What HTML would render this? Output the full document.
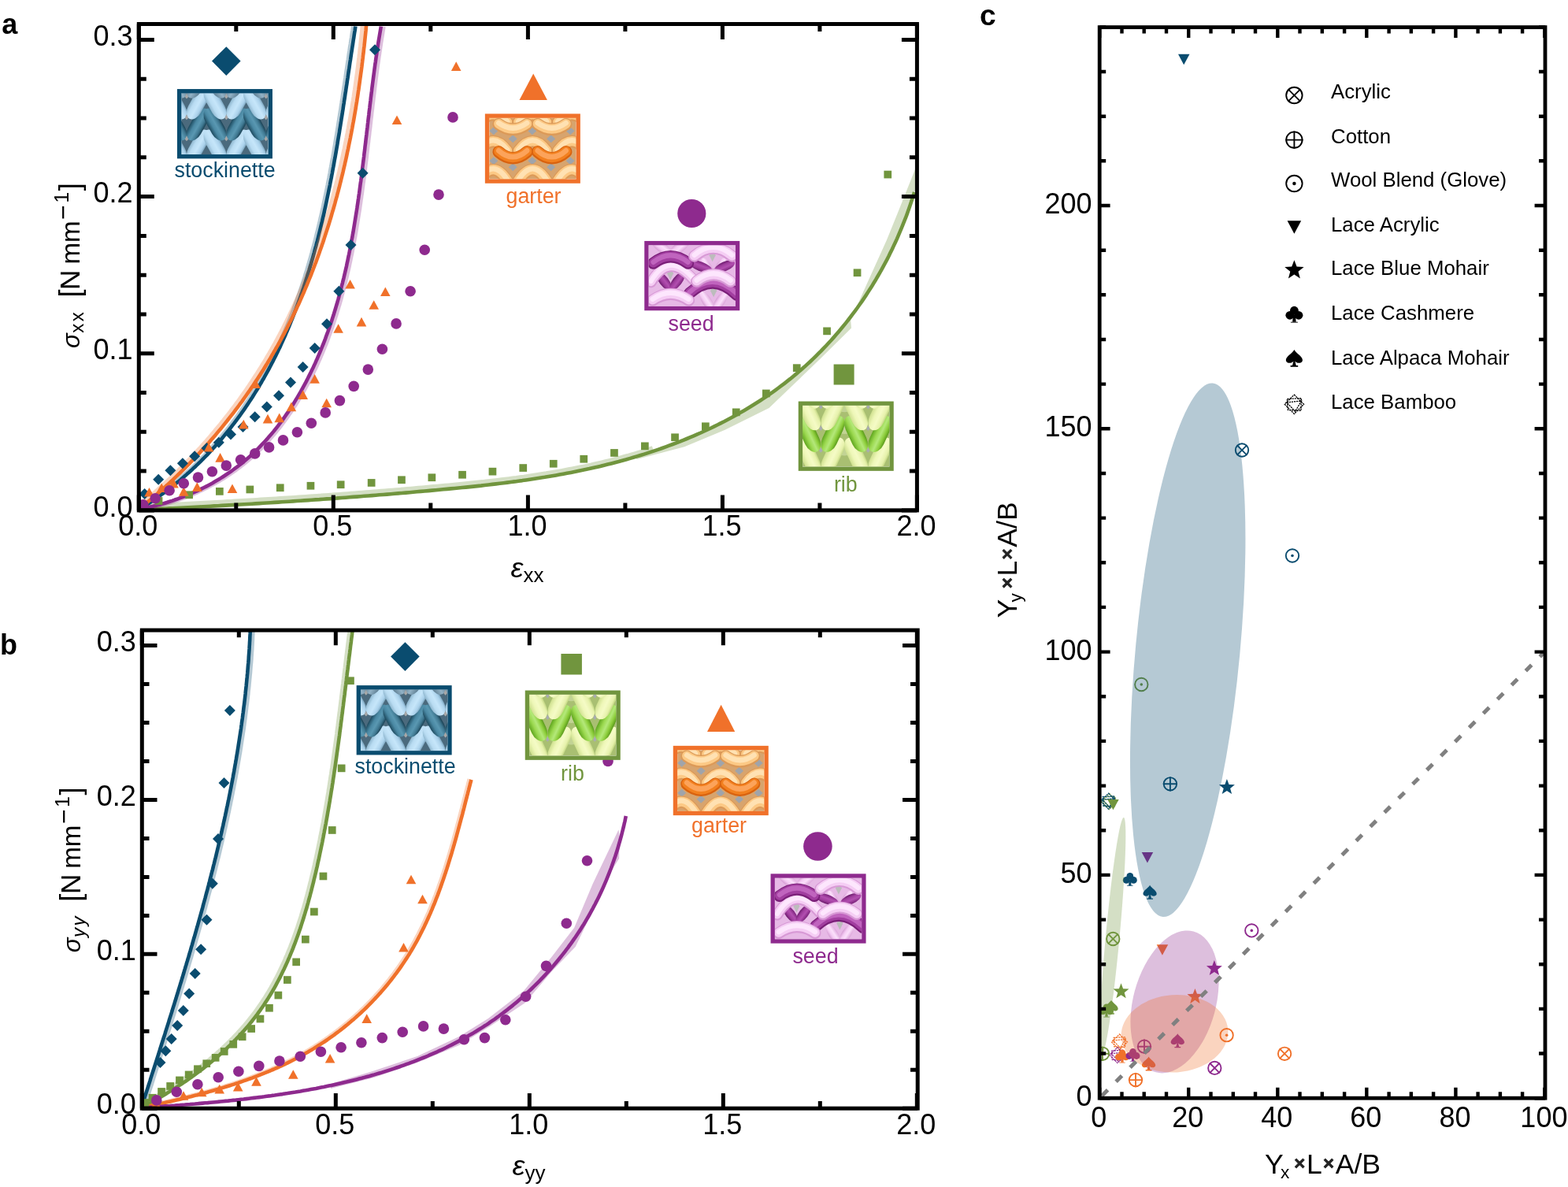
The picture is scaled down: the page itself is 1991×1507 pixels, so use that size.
<!DOCTYPE html><html><head><meta charset="utf-8"><style>html,body{margin:0;padding:0;background:#fff;overflow:hidden}svg{display:block}</style></head><body><svg width="1991" height="1507" viewBox="0 0 1991 1507" font-family="'Liberation Sans', sans-serif"><defs><linearGradient id="gLB" x1="0" y1="0" x2="1" y2="0"><stop offset="0" stop-color="#8fb7cf"/><stop offset="0.25" stop-color="#b9dcf2"/><stop offset="0.55" stop-color="#c6e6fa"/><stop offset="0.85" stop-color="#a9d0ea"/><stop offset="1" stop-color="#7ea7c0"/></linearGradient><linearGradient id="gMB" x1="0" y1="0" x2="1" y2="0"><stop offset="0" stop-color="#5d7d91"/><stop offset="0.5" stop-color="#92b2c6"/><stop offset="1" stop-color="#5d7d91"/></linearGradient><linearGradient id="gDB" x1="0" y1="0" x2="1" y2="0"><stop offset="0" stop-color="#1d4a5e"/><stop offset="0.3" stop-color="#4a88a3"/><stop offset="0.55" stop-color="#5a98b2"/><stop offset="0.8" stop-color="#3f7891"/><stop offset="1" stop-color="#1a4154"/></linearGradient><linearGradient id="gLO" x1="0" y1="0" x2="0" y2="1"><stop offset="0" stop-color="#e7a255"/><stop offset="0.4" stop-color="#fed9a2"/><stop offset="0.7" stop-color="#fcc985"/><stop offset="1" stop-color="#d98d40"/></linearGradient><linearGradient id="gDO" x1="0" y1="0" x2="0" y2="1"><stop offset="0" stop-color="#d4601a"/><stop offset="0.4" stop-color="#fa9a45"/><stop offset="0.7" stop-color="#f4832c"/><stop offset="1" stop-color="#c45514"/></linearGradient><linearGradient id="gLP" x1="0" y1="0" x2="0" y2="1"><stop offset="0" stop-color="#d9a0d6"/><stop offset="0.4" stop-color="#fbe0fb"/><stop offset="0.7" stop-color="#f5cdf4"/><stop offset="1" stop-color="#cf95cc"/></linearGradient><linearGradient id="gDP" x1="0" y1="0" x2="0" y2="1"><stop offset="0" stop-color="#6d1c6d"/><stop offset="0.4" stop-color="#b556b5"/><stop offset="0.7" stop-color="#a040a0"/><stop offset="1" stop-color="#5e165e"/></linearGradient><linearGradient id="gLPv" x1="0" y1="0" x2="1" y2="0"><stop offset="0" stop-color="#dca4da"/><stop offset="0.4" stop-color="#fbe0fb"/><stop offset="0.7" stop-color="#f5cdf4"/><stop offset="1" stop-color="#d59cd3"/></linearGradient><linearGradient id="gDPv" x1="0" y1="0" x2="1" y2="0"><stop offset="0" stop-color="#7a217a"/><stop offset="0.4" stop-color="#b24fb0"/><stop offset="0.7" stop-color="#a03e9e"/><stop offset="1" stop-color="#6b1a6b"/></linearGradient><linearGradient id="gLG" x1="0" y1="0" x2="1" y2="0"><stop offset="0" stop-color="#cfe08f"/><stop offset="0.3" stop-color="#eef7b8"/><stop offset="0.55" stop-color="#f5fbc6"/><stop offset="0.85" stop-color="#e6f1ab"/><stop offset="1" stop-color="#c2d683"/></linearGradient><linearGradient id="gBG" x1="0" y1="0" x2="1" y2="0"><stop offset="0" stop-color="#5fa51e"/><stop offset="0.3" stop-color="#9ad84e"/><stop offset="0.55" stop-color="#b4e87a"/><stop offset="0.8" stop-color="#8ccd3a"/><stop offset="1" stop-color="#5a9a1c"/></linearGradient><clipPath id="clipA"><rect x="176.3" y="30.5" width="988.1000000000001" height="617.4"/></clipPath><clipPath id="clipB"><rect x="180.3" y="800.1" width="984.9000000000001" height="607.1"/></clipPath><clipPath id="ic1"><rect x="230.2" y="118.3" width="110.4" height="77.7"/></clipPath><clipPath id="ic2"><rect x="621.2" y="149.7" width="110.4" height="77.7"/></clipPath><clipPath id="ic3"><rect x="823.6" y="311.3" width="110.4" height="77.7"/></clipPath><clipPath id="ic4"><rect x="1019.1" y="514.9" width="110.4" height="77.7"/></clipPath><clipPath id="ic5"><rect x="458.0" y="875.4" width="110.4" height="77.7"/></clipPath><clipPath id="ic6"><rect x="672.1" y="881.9" width="110.4" height="77.7"/></clipPath><clipPath id="ic7"><rect x="860.1" y="952.2" width="110.4" height="77.7"/></clipPath><clipPath id="ic8"><rect x="983.9" y="1114.6" width="110.4" height="77.7"/></clipPath><clipPath id="clipC"><rect x="1396.2" y="34.6" width="565.8" height="1359.6000000000001"/></clipPath></defs><rect width="1991" height="1507" fill="#fff"/><g clip-path="url(#clipA)">
<path d="M176.2,647.3 L181.0,647.1 L185.8,646.8 L190.6,646.6 L195.4,646.4 L200.2,646.1 L205.0,645.9 L209.8,645.7 L214.6,645.4 L219.4,645.2 L224.2,645.0 L229.0,644.7 L233.8,644.5 L238.6,644.2 L243.3,644.0 L248.1,643.7 L252.9,643.5 L257.7,643.2 L262.5,643.0 L267.2,642.7 L272.0,642.4 L276.8,642.2 L281.6,641.9 L286.4,641.6 L291.1,641.4 L295.9,641.1 L300.7,640.8 L305.5,640.5 L310.2,640.3 L315.0,640.0 L319.8,639.7 L324.5,639.4 L329.3,639.1 L334.1,638.8 L338.8,638.5 L343.6,638.2 L348.4,637.9 L353.2,637.6 L357.9,637.3 L362.7,637.0 L367.5,636.7 L372.2,636.4 L377.0,636.0 L381.7,635.7 L386.5,635.4 L391.3,635.1 L396.0,634.8 L400.8,634.4 L405.6,634.1 L410.3,633.7 L415.1,633.4 L419.9,633.1 L424.6,632.7 L429.4,632.4 L434.2,632.0 L438.9,631.7 L443.7,631.3 L448.5,630.9 L453.2,630.6 L458.0,630.2 L462.7,629.8 L467.5,629.5 L472.3,629.1 L477.0,628.7 L481.8,628.3 L486.6,628.0 L491.4,627.6 L496.1,627.2 L500.9,626.8 L505.7,626.4 L510.4,626.0 L515.2,625.6 L520.0,625.2 L524.7,624.8 L529.5,624.3 L534.3,623.9 L539.1,623.5 L543.8,623.1 L548.6,622.6 L553.4,622.2 L558.2,621.8 L563.0,621.3 L567.7,620.9 L572.5,620.4 L577.3,620.0 L582.1,619.5 L586.9,619.0 L591.6,618.6 L596.4,618.1 L601.2,617.6 L606.0,617.1 L610.8,616.6 L615.5,616.0 L620.3,615.5 L625.1,614.9 L629.8,614.4 L634.6,613.8 L639.4,613.2 L644.1,612.6 L648.9,612.0 L653.7,611.4 L658.4,610.7 L663.2,610.1 L667.9,609.4 L672.7,608.7 L677.5,608.0 L682.2,607.3 L686.9,606.5 L691.7,605.8 L696.4,605.0 L701.1,604.2 L705.9,603.4 L710.6,602.6 L715.3,601.7 L720.0,600.8 L724.8,599.9 L729.5,599.0 L734.2,598.0 L738.9,597.1 L743.6,596.1 L748.3,595.1 L752.9,594.0 L757.6,593.0 L762.3,591.9 L767.0,590.7 L771.6,589.6 L776.3,588.4 L780.9,587.2 L785.6,586.0 L790.2,584.7 L794.8,583.5 L799.5,582.1 L804.1,580.8 L808.7,579.4 L813.3,578.0 L817.9,576.6 L822.5,575.1 L827.0,573.6 L831.6,572.1 L836.1,570.6 L840.7,569.0 L845.2,567.4 L849.7,565.7 L854.2,564.0 L858.7,562.3 L863.2,560.6 L867.6,558.8 L872.1,557.0 L876.5,555.2 L880.9,553.3 L885.3,551.4 L889.7,549.5 L894.0,547.5 L898.4,545.5 L902.7,543.5 L907.0,541.4 L911.3,539.3 L915.5,537.1 L919.8,535.0 L924.0,532.8 L928.2,530.5 L932.4,528.2 L936.5,525.9 L940.7,523.6 L944.8,521.2 L948.9,518.8 L953.0,516.3 L957.0,513.8 L961.0,511.3 L965.0,508.7 L969.0,506.1 L972.9,503.5 L976.8,500.8 L980.7,498.1 L984.6,495.3 L988.4,492.5 L992.2,489.7 L996.0,486.8 L999.7,483.9 L1003.5,480.9 L1007.1,477.9 L1010.8,474.9 L1014.4,471.8 L1018.0,468.7 L1021.6,465.6 L1025.1,462.4 L1028.6,459.2 L1032.1,455.9 L1035.5,452.6 L1038.9,449.2 L1042.3,445.9 L1045.6,442.4 L1048.9,439.0 L1052.1,435.5 L1055.4,432.0 L1058.6,428.4 L1061.7,424.8 L1064.8,421.2 L1067.9,417.5 L1071.0,413.8 L1074.0,410.1 L1077.0,406.3 L1079.9,402.5 L1082.8,398.7 L1085.7,394.8 L1088.5,391.0 L1091.3,387.0 L1094.1,383.1 L1096.8,379.1 L1099.5,375.1 L1102.1,371.1 L1104.7,367.0 L1107.3,362.9 L1109.8,358.8 L1112.3,354.7 L1114.7,350.5 L1117.1,346.3 L1119.5,342.1 L1121.8,337.8 L1124.1,333.6 L1126.4,329.3 L1128.6,325.0 L1130.7,320.6 L1132.9,316.3 L1134.9,311.9 L1137.0,307.5 L1139.0,303.1 L1140.9,298.6 L1142.8,294.2 L1144.7,289.7 L1146.5,285.2 L1148.3,280.7 L1150.1,276.2 L1151.8,271.6 L1153.4,267.0 L1155.0,262.5 L1156.6,257.8 L1158.1,253.2 L1159.6,248.6 L1161.0,244.0" fill="none" stroke="#71953e" stroke-width="4.6" stroke-linejoin="round"/>
<path d="M178.2,643.3 L183.0,643.1 L187.8,642.8 L192.6,642.6 L197.4,642.4 L202.2,642.1 L207.0,641.9 L211.8,641.7 L216.6,641.4 L221.4,641.2 L226.2,641.0 L231.0,640.7 L235.8,640.5 L240.6,640.2 L245.3,640.0 L250.1,639.7 L254.9,639.5 L259.7,639.2 L264.5,639.0 L269.2,638.7 L274.0,638.4 L278.8,638.2 L283.6,637.9 L288.4,637.6 L293.1,637.4 L297.9,637.1 L302.7,636.8 L307.5,636.5 L312.2,636.3 L317.0,636.0 L321.8,635.7 L326.5,635.4 L331.3,635.1 L336.1,634.8 L340.8,634.5 L345.6,634.2 L350.4,633.9 L355.2,633.6 L359.9,633.3 L364.7,633.0 L369.5,632.7 L374.2,632.4 L379.0,632.0 L383.7,631.7 L388.5,631.4 L393.3,631.1 L398.0,630.8 L402.8,630.4 L407.6,630.1 L412.3,629.7 L417.1,629.4 L421.9,629.1 L426.6,628.7 L431.4,628.4 L436.2,628.0 L440.9,627.7 L445.7,627.3 L450.5,626.9 L455.2,626.6 L460.0,626.2 L464.7,625.8 L469.5,625.5 L474.3,625.1 L479.0,624.7 L483.8,624.3 L488.6,624.0 L493.4,623.6 L498.1,623.2 L502.9,622.8 L507.7,622.4 L512.4,622.0 L517.2,621.6 L522.0,621.2 L526.7,620.8 L531.5,620.3 L536.3,619.9 L541.1,619.5 L545.8,619.1 L550.6,618.6 L555.4,618.2 L560.2,617.8 L565.0,617.3 L569.7,616.9 L574.5,616.4 L579.3,616.0 L584.1,615.5 L588.9,615.0 L593.6,614.6 L598.4,614.1 L603.2,613.6 L608.0,613.1 L612.8,612.6 L617.5,612.0 L622.3,611.5 L627.1,610.9 L631.8,610.4 L636.6,609.8 L641.4,609.2 L646.1,608.6 L650.9,608.0 L655.7,607.4 L660.4,606.7 L665.2,606.1 L669.9,605.4 L674.7,604.7 L679.5,604.0 L684.2,603.3 L688.9,602.5 L693.7,601.8 L698.4,601.0 L703.1,600.2 L707.9,599.4 L712.6,598.6 L717.3,597.7 L722.0,596.8 L726.8,595.9 L731.5,595.0 L736.2,594.0 L740.9,593.1 L745.6,592.1 L750.3,591.1 L754.9,590.0 L759.6,589.0 L764.3,587.9 L769.0,586.7 L773.6,585.6 L778.3,584.4 L782.9,583.2 L787.6,582.0 L792.2,580.7 L796.8,579.5 L801.5,578.1 L806.1,576.8 L810.7,575.4 L815.3,574.0 L819.9,572.6 L824.5,571.1 L829.0,569.6" fill="none" stroke="#71953e" stroke-opacity="0.3" stroke-width="7" stroke-linejoin="round"/>
<polygon points="804.1,580.8 808.7,579.4 813.3,578.0 817.9,576.6 822.5,575.1 827.0,573.6 831.6,572.1 836.1,570.6 840.7,569.0 845.2,567.4 849.7,565.7 854.2,564.0 858.7,562.3 863.2,560.6 867.6,558.8 872.1,557.0 876.5,555.2 880.9,553.3 885.3,551.4 889.7,549.5 894.0,547.5 898.4,545.5 902.7,543.5 907.0,541.4 911.3,539.3 915.5,537.1 919.8,535.0 924.0,532.8 928.2,530.5 932.4,528.2 936.5,525.9 940.7,523.6 944.8,521.2 948.9,518.8 953.0,516.3 957.0,513.8 961.0,511.3 965.0,508.7 969.0,506.1 972.9,503.5 976.8,500.8 980.7,498.1 984.6,495.3 988.4,492.5 992.2,489.7 996.0,486.8 999.7,483.9 1003.5,480.9 1007.1,477.9 1010.8,474.9 1014.4,471.8 1018.0,468.7 1021.6,465.6 1025.1,462.4 1028.6,459.2 1032.1,455.9 1035.5,452.6 1038.9,449.2 1042.3,445.9 1045.6,442.4 1048.9,439.0 1052.1,435.5 1055.4,432.0 1058.6,428.4 1061.7,424.8 1064.8,421.2 1067.9,417.5 1071.0,413.8 1074.0,410.1 1077.0,406.3 1079.9,402.5 1081.0,416.5 1040.0,457.0 976.5,518.0 920.0,546.0 869.0,567.3 809.0,583.0" fill="#71953e" fill-opacity="0.3"/>
<polygon points="1079.9,402.5 1082.8,398.7 1085.7,394.8 1088.5,391.0 1091.3,387.0 1094.1,383.1 1096.8,379.1 1099.5,375.1 1102.1,371.1 1104.7,367.0 1107.3,362.9 1109.8,358.8 1112.3,354.7 1114.7,350.5 1117.1,346.3 1119.5,342.1 1121.8,337.8 1124.1,333.6 1126.4,329.3 1128.6,325.0 1130.7,320.6 1132.9,316.3 1134.9,311.9 1137.0,307.5 1139.0,303.1 1140.9,298.6 1142.8,294.2 1144.7,289.7 1146.5,285.2 1148.3,280.7 1150.1,276.2 1151.8,271.6 1153.4,267.0 1155.0,262.5 1156.6,257.8 1158.1,253.2 1159.6,248.6 1161.0,244.0 1166.0,236.0 1166.0,205.0 1161.6,216.0 1140.0,270.0 1125.8,305.0 1100.0,362.0 1083.0,400.0" fill="#71953e" fill-opacity="0.3"/>
<path d="M174.9,647.9 L177.5,646.3 L180.1,644.7 L182.7,643.1 L185.3,641.4 L187.9,639.8 L190.4,638.1 L193.0,636.4 L195.5,634.7 L198.0,633.0 L200.4,631.2 L202.9,629.5 L205.3,627.7 L207.8,626.0 L210.2,624.2 L212.6,622.4 L215.0,620.5 L217.3,618.7 L219.7,616.9 L222.0,615.0 L224.3,613.1 L226.6,611.3 L228.9,609.4 L231.1,607.4 L233.4,605.5 L235.6,603.6 L237.8,601.6 L240.0,599.7 L242.2,597.7 L244.4,595.7 L246.5,593.7 L248.7,591.7 L250.8,589.7 L252.9,587.6 L255.0,585.6 L257.0,583.5 L259.1,581.4 L261.1,579.4 L263.2,577.3 L265.2,575.2 L267.2,573.0 L269.2,570.9 L271.1,568.8 L273.1,566.6 L275.0,564.4 L276.9,562.3 L278.8,560.1 L280.7,557.9 L282.6,555.7 L284.5,553.4 L286.3,551.2 L288.1,549.0 L290.0,546.7 L291.8,544.5 L293.6,542.2 L295.3,539.9 L297.1,537.6 L298.8,535.3 L300.6,533.0 L302.3,530.7 L304.0,528.3 L305.7,526.0 L307.3,523.6 L309.0,521.3 L310.7,518.9 L312.3,516.5 L313.9,514.1 L315.5,511.7 L317.1,509.3 L318.7,506.9 L320.3,504.5 L321.8,502.0 L323.3,499.6 L324.9,497.1 L326.4,494.7 L327.9,492.2 L329.4,489.7 L330.8,487.2 L332.3,484.7 L333.7,482.2 L335.2,479.7 L336.6,477.2 L338.0,474.7 L339.4,472.2 L340.8,469.6 L342.1,467.1 L343.5,464.5 L344.8,461.9 L346.2,459.4 L347.5,456.8 L348.8,454.2 L350.1,451.6 L351.4,449.0 L352.7,446.4 L353.9,443.8 L355.2,441.2 L356.4,438.5 L357.6,435.9 L358.8,433.3 L360.0,430.6 L361.2,428.0 L362.4,425.3 L363.5,422.6 L364.7,420.0 L365.8,417.3 L367.0,414.6 L368.1,411.9 L369.2,409.2 L370.3,406.5 L371.4,403.8 L372.4,401.1 L373.5,398.4 L374.5,395.7 L375.6,393.0 L376.6,390.2 L377.6,387.5 L378.6,384.8 L379.6,382.0 L380.6,379.3 L381.6,376.5 L382.5,373.8 L383.5,371.0 L384.4,368.2 L385.4,365.5 L386.3,362.7 L387.2,359.9 L388.1,357.1 L389.0,354.3 L389.9,351.5 L390.7,348.7 L391.6,345.9 L392.5,343.1 L393.3,340.3 L394.1,337.5 L395.0,334.7 L395.8,331.9 L396.6,329.1 L397.4,326.3 L398.2,323.4 L399.0,320.6 L399.7,317.8 L400.5,314.9 L401.3,312.1 L402.0,309.2 L402.8,306.4 L403.5,303.6 L404.2,300.7 L404.9,297.8 L405.6,295.0 L406.3,292.1 L407.0,289.3 L407.7,286.4 L408.4,283.5 L409.1,280.7 L409.7,277.8 L410.4,274.9 L411.1,272.1 L411.7,269.2 L412.3,266.3 L413.0,263.4 L413.6,260.6 L414.2,257.7 L414.8,254.8 L415.4,251.9 L416.0,249.0 L416.6,246.1 L417.2,243.2 L417.8,240.3 L418.4,237.5 L419.0,234.6 L419.5,231.7 L420.1,228.8 L420.7,225.9 L421.2,223.0 L421.8,220.1 L422.3,217.2 L422.8,214.3 L423.4,211.4 L423.9,208.5 L424.4,205.6 L424.9,202.7 L425.5,199.8 L426.0,196.9 L426.5,194.0 L427.0,191.1 L427.5,188.2 L428.0,185.3 L428.5,182.4 L428.9,179.5 L429.4,176.6 L429.9,173.7 L430.4,170.8 L430.9,167.9 L431.3,165.0 L431.8,162.1 L432.3,159.2 L432.7,156.3 L433.2,153.4 L433.6,150.5 L434.1,147.6 L434.6,144.7 L435.0,141.8 L435.5,138.9 L435.9,136.0 L436.3,133.2 L436.8,130.3 L437.2,127.4 L437.7,124.5 L438.1,121.6 L438.5,118.7 L439.0,115.9 L439.4,113.0 L439.8,110.1 L440.3,107.2 L440.7,104.4 L441.1,101.5 L441.6,98.6 L442.0,95.8 L442.4,92.9 L442.8,90.1 L443.3,87.2 L443.7,84.4 L444.1,81.5 L444.5,78.7 L445.0,75.8 L445.4,73.0 L445.8,70.1 L446.2,67.3 L446.7,64.5 L447.1,61.6 L447.5,58.8 L448.0,56.0 L448.4,53.2 L448.8,50.3 L449.3,47.5 L449.7,44.7 L450.1,41.9 L450.6,39.1 L451.0,36.3 L451.4,33.5" fill="none" stroke="#0a4c6f" stroke-width="4.6" stroke-linejoin="round"/>
<path d="M171.4,647.9 L174.0,646.3 L176.6,644.7 L179.2,643.1 L181.8,641.4 L184.4,639.8 L186.9,638.1 L189.5,636.4 L192.0,634.7 L194.5,633.0 L196.9,631.2 L199.4,629.5 L201.8,627.7 L204.3,626.0 L206.7,624.2 L209.1,622.4 L211.5,620.5 L213.8,618.7 L216.2,616.9 L218.5,615.0 L220.8,613.1 L223.1,611.3 L225.4,609.4 L227.6,607.4 L229.9,605.5 L232.1,603.6 L234.3,601.6 L236.5,599.7 L238.7,597.7 L240.9,595.7 L243.0,593.7 L245.2,591.7 L247.3,589.7 L249.4,587.6 L251.5,585.6 L253.5,583.5 L255.6,581.4 L257.6,579.4 L259.7,577.3 L261.7,575.2 L263.7,573.0 L265.7,570.9 L267.6,568.8 L269.6,566.6 L271.5,564.4 L273.4,562.3 L275.3,560.1 L277.2,557.9 L279.1,555.7 L281.0,553.4 L282.8,551.2 L284.6,549.0 L286.5,546.7 L288.3,544.5 L290.1,542.2 L291.8,539.9 L293.6,537.6 L295.3,535.3 L297.1,533.0 L298.8,530.7 L300.5,528.3 L302.2,526.0 L303.8,523.6 L305.5,521.3 L307.2,518.9 L308.8,516.5 L310.4,514.1 L312.0,511.7 L313.6,509.3 L315.2,506.9 L316.8,504.5 L318.3,502.0 L319.8,499.6 L321.4,497.1 L322.9,494.7 L324.4,492.2 L325.9,489.7 L327.3,487.2 L328.8,484.7 L330.2,482.2 L331.7,479.7 L333.1,477.2 L334.5,474.7 L335.9,472.2 L337.3,469.6 L338.6,467.1 L340.0,464.5 L341.3,461.9 L342.7,459.4 L344.0,456.8 L345.3,454.2 L346.6,451.6 L347.9,449.0 L349.2,446.4 L350.4,443.8 L351.7,441.2 L352.9,438.5 L354.1,435.9 L355.3,433.3 L356.5,430.6 L357.7,428.0 L358.9,425.3 L360.0,422.6 L361.2,420.0 L362.3,417.3 L363.5,414.6 L364.6,411.9 L365.7,409.2 L366.8,406.5 L367.9,403.8 L368.9,401.1 L370.0,398.4 L371.0,395.7 L372.1,393.0 L373.1,390.2 L374.1,387.5 L375.1,384.8 L376.1,382.0 L377.1,379.3 L378.1,376.5 L379.0,373.8 L380.0,371.0 L380.9,368.2 L381.9,365.5 L382.8,362.7 L383.7,359.9 L384.6,357.1 L385.5,354.3 L386.4,351.5 L387.2,348.7 L388.1,345.9 L389.0,343.1 L389.8,340.3 L390.6,337.5 L391.5,334.7 L392.3,331.9 L393.1,329.1 L393.9,326.3 L394.7,323.4 L395.5,320.6 L396.2,317.8 L397.0,314.9 L397.8,312.1 L398.5,309.2 L399.3,306.4 L400.0,303.6 L400.7,300.7 L401.4,297.8 L402.1,295.0 L402.8,292.1 L403.5,289.3 L404.2,286.4 L404.9,283.5 L405.6,280.7 L406.2,277.8 L406.9,274.9 L407.6,272.1 L408.2,269.2 L408.8,266.3 L409.5,263.4 L410.1,260.6 L410.7,257.7 L411.3,254.8 L411.9,251.9 L412.5,249.0 L413.1,246.1 L413.7,243.2 L414.3,240.3 L414.9,237.5 L415.5,234.6 L416.0,231.7 L416.6,228.8 L417.2,225.9 L417.7,223.0 L418.3,220.1 L418.8,217.2 L419.3,214.3 L419.9,211.4 L420.4,208.5 L420.9,205.6 L421.4,202.7 L422.0,199.8 L422.5,196.9 L423.0,194.0 L423.5,191.1 L424.0,188.2 L424.5,185.3 L425.0,182.4 L425.4,179.5 L425.9,176.6 L426.4,173.7 L426.9,170.8 L427.4,167.9 L427.8,165.0 L428.3,162.1 L428.8,159.2 L429.2,156.3 L429.7,153.4 L430.1,150.5 L430.6,147.6 L431.1,144.7 L431.5,141.8 L432.0,138.9 L432.4,136.0 L432.8,133.2 L433.3,130.3 L433.7,127.4 L434.2,124.5 L434.6,121.6 L435.0,118.7 L435.5,115.9 L435.9,113.0 L436.3,110.1 L436.8,107.2 L437.2,104.4 L437.6,101.5 L438.1,98.6 L438.5,95.8 L438.9,92.9 L439.3,90.1 L439.8,87.2 L440.2,84.4 L440.6,81.5 L441.0,78.7 L441.5,75.8 L441.9,73.0 L442.3,70.1 L442.7,67.3 L443.2,64.5 L443.6,61.6 L444.0,58.8 L444.5,56.0 L444.9,53.2 L445.3,50.3 L445.8,47.5 L446.2,44.7 L446.6,41.9 L447.1,39.1 L447.5,36.3 L447.9,33.5" fill="none" stroke="#0a4c6f" stroke-opacity="0.3" stroke-width="4" stroke-linejoin="round"/>
<path d="M175.2,647.4 L177.5,645.5 L179.8,643.6 L182.1,641.8 L184.4,639.9 L186.7,638.0 L189.0,636.1 L191.3,634.2 L193.5,632.3 L195.8,630.4 L198.0,628.4 L200.3,626.5 L202.5,624.5 L204.7,622.6 L206.9,620.6 L209.1,618.6 L211.3,616.6 L213.5,614.7 L215.7,612.7 L217.8,610.6 L220.0,608.6 L222.1,606.6 L224.2,604.6 L226.4,602.5 L228.5,600.5 L230.6,598.4 L232.7,596.3 L234.8,594.3 L236.9,592.2 L238.9,590.1 L241.0,588.0 L243.0,585.9 L245.1,583.8 L247.1,581.7 L249.1,579.5 L251.1,577.4 L253.2,575.2 L255.1,573.1 L257.1,570.9 L259.1,568.8 L261.1,566.6 L263.0,564.4 L265.0,562.2 L266.9,560.0 L268.8,557.8 L270.8,555.6 L272.7,553.4 L274.6,551.1 L276.4,548.9 L278.3,546.6 L280.2,544.4 L282.1,542.1 L283.9,539.9 L285.7,537.6 L287.6,535.3 L289.4,533.0 L291.2,530.7 L293.0,528.4 L294.8,526.1 L296.6,523.8 L298.3,521.5 L300.1,519.2 L301.9,516.8 L303.6,514.5 L305.3,512.1 L307.1,509.8 L308.8,507.4 L310.5,505.0 L312.2,502.7 L313.8,500.3 L315.5,497.9 L317.2,495.5 L318.8,493.1 L320.5,490.7 L322.1,488.3 L323.7,485.8 L325.3,483.4 L326.9,481.0 L328.5,478.5 L330.1,476.1 L331.7,473.6 L333.2,471.2 L334.8,468.7 L336.3,466.2 L337.8,463.7 L339.4,461.3 L340.9,458.8 L342.4,456.3 L343.8,453.8 L345.3,451.2 L346.8,448.7 L348.2,446.2 L349.7,443.7 L351.1,441.1 L352.6,438.6 L354.0,436.1 L355.4,433.5 L356.8,431.0 L358.1,428.4 L359.5,425.8 L360.9,423.3 L362.2,420.7 L363.6,418.1 L364.9,415.5 L366.2,412.9 L367.5,410.3 L368.8,407.7 L370.1,405.1 L371.4,402.5 L372.7,399.8 L373.9,397.2 L375.2,394.6 L376.4,392.0 L377.6,389.3 L378.9,386.7 L380.1,384.0 L381.3,381.4 L382.4,378.7 L383.6,376.0 L384.8,373.4 L386.0,370.7 L387.1,368.0 L388.2,365.3 L389.4,362.6 L390.5,359.9 L391.6,357.2 L392.7,354.5 L393.8,351.8 L394.9,349.1 L395.9,346.4 L397.0,343.7 L398.0,341.0 L399.1,338.2 L400.1,335.5 L401.2,332.8 L402.2,330.0 L403.2,327.3 L404.2,324.5 L405.2,321.8 L406.1,319.0 L407.1,316.3 L408.1,313.5 L409.0,310.7 L410.0,308.0 L410.9,305.2 L411.8,302.4 L412.7,299.6 L413.6,296.8 L414.5,294.1 L415.4,291.3 L416.3,288.5 L417.2,285.7 L418.1,282.9 L418.9,280.1 L419.8,277.3 L420.6,274.5 L421.4,271.6 L422.2,268.8 L423.1,266.0 L423.9,263.2 L424.7,260.4 L425.5,257.5 L426.2,254.7 L427.0,251.9 L427.8,249.1 L428.5,246.2 L429.3,243.4 L430.0,240.5 L430.8,237.7 L431.5,234.8 L432.2,232.0 L432.9,229.1 L433.6,226.3 L434.3,223.4 L435.0,220.6 L435.7,217.7 L436.3,214.9 L437.0,212.0 L437.7,209.1 L438.3,206.3 L439.0,203.4 L439.6,200.5 L440.2,197.7 L440.8,194.8 L441.4,191.9 L442.1,189.0 L442.6,186.2 L443.2,183.3 L443.8,180.4 L444.4,177.5 L445.0,174.6 L445.5,171.7 L446.1,168.9 L446.6,166.0 L447.2,163.1 L447.7,160.2 L448.2,157.3 L448.8,154.4 L449.3,151.5 L449.8,148.6 L450.3,145.7 L450.8,142.8 L451.3,139.9 L451.8,137.0 L452.2,134.1 L452.7,131.2 L453.2,128.3 L453.6,125.4 L454.1,122.5 L454.5,119.6 L454.9,116.7 L455.4,113.8 L455.8,110.9 L456.2,108.0 L456.6,105.1 L457.0,102.2 L457.4,99.3 L457.8,96.4 L458.2,93.5 L458.6,90.6 L459.0,87.7 L459.4,84.8 L459.7,81.9 L460.1,79.0 L460.4,76.1 L460.8,73.2 L461.1,70.3 L461.5,67.4 L461.8,64.5 L462.1,61.6 L462.5,58.7 L462.8,55.8 L463.1,52.9 L463.4,50.0 L463.7,47.1 L464.0,44.2 L464.3,41.3 L464.6,38.4 L464.8,35.6 L465.1,32.7" fill="none" stroke="#f0712a" stroke-width="4.6" stroke-linejoin="round"/>
<path d="M171.2,647.4 L173.5,645.5 L175.8,643.6 L178.1,641.8 L180.4,639.9 L182.7,638.0 L185.0,636.1 L187.3,634.2 L189.5,632.3 L191.8,630.4 L194.0,628.4 L196.3,626.5 L198.5,624.5 L200.7,622.6 L202.9,620.6 L205.1,618.6 L207.3,616.6 L209.5,614.7 L211.7,612.7 L213.8,610.6 L216.0,608.6 L218.1,606.6 L220.2,604.6 L222.4,602.5 L224.5,600.5 L226.6,598.4 L228.7,596.3 L230.8,594.3 L232.9,592.2 L234.9,590.1 L237.0,588.0 L239.0,585.9 L241.1,583.8 L243.1,581.7 L245.1,579.5 L247.1,577.4 L249.2,575.2 L251.1,573.1 L253.1,570.9 L255.1,568.8 L257.1,566.6 L259.0,564.4 L261.0,562.2 L262.9,560.0 L264.8,557.8 L266.8,555.6 L268.7,553.4 L270.6,551.1 L272.4,548.9 L274.3,546.6 L276.2,544.4 L278.1,542.1 L279.9,539.9 L281.7,537.6 L283.6,535.3 L285.4,533.0 L287.2,530.7 L289.0,528.4 L290.8,526.1 L292.6,523.8 L294.3,521.5 L296.1,519.2 L297.9,516.8 L299.6,514.5 L301.3,512.1 L303.1,509.8 L304.8,507.4 L306.5,505.0 L308.2,502.7 L309.8,500.3 L311.5,497.9 L313.2,495.5 L314.8,493.1 L316.5,490.7 L318.1,488.3 L319.7,485.8 L321.3,483.4 L322.9,481.0 L324.5,478.5 L326.1,476.1 L327.7,473.6 L329.2,471.2 L330.8,468.7 L332.3,466.2 L333.8,463.7 L335.4,461.3 L336.9,458.8 L338.4,456.3 L339.8,453.8 L341.3,451.2 L342.8,448.7 L344.2,446.2 L345.7,443.7 L347.1,441.1 L348.6,438.6 L350.0,436.1 L351.4,433.5 L352.8,431.0 L354.1,428.4 L355.5,425.8 L356.9,423.3 L358.2,420.7 L359.6,418.1 L360.9,415.5 L362.2,412.9 L363.5,410.3 L364.8,407.7 L366.1,405.1 L367.4,402.5 L368.7,399.8 L369.9,397.2 L371.2,394.6 L372.4,392.0 L373.6,389.3 L374.9,386.7 L376.1,384.0 L377.3,381.4 L378.4,378.7 L379.6,376.0 L380.8,373.4 L382.0,370.7 L383.1,368.0 L384.2,365.3 L385.4,362.6 L386.5,359.9 L387.6,357.2 L388.7,354.5 L389.8,351.8 L390.9,349.1 L391.9,346.4 L393.0,343.7 L394.0,341.0 L395.1,338.2 L396.1,335.5 L397.2,332.8 L398.2,330.0 L399.2,327.3 L400.2,324.5 L401.2,321.8 L402.1,319.0 L403.1,316.3 L404.1,313.5 L405.0,310.7 L406.0,308.0 L406.9,305.2 L407.8,302.4 L408.7,299.6 L409.6,296.8 L410.5,294.1 L411.4,291.3 L412.3,288.5 L413.2,285.7 L414.1,282.9 L414.9,280.1 L415.8,277.3 L416.6,274.5 L417.4,271.6 L418.2,268.8 L419.1,266.0 L419.9,263.2 L420.7,260.4 L421.5,257.5 L422.2,254.7 L423.0,251.9 L423.8,249.1 L424.5,246.2 L425.3,243.4 L426.0,240.5 L426.8,237.7 L427.5,234.8 L428.2,232.0 L428.9,229.1 L429.6,226.3 L430.3,223.4 L431.0,220.6 L431.7,217.7 L432.3,214.9 L433.0,212.0 L433.7,209.1 L434.3,206.3 L435.0,203.4 L435.6,200.5 L436.2,197.7 L436.8,194.8 L437.4,191.9 L438.1,189.0 L438.6,186.2 L439.2,183.3 L439.8,180.4 L440.4,177.5 L441.0,174.6 L441.5,171.7 L442.1,168.9 L442.6,166.0 L443.2,163.1 L443.7,160.2 L444.2,157.3 L444.8,154.4 L445.3,151.5 L445.8,148.6 L446.3,145.7 L446.8,142.8 L447.3,139.9 L447.8,137.0 L448.2,134.1 L448.7,131.2 L449.2,128.3 L449.6,125.4 L450.1,122.5 L450.5,119.6 L450.9,116.7 L451.4,113.8 L451.8,110.9 L452.2,108.0 L452.6,105.1 L453.0,102.2 L453.4,99.3 L453.8,96.4 L454.2,93.5 L454.6,90.6 L455.0,87.7 L455.4,84.8 L455.7,81.9 L456.1,79.0 L456.4,76.1 L456.8,73.2 L457.1,70.3 L457.5,67.4 L457.8,64.5 L458.1,61.6 L458.5,58.7 L458.8,55.8 L459.1,52.9 L459.4,50.0 L459.7,47.1 L460.0,44.2 L460.3,41.3 L460.6,38.4 L460.8,35.6 L461.1,32.7" fill="none" stroke="#f0712a" stroke-opacity="0.3" stroke-width="7" stroke-linejoin="round"/>
<path d="M175.3,646.7 L178.5,646.1 L181.6,645.5 L184.7,644.9 L187.9,644.2 L191.0,643.5 L194.1,642.8 L197.2,642.0 L200.3,641.2 L203.4,640.4 L206.4,639.6 L209.5,638.7 L212.5,637.8 L215.5,636.8 L218.5,635.9 L221.5,634.8 L224.5,633.8 L227.5,632.7 L230.4,631.6 L233.4,630.5 L236.3,629.4 L239.2,628.2 L242.1,627.0 L244.9,625.7 L247.8,624.4 L250.6,623.1 L253.4,621.8 L256.2,620.4 L259.0,619.0 L261.8,617.6 L264.5,616.2 L267.3,614.7 L270.0,613.2 L272.7,611.6 L275.3,610.1 L278.0,608.5 L280.6,606.9 L283.2,605.2 L285.8,603.5 L288.4,601.8 L290.9,600.1 L293.5,598.3 L296.0,596.5 L298.4,594.7 L300.9,592.9 L303.3,591.0 L305.7,589.1 L308.1,587.2 L310.5,585.2 L312.8,583.2 L315.2,581.2 L317.5,579.2 L319.7,577.1 L322.0,575.0 L324.2,572.9 L326.4,570.8 L328.6,568.6 L330.7,566.4 L332.8,564.2 L335.0,562.0 L337.0,559.7 L339.1,557.4 L341.1,555.1 L343.1,552.8 L345.1,550.5 L347.1,548.1 L349.0,545.7 L351.0,543.3 L352.9,540.9 L354.7,538.4 L356.6,536.0 L358.4,533.5 L360.3,531.0 L362.0,528.5 L363.8,525.9 L365.6,523.4 L367.3,520.8 L369.0,518.2 L370.7,515.6 L372.4,513.0 L374.0,510.4 L375.6,507.7 L377.2,505.1 L378.8,502.4 L380.4,499.7 L381.9,497.1 L383.4,494.3 L384.9,491.6 L386.4,488.9 L387.9,486.2 L389.3,483.4 L390.7,480.7 L392.1,477.9 L393.5,475.1 L394.9,472.3 L396.2,469.5 L397.6,466.8 L398.9,463.9 L400.2,461.1 L401.4,458.3 L402.7,455.5 L403.9,452.6 L405.1,449.8 L406.3,447.0 L407.5,444.1 L408.7,441.2 L409.8,438.4 L411.0,435.5 L412.1,432.6 L413.2,429.7 L414.2,426.8 L415.3,423.9 L416.4,421.0 L417.4,418.1 L418.4,415.2 L419.4,412.3 L420.4,409.4 L421.4,406.4 L422.3,403.5 L423.3,400.6 L424.2,397.6 L425.1,394.6 L426.0,391.7 L426.9,388.7 L427.8,385.8 L428.6,382.8 L429.5,379.8 L430.3,376.8 L431.1,373.8 L431.9,370.8 L432.7,367.8 L433.5,364.8 L434.2,361.8 L435.0,358.8 L435.7,355.8 L436.5,352.8 L437.2,349.8 L437.9,346.7 L438.6,343.7 L439.3,340.7 L440.0,337.7 L440.6,334.6 L441.3,331.6 L441.9,328.5 L442.5,325.5 L443.2,322.4 L443.8,319.4 L444.4,316.3 L445.0,313.2 L445.6,310.2 L446.1,307.1 L446.7,304.0 L447.3,301.0 L447.8,297.9 L448.4,294.8 L448.9,291.7 L449.4,288.7 L449.9,285.6 L450.4,282.5 L450.9,279.4 L451.4,276.3 L451.9,273.2 L452.4,270.1 L452.9,267.0 L453.4,263.9 L453.8,260.8 L454.3,257.7 L454.7,254.6 L455.2,251.5 L455.6,248.4 L456.1,245.3 L456.5,242.2 L456.9,239.1 L457.3,236.0 L457.7,232.9 L458.2,229.8 L458.6,226.7 L459.0,223.6 L459.4,220.5 L459.8,217.4 L460.1,214.3 L460.5,211.2 L460.9,208.0 L461.3,204.9 L461.7,201.8 L462.1,198.7 L462.4,195.6 L462.8,192.5 L463.2,189.4 L463.5,186.3 L463.9,183.2 L464.3,180.1 L464.6,177.0 L465.0,173.9 L465.4,170.8 L465.7,167.7 L466.1,164.6 L466.5,161.5 L466.8,158.4 L467.2,155.3 L467.5,152.2 L467.9,149.1 L468.3,146.0 L468.6,142.9 L469.0,139.8 L469.4,136.8 L469.7,133.7 L470.1,130.6 L470.5,127.5 L470.8,124.4 L471.2,121.4 L471.6,118.3 L472.0,115.2 L472.3,112.2 L472.7,109.1 L473.1,106.0 L473.5,103.0 L473.9,99.9 L474.3,96.9 L474.7,93.8 L475.1,90.8 L475.5,87.7 L475.9,84.7 L476.3,81.7 L476.8,78.6 L477.2,75.6 L477.6,72.6 L478.1,69.6 L478.5,66.6 L479.0,63.5 L479.4,60.5 L479.9,57.5 L480.3,54.5 L480.8,51.5 L481.3,48.6 L481.8,45.6 L482.3,42.6 L482.8,39.6 L483.3,36.6 L483.8,33.7" fill="none" stroke="#8e2a8e" stroke-width="4.6" stroke-linejoin="round"/>
<path d="M178.3,646.7 L181.5,646.1 L184.6,645.5 L187.7,644.9 L190.9,644.2 L194.0,643.5 L197.1,642.8 L200.2,642.0 L203.3,641.2 L206.4,640.4 L209.4,639.6 L212.5,638.7 L215.5,637.8 L218.5,636.8 L221.5,635.9 L224.5,634.8 L227.5,633.8 L230.5,632.7 L233.4,631.6 L236.4,630.5 L239.3,629.4 L242.2,628.2 L245.1,627.0 L247.9,625.7 L250.8,624.4 L253.6,623.1 L256.4,621.8 L259.2,620.4 L262.0,619.0 L264.8,617.6 L267.5,616.2 L270.3,614.7 L273.0,613.2 L275.7,611.6 L278.3,610.1 L281.0,608.5 L283.6,606.9 L286.2,605.2 L288.8,603.5 L291.4,601.8 L293.9,600.1 L296.5,598.3 L299.0,596.5 L301.4,594.7 L303.9,592.9 L306.3,591.0 L308.7,589.1 L311.1,587.2 L313.5,585.2 L315.8,583.2 L318.2,581.2 L320.5,579.2 L322.7,577.1 L325.0,575.0 L327.2,572.9 L329.4,570.8 L331.6,568.6 L333.7,566.4 L335.8,564.2 L338.0,562.0 L340.0,559.7 L342.1,557.4 L344.1,555.1 L346.1,552.8 L348.1,550.5 L350.1,548.1 L352.0,545.7 L354.0,543.3 L355.9,540.9 L357.7,538.4 L359.6,536.0 L361.4,533.5 L363.3,531.0 L365.0,528.5 L366.8,525.9 L368.6,523.4 L370.3,520.8 L372.0,518.2 L373.7,515.6 L375.4,513.0 L377.0,510.4 L378.6,507.7 L380.2,505.1 L381.8,502.4 L383.4,499.7 L384.9,497.1 L386.4,494.3 L387.9,491.6 L389.4,488.9 L390.9,486.2 L392.3,483.4 L393.7,480.7 L395.1,477.9 L396.5,475.1 L397.9,472.3 L399.2,469.5 L400.6,466.8 L401.9,463.9 L403.2,461.1 L404.4,458.3 L405.7,455.5 L406.9,452.6 L408.1,449.8 L409.3,447.0 L410.5,444.1 L411.7,441.2 L412.8,438.4 L414.0,435.5 L415.1,432.6 L416.2,429.7 L417.2,426.8 L418.3,423.9 L419.4,421.0 L420.4,418.1 L421.4,415.2 L422.4,412.3 L423.4,409.4 L424.4,406.4 L425.3,403.5 L426.3,400.6 L427.2,397.6 L428.1,394.6 L429.0,391.7 L429.9,388.7 L430.8,385.8 L431.6,382.8 L432.5,379.8 L433.3,376.8 L434.1,373.8 L434.9,370.8 L435.7,367.8 L436.5,364.8 L437.2,361.8 L438.0,358.8 L438.7,355.8 L439.5,352.8 L440.2,349.8 L440.9,346.7 L441.6,343.7 L442.3,340.7 L443.0,337.7 L443.6,334.6 L444.3,331.6 L444.9,328.5 L445.5,325.5 L446.2,322.4 L446.8,319.4 L447.4,316.3 L448.0,313.2 L448.6,310.2 L449.1,307.1 L449.7,304.0 L450.3,301.0 L450.8,297.9 L451.4,294.8 L451.9,291.7 L452.4,288.7 L452.9,285.6 L453.4,282.5 L453.9,279.4 L454.4,276.3 L454.9,273.2 L455.4,270.1 L455.9,267.0 L456.4,263.9 L456.8,260.8 L457.3,257.7 L457.7,254.6 L458.2,251.5 L458.6,248.4 L459.1,245.3 L459.5,242.2 L459.9,239.1 L460.3,236.0 L460.7,232.9 L461.2,229.8 L461.6,226.7 L462.0,223.6 L462.4,220.5 L462.8,217.4 L463.1,214.3 L463.5,211.2 L463.9,208.0 L464.3,204.9 L464.7,201.8 L465.1,198.7 L465.4,195.6 L465.8,192.5 L466.2,189.4 L466.5,186.3 L466.9,183.2 L467.3,180.1 L467.6,177.0 L468.0,173.9 L468.4,170.8 L468.7,167.7 L469.1,164.6 L469.5,161.5 L469.8,158.4 L470.2,155.3 L470.5,152.2 L470.9,149.1 L471.3,146.0 L471.6,142.9 L472.0,139.8 L472.4,136.8 L472.7,133.7 L473.1,130.6 L473.5,127.5 L473.8,124.4 L474.2,121.4 L474.6,118.3 L475.0,115.2 L475.3,112.2 L475.7,109.1 L476.1,106.0 L476.5,103.0 L476.9,99.9 L477.3,96.9 L477.7,93.8 L478.1,90.8 L478.5,87.7 L478.9,84.7 L479.3,81.7 L479.8,78.6 L480.2,75.6 L480.6,72.6 L481.1,69.6 L481.5,66.6 L482.0,63.5 L482.4,60.5 L482.9,57.5 L483.3,54.5 L483.8,51.5 L484.3,48.6 L484.8,45.6 L485.3,42.6 L485.8,39.6 L486.3,36.6 L486.8,33.7" fill="none" stroke="#8e2a8e" stroke-opacity="0.3" stroke-width="6" stroke-linejoin="round"/>
<rect x="196.7" y="631.1" width="9.7" height="9.7" fill="#71953e"/>
<rect x="235.3" y="623.4" width="9.7" height="9.7" fill="#71953e"/>
<rect x="274.0" y="619.0" width="9.7" height="9.7" fill="#71953e"/>
<rect x="312.5" y="616.6" width="9.7" height="9.7" fill="#71953e"/>
<rect x="350.9" y="614.4" width="9.7" height="9.7" fill="#71953e"/>
<rect x="389.6" y="611.9" width="9.7" height="9.7" fill="#71953e"/>
<rect x="427.8" y="610.4" width="9.7" height="9.7" fill="#71953e"/>
<rect x="466.8" y="608.1" width="9.7" height="9.7" fill="#71953e"/>
<rect x="505.1" y="604.4" width="9.7" height="9.7" fill="#71953e"/>
<rect x="543.5" y="601.4" width="9.7" height="9.7" fill="#71953e"/>
<rect x="582.2" y="597.9" width="9.7" height="9.7" fill="#71953e"/>
<rect x="620.6" y="593.8" width="9.7" height="9.7" fill="#71953e"/>
<rect x="659.4" y="589.2" width="9.7" height="9.7" fill="#71953e"/>
<rect x="697.9" y="583.9" width="9.7" height="9.7" fill="#71953e"/>
<rect x="736.4" y="577.9" width="9.7" height="9.7" fill="#71953e"/>
<rect x="775.1" y="570.1" width="9.7" height="9.7" fill="#71953e"/>
<rect x="814.0" y="561.5" width="9.7" height="9.7" fill="#71953e"/>
<rect x="852.2" y="550.4" width="9.7" height="9.7" fill="#71953e"/>
<rect x="891.0" y="536.4" width="9.7" height="9.7" fill="#71953e"/>
<rect x="929.9" y="518.5" width="9.7" height="9.7" fill="#71953e"/>
<rect x="968.0" y="494.6" width="9.7" height="9.7" fill="#71953e"/>
<rect x="1006.9" y="462.3" width="9.7" height="9.7" fill="#71953e"/>
<rect x="1045.2" y="415.5" width="9.7" height="9.7" fill="#71953e"/>
<rect x="1083.7" y="341.4" width="9.7" height="9.7" fill="#71953e"/>
<rect x="1122.4" y="216.7" width="9.7" height="9.7" fill="#71953e"/>
<polygon points="183.6,620.0 190.6,627.0 183.6,634.0 176.6,627.0" fill="#0a4c6f" />
<polygon points="201.2,601.8 208.2,608.8 201.2,615.8 194.2,608.8" fill="#0a4c6f" />
<polygon points="216.4,590.3 223.4,597.3 216.4,604.3 209.4,597.3" fill="#0a4c6f" />
<polygon points="231.9,581.3 238.9,588.3 231.9,595.3 224.9,588.3" fill="#0a4c6f" />
<polygon points="247.1,572.2 254.1,579.2 247.1,586.2 240.1,579.2" fill="#0a4c6f" />
<polygon points="262.5,562.0 269.5,569.0 262.5,576.0 255.5,569.0" fill="#0a4c6f" />
<polygon points="277.8,554.7 284.8,561.7 277.8,568.7 270.8,561.7" fill="#0a4c6f" />
<polygon points="293.0,544.6 300.0,551.6 293.0,558.6 286.0,551.6" fill="#0a4c6f" />
<polygon points="308.5,535.0 315.5,542.0 308.5,549.0 301.5,542.0" fill="#0a4c6f" />
<polygon points="323.7,522.3 330.7,529.3 323.7,536.3 316.7,529.3" fill="#0a4c6f" />
<polygon points="338.8,509.5 345.8,516.5 338.8,523.5 331.8,516.5" fill="#0a4c6f" />
<polygon points="354.0,495.2 361.0,502.2 354.0,509.2 347.0,502.2" fill="#0a4c6f" />
<polygon points="369.0,478.5 376.0,485.5 369.0,492.5 362.0,485.5" fill="#0a4c6f" />
<polygon points="384.6,459.0 391.6,466.0 384.6,473.0 377.6,466.0" fill="#0a4c6f" />
<polygon points="399.7,435.1 406.7,442.1 399.7,449.1 392.7,442.1" fill="#0a4c6f" />
<polygon points="415.0,404.2 422.0,411.2 415.0,418.2 408.0,411.2" fill="#0a4c6f" />
<polygon points="430.3,362.7 437.3,369.7 430.3,376.7 423.3,369.7" fill="#0a4c6f" />
<polygon points="445.5,304.0 452.5,311.0 445.5,318.0 438.5,311.0" fill="#0a4c6f" />
<polygon points="460.6,212.7 467.6,219.7 460.6,226.7 453.6,219.7" fill="#0a4c6f" />
<polygon points="476.0,56.2 483.0,63.2 476.0,70.2 469.0,63.2" fill="#0a4c6f" />
<polygon points="189.5,618.9 195.8,630.5 183.2,630.5" fill="#f0712a" />
<polygon points="205.2,613.4 211.5,625.0 198.9,625.0" fill="#f0712a" />
<polygon points="220.5,607.9 226.8,619.5 214.2,619.5" fill="#f0712a" />
<polygon points="233.3,618.1 239.6,629.7 227.0,629.7" fill="#f0712a" />
<polygon points="250.3,612.3 256.6,623.9 244.0,623.9" fill="#f0712a" />
<polygon points="265.0,561.9 271.3,573.5 258.7,573.5" fill="#f0712a" />
<polygon points="279.6,575.1 285.9,586.7 273.3,586.7" fill="#f0712a" />
<polygon points="295.0,614.5 301.3,626.1 288.7,626.1" fill="#f0712a" />
<polygon points="309.3,532.8 315.6,544.4 303.0,544.4" fill="#f0712a" />
<polygon points="324.6,481.4 330.9,493.0 318.3,493.0" fill="#f0712a" />
<polygon points="340.0,525.8 346.3,537.4 333.7,537.4" fill="#f0712a" />
<polygon points="354.7,524.6 361.0,536.2 348.4,536.2" fill="#f0712a" />
<polygon points="369.9,510.6 376.2,522.2 363.6,522.2" fill="#f0712a" />
<polygon points="384.7,495.3 391.0,506.9 378.4,506.9" fill="#f0712a" />
<polygon points="399.6,475.1 405.9,486.7 393.3,486.7" fill="#f0712a" />
<polygon points="414.7,505.7 421.0,517.3 408.4,517.3" fill="#f0712a" />
<polygon points="429.6,411.2 435.9,422.8 423.3,422.8" fill="#f0712a" />
<polygon points="444.6,355.0 450.9,366.6 438.3,366.6" fill="#f0712a" />
<polygon points="459.0,402.8 465.3,414.4 452.7,414.4" fill="#f0712a" />
<polygon points="474.7,381.2 481.0,392.8 468.4,392.8" fill="#f0712a" />
<polygon points="489.3,364.5 495.6,376.1 483.0,376.1" fill="#f0712a" />
<polygon points="504.0,146.5 510.3,158.1 497.7,158.1" fill="#f0712a" />
<polygon points="579.2,78.3 585.5,89.9 572.9,89.9" fill="#f0712a" />
<circle cx="181.8" cy="640.7" r="6.8" fill="#8e2a8e"/>
<circle cx="197.2" cy="632.7" r="6.8" fill="#8e2a8e"/>
<circle cx="215.1" cy="622.8" r="6.8" fill="#8e2a8e"/>
<circle cx="233.3" cy="613.7" r="6.8" fill="#8e2a8e"/>
<circle cx="251.5" cy="606.1" r="6.8" fill="#8e2a8e"/>
<circle cx="269.4" cy="598.8" r="6.8" fill="#8e2a8e"/>
<circle cx="287.3" cy="591.1" r="6.8" fill="#8e2a8e"/>
<circle cx="305.6" cy="583.8" r="6.8" fill="#8e2a8e"/>
<circle cx="323.7" cy="575.9" r="6.8" fill="#8e2a8e"/>
<circle cx="341.6" cy="567.9" r="6.8" fill="#8e2a8e"/>
<circle cx="359.5" cy="558.9" r="6.8" fill="#8e2a8e"/>
<circle cx="377.4" cy="548.8" r="6.8" fill="#8e2a8e"/>
<circle cx="395.3" cy="537.3" r="6.8" fill="#8e2a8e"/>
<circle cx="413.2" cy="523.9" r="6.8" fill="#8e2a8e"/>
<circle cx="431.4" cy="508.6" r="6.8" fill="#8e2a8e"/>
<circle cx="449.2" cy="490.4" r="6.8" fill="#8e2a8e"/>
<circle cx="467.3" cy="469.1" r="6.8" fill="#8e2a8e"/>
<circle cx="485.4" cy="443.2" r="6.8" fill="#8e2a8e"/>
<circle cx="503.1" cy="410.9" r="6.8" fill="#8e2a8e"/>
<circle cx="521.1" cy="369.8" r="6.8" fill="#8e2a8e"/>
<circle cx="539.2" cy="317.2" r="6.8" fill="#8e2a8e"/>
<circle cx="557.0" cy="247.1" r="6.8" fill="#8e2a8e"/>
<circle cx="575.0" cy="148.9" r="6.8" fill="#8e2a8e"/>
</g>
<g clip-path="url(#clipB)">
<path d="M179.8,1406.4 L182.3,1405.1 L184.9,1403.7 L187.5,1402.2 L190.0,1400.8 L192.6,1399.4 L195.2,1397.9 L197.7,1396.5 L200.3,1395.0 L202.8,1393.5 L205.3,1392.0 L207.9,1390.5 L210.4,1389.0 L212.9,1387.4 L215.4,1385.9 L217.9,1384.3 L220.4,1382.7 L222.9,1381.2 L225.4,1379.5 L227.9,1377.9 L230.4,1376.3 L232.8,1374.6 L235.3,1373.0 L237.7,1371.3 L240.1,1369.6 L242.6,1367.9 L245.0,1366.2 L247.4,1364.4 L249.7,1362.7 L252.1,1360.9 L254.5,1359.2 L256.8,1357.4 L259.2,1355.6 L261.5,1353.7 L263.8,1351.9 L266.1,1350.0 L268.3,1348.2 L270.6,1346.3 L272.9,1344.4 L275.1,1342.5 L277.3,1340.6 L279.5,1338.6 L281.7,1336.7 L283.9,1334.7 L286.0,1332.7 L288.2,1330.7 L290.3,1328.7 L292.4,1326.7 L294.5,1324.6 L296.5,1322.6 L298.6,1320.5 L300.6,1318.4 L302.6,1316.3 L304.6,1314.2 L306.5,1312.0 L308.5,1309.9 L310.4,1307.7 L312.3,1305.6 L314.2,1303.4 L316.1,1301.1 L317.9,1298.9 L319.7,1296.7 L321.5,1294.4 L323.3,1292.1 L325.0,1289.9 L326.8,1287.6 L328.5,1285.2 L330.2,1282.9 L331.8,1280.5 L333.4,1278.2 L335.1,1275.8 L336.6,1273.4 L338.2,1271.0 L339.8,1268.6 L341.3,1266.1 L342.8,1263.7 L344.3,1261.2 L345.7,1258.8 L347.2,1256.3 L348.6,1253.8 L350.0,1251.3 L351.4,1248.7 L352.7,1246.2 L354.1,1243.6 L355.4,1241.1 L356.7,1238.5 L358.0,1235.9 L359.2,1233.3 L360.5,1230.7 L361.7,1228.1 L362.9,1225.5 L364.1,1222.9 L365.3,1220.2 L366.4,1217.5 L367.6,1214.9 L368.7,1212.2 L369.8,1209.5 L370.9,1206.8 L372.0,1204.1 L373.0,1201.4 L374.1,1198.7 L375.1,1196.0 L376.1,1193.3 L377.1,1190.5 L378.1,1187.8 L379.1,1185.0 L380.0,1182.3 L381.0,1179.5 L381.9,1176.7 L382.8,1173.9 L383.7,1171.1 L384.6,1168.3 L385.5,1165.6 L386.3,1162.7 L387.2,1159.9 L388.0,1157.1 L388.9,1154.3 L389.7,1151.5 L390.5,1148.7 L391.3,1145.8 L392.0,1143.0 L392.8,1140.2 L393.6,1137.3 L394.3,1134.5 L395.1,1131.6 L395.8,1128.8 L396.5,1125.9 L397.2,1123.1 L398.0,1120.2 L398.6,1117.3 L399.3,1114.5 L400.0,1111.6 L400.7,1108.8 L401.4,1105.9 L402.0,1103.0 L402.7,1100.2 L403.3,1097.3 L403.9,1094.4 L404.6,1091.6 L405.2,1088.7 L405.8,1085.8 L406.4,1082.9 L407.0,1080.1 L407.6,1077.2 L408.2,1074.3 L408.8,1071.5 L409.4,1068.6 L409.9,1065.7 L410.5,1062.9 L411.0,1060.0 L411.6,1057.1 L412.1,1054.2 L412.7,1051.4 L413.2,1048.5 L413.8,1045.6 L414.3,1042.7 L414.8,1039.9 L415.3,1037.0 L415.8,1034.1 L416.3,1031.2 L416.8,1028.4 L417.3,1025.5 L417.8,1022.6 L418.3,1019.7 L418.8,1016.9 L419.2,1014.0 L419.7,1011.1 L420.2,1008.2 L420.6,1005.3 L421.1,1002.5 L421.6,999.6 L422.0,996.7 L422.5,993.8 L422.9,990.9 L423.3,988.1 L423.8,985.2 L424.2,982.3 L424.6,979.4 L425.1,976.5 L425.5,973.7 L425.9,970.8 L426.3,967.9 L426.7,965.0 L427.1,962.1 L427.5,959.2 L427.9,956.3 L428.3,953.5 L428.7,950.6 L429.1,947.7 L429.5,944.8 L429.9,941.9 L430.3,939.0 L430.7,936.1 L431.1,933.3 L431.4,930.4 L431.8,927.5 L432.2,924.6 L432.6,921.7 L432.9,918.8 L433.3,915.9 L433.7,913.0 L434.0,910.1 L434.4,907.2 L434.8,904.4 L435.1,901.5 L435.5,898.6 L435.9,895.7 L436.2,892.8 L436.6,889.9 L436.9,887.0 L437.3,884.1 L437.7,881.2 L438.0,878.3 L438.4,875.4 L438.7,872.5 L439.1,869.6 L439.4,866.7 L439.8,863.8 L440.1,860.9 L440.5,858.0 L440.8,855.1 L441.2,852.2 L441.6,849.3 L441.9,846.4 L442.3,843.5 L442.6,840.6 L443.0,837.7 L443.3,834.8 L443.7,831.9 L444.1,829.0 L444.4,826.1 L444.8,823.2 L445.1,820.3 L445.5,817.4 L445.9,814.5 L446.2,811.6 L446.6,808.7 L447.0,805.8 L447.3,802.9 L447.7,800.0" fill="none" stroke="#71953e" stroke-width="4.6" stroke-linejoin="round"/>
<path d="M176.8,1404.4 L179.3,1403.1 L181.9,1401.7 L184.5,1400.2 L187.0,1398.8 L189.6,1397.4 L192.2,1395.9 L194.7,1394.5 L197.3,1393.0 L199.8,1391.5 L202.3,1390.0 L204.9,1388.5 L207.4,1387.0 L209.9,1385.4 L212.4,1383.9 L214.9,1382.3 L217.4,1380.7 L219.9,1379.2 L222.4,1377.5 L224.9,1375.9 L227.4,1374.3 L229.8,1372.6 L232.3,1371.0 L234.7,1369.3 L237.1,1367.6 L239.6,1365.9 L242.0,1364.2 L244.4,1362.4 L246.7,1360.7 L249.1,1358.9 L251.5,1357.2 L253.8,1355.4 L256.2,1353.6 L258.5,1351.7 L260.8,1349.9 L263.1,1348.0 L265.3,1346.2 L267.6,1344.3 L269.9,1342.4 L272.1,1340.5 L274.3,1338.6 L276.5,1336.6 L278.7,1334.7 L280.9,1332.7 L283.0,1330.7 L285.2,1328.7 L287.3,1326.7 L289.4,1324.7 L291.5,1322.6 L293.5,1320.6 L295.6,1318.5 L297.6,1316.4 L299.6,1314.3 L301.6,1312.2 L303.5,1310.0 L305.5,1307.9 L307.4,1305.7 L309.3,1303.6 L311.2,1301.4 L313.1,1299.1 L314.9,1296.9 L316.7,1294.7 L318.5,1292.4 L320.3,1290.1 L322.0,1287.9 L323.8,1285.6 L325.5,1283.2 L327.2,1280.9 L328.8,1278.5 L330.4,1276.2 L332.1,1273.8 L333.6,1271.4 L335.2,1269.0 L336.8,1266.6 L338.3,1264.1 L339.8,1261.7 L341.3,1259.2 L342.7,1256.8 L344.2,1254.3 L345.6,1251.8 L347.0,1249.3 L348.4,1246.7 L349.7,1244.2 L351.1,1241.6 L352.4,1239.1 L353.7,1236.5 L355.0,1233.9 L356.2,1231.3 L357.5,1228.7 L358.7,1226.1 L359.9,1223.5 L361.1,1220.9 L362.3,1218.2 L363.4,1215.5 L364.6,1212.9 L365.7,1210.2 L366.8,1207.5 L367.9,1204.8 L369.0,1202.1 L370.0,1199.4 L371.1,1196.7 L372.1,1194.0 L373.1,1191.3 L374.1,1188.5 L375.1,1185.8 L376.1,1183.0 L377.0,1180.3 L378.0,1177.5 L378.9,1174.7 L379.8,1171.9 L380.7,1169.1 L381.6,1166.3 L382.5,1163.6 L383.3,1160.7 L384.2,1157.9 L385.0,1155.1 L385.9,1152.3 L386.7,1149.5 L387.5,1146.7 L388.3,1143.8 L389.0,1141.0 L389.8,1138.2 L390.6,1135.3 L391.3,1132.5 L392.1,1129.6 L392.8,1126.8 L393.5,1123.9 L394.2,1121.1 L395.0,1118.2 L395.6,1115.3 L396.3,1112.5 L397.0,1109.6 L397.7,1106.8 L398.4,1103.9 L399.0,1101.0 L399.7,1098.2 L400.3,1095.3 L400.9,1092.4 L401.6,1089.6 L402.2,1086.7 L402.8,1083.8 L403.4,1080.9 L404.0,1078.1 L404.6,1075.2 L405.2,1072.3 L405.8,1069.5 L406.4,1066.6 L406.9,1063.7 L407.5,1060.9 L408.0,1058.0 L408.6,1055.1 L409.1,1052.2 L409.7,1049.4 L410.2,1046.5 L410.8,1043.6 L411.3,1040.7 L411.8,1037.9 L412.3,1035.0 L412.8,1032.1 L413.3,1029.2 L413.8,1026.4 L414.3,1023.5 L414.8,1020.6 L415.3,1017.7 L415.8,1014.9 L416.2,1012.0 L416.7,1009.1 L417.2,1006.2 L417.6,1003.3 L418.1,1000.5 L418.6,997.6 L419.0,994.7 L419.5,991.8 L419.9,988.9 L420.3,986.1 L420.8,983.2 L421.2,980.3 L421.6,977.4 L422.1,974.5 L422.5,971.7 L422.9,968.8 L423.3,965.9 L423.7,963.0 L424.1,960.1 L424.5,957.2 L424.9,954.3 L425.3,951.5 L425.7,948.6 L426.1,945.7 L426.5,942.8 L426.9,939.9 L427.3,937.0 L427.7,934.1 L428.1,931.3 L428.4,928.4 L428.8,925.5 L429.2,922.6 L429.6,919.7 L429.9,916.8 L430.3,913.9 L430.7,911.0 L431.0,908.1 L431.4,905.2 L431.8,902.4 L432.1,899.5 L432.5,896.6 L432.9,893.7 L433.2,890.8 L433.6,887.9 L433.9,885.0 L434.3,882.1 L434.7,879.2 L435.0,876.3 L435.4,873.4 L435.7,870.5 L436.1,867.6 L436.4,864.7 L436.8,861.8 L437.1,858.9 L437.5,856.0 L437.8,853.1 L438.2,850.2 L438.6,847.3 L438.9,844.4 L439.3,841.5 L439.6,838.6 L440.0,835.7 L440.3,832.8 L440.7,829.9 L441.1,827.0 L441.4,824.1 L441.8,821.2 L442.1,818.3 L442.5,815.4 L442.9,812.5 L443.2,809.6 L443.6,806.7 L444.0,803.8 L444.3,800.9 L444.7,798.0" fill="none" stroke="#71953e" stroke-opacity="0.3" stroke-width="6" stroke-linejoin="round"/>
<path d="M179.3,1406.9 L180.1,1404.4 L180.9,1401.9 L181.7,1399.4 L182.5,1396.9 L183.3,1394.5 L184.1,1392.0 L184.9,1389.5 L185.7,1387.0 L186.5,1384.5 L187.3,1382.0 L188.1,1379.5 L188.9,1377.1 L189.7,1374.6 L190.5,1372.1 L191.2,1369.6 L192.0,1367.1 L192.8,1364.6 L193.6,1362.1 L194.4,1359.7 L195.2,1357.2 L196.0,1354.7 L196.8,1352.2 L197.6,1349.7 L198.4,1347.2 L199.2,1344.7 L200.0,1342.2 L200.8,1339.8 L201.6,1337.3 L202.4,1334.8 L203.1,1332.3 L203.9,1329.8 L204.7,1327.3 L205.5,1324.8 L206.3,1322.3 L207.1,1319.8 L207.9,1317.3 L208.7,1314.9 L209.5,1312.4 L210.2,1309.9 L211.0,1307.4 L211.8,1304.9 L212.6,1302.4 L213.4,1299.9 L214.2,1297.4 L214.9,1294.9 L215.7,1292.4 L216.5,1289.9 L217.3,1287.4 L218.1,1284.9 L218.8,1282.4 L219.6,1279.9 L220.4,1277.4 L221.2,1275.0 L221.9,1272.5 L222.7,1270.0 L223.5,1267.5 L224.2,1265.0 L225.0,1262.5 L225.8,1260.0 L226.5,1257.5 L227.3,1255.0 L228.1,1252.5 L228.8,1250.0 L229.6,1247.5 L230.4,1245.0 L231.1,1242.5 L231.9,1240.0 L232.6,1237.5 L233.4,1235.0 L234.1,1232.4 L234.9,1229.9 L235.6,1227.4 L236.4,1224.9 L237.1,1222.4 L237.9,1219.9 L238.6,1217.4 L239.4,1214.9 L240.1,1212.4 L240.8,1209.9 L241.6,1207.4 L242.3,1204.9 L243.0,1202.4 L243.8,1199.9 L244.5,1197.4 L245.2,1194.8 L245.9,1192.3 L246.7,1189.8 L247.4,1187.3 L248.1,1184.8 L248.8,1182.3 L249.5,1179.8 L250.2,1177.3 L251.0,1174.7 L251.7,1172.2 L252.4,1169.7 L253.1,1167.2 L253.8,1164.7 L254.5,1162.2 L255.2,1159.6 L255.9,1157.1 L256.6,1154.6 L257.3,1152.1 L257.9,1149.6 L258.6,1147.0 L259.3,1144.5 L260.0,1142.0 L260.7,1139.5 L261.3,1137.0 L262.0,1134.4 L262.7,1131.9 L263.4,1129.4 L264.0,1126.9 L264.7,1124.3 L265.3,1121.8 L266.0,1119.3 L266.6,1116.7 L267.3,1114.2 L267.9,1111.7 L268.6,1109.2 L269.2,1106.6 L269.9,1104.1 L270.5,1101.6 L271.1,1099.0 L271.8,1096.5 L272.4,1094.0 L273.0,1091.4 L273.7,1088.9 L274.3,1086.4 L274.9,1083.8 L275.5,1081.3 L276.1,1078.7 L276.7,1076.2 L277.3,1073.7 L277.9,1071.1 L278.5,1068.6 L279.1,1066.0 L279.7,1063.5 L280.3,1061.0 L280.9,1058.4 L281.5,1055.9 L282.0,1053.3 L282.6,1050.8 L283.2,1048.2 L283.7,1045.7 L284.3,1043.1 L284.9,1040.6 L285.4,1038.0 L286.0,1035.5 L286.5,1032.9 L287.1,1030.4 L287.6,1027.8 L288.1,1025.3 L288.7,1022.7 L289.2,1020.2 L289.7,1017.6 L290.3,1015.0 L290.8,1012.5 L291.3,1009.9 L291.8,1007.4 L292.3,1004.8 L292.8,1002.3 L293.3,999.7 L293.8,997.1 L294.3,994.6 L294.8,992.0 L295.3,989.4 L295.8,986.9 L296.2,984.3 L296.7,981.7 L297.2,979.2 L297.6,976.6 L298.1,974.0 L298.5,971.5 L299.0,968.9 L299.4,966.3 L299.9,963.7 L300.3,961.2 L300.7,958.6 L301.2,956.0 L301.6,953.4 L302.0,950.9 L302.4,948.3 L302.8,945.7 L303.2,943.1 L303.6,940.5 L304.0,938.0 L304.4,935.4 L304.8,932.8 L305.2,930.2 L305.6,927.6 L306.0,925.0 L306.3,922.4 L306.7,919.8 L307.0,917.3 L307.4,914.7 L307.8,912.1 L308.1,909.5 L308.4,906.9 L308.8,904.3 L309.1,901.7 L309.4,899.1 L309.7,896.5 L310.1,893.9 L310.4,891.3 L310.7,888.7 L311.0,886.1 L311.3,883.5 L311.6,880.9 L311.8,878.3 L312.1,875.7 L312.4,873.1 L312.7,870.5 L312.9,867.9 L313.2,865.3 L313.4,862.6 L313.7,860.0 L313.9,857.4 L314.2,854.8 L314.4,852.2 L314.6,849.6 L314.8,847.0 L315.0,844.3 L315.3,841.7 L315.5,839.1 L315.7,836.5 L315.8,833.9 L316.0,831.2 L316.2,828.6 L316.4,826.0 L316.6,823.4 L316.7,820.7 L316.9,818.1 L317.0,815.5 L317.2,812.8 L317.3,810.2 L317.4,807.6 L317.6,804.9 L317.7,802.3 L317.8,799.7" fill="none" stroke="#0a4c6f" stroke-width="4.6" stroke-linejoin="round"/>
<path d="M182.8,1406.9 L183.6,1404.4 L184.4,1401.9 L185.2,1399.4 L186.0,1396.9 L186.8,1394.5 L187.6,1392.0 L188.4,1389.5 L189.2,1387.0 L190.0,1384.5 L190.8,1382.0 L191.6,1379.5 L192.4,1377.1 L193.2,1374.6 L194.0,1372.1 L194.7,1369.6 L195.5,1367.1 L196.3,1364.6 L197.1,1362.1 L197.9,1359.7 L198.7,1357.2 L199.5,1354.7 L200.3,1352.2 L201.1,1349.7 L201.9,1347.2 L202.7,1344.7 L203.5,1342.2 L204.3,1339.8 L205.1,1337.3 L205.9,1334.8 L206.6,1332.3 L207.4,1329.8 L208.2,1327.3 L209.0,1324.8 L209.8,1322.3 L210.6,1319.8 L211.4,1317.3 L212.2,1314.9 L213.0,1312.4 L213.7,1309.9 L214.5,1307.4 L215.3,1304.9 L216.1,1302.4 L216.9,1299.9 L217.7,1297.4 L218.4,1294.9 L219.2,1292.4 L220.0,1289.9 L220.8,1287.4 L221.6,1284.9 L222.3,1282.4 L223.1,1279.9 L223.9,1277.4 L224.7,1275.0 L225.4,1272.5 L226.2,1270.0 L227.0,1267.5 L227.7,1265.0 L228.5,1262.5 L229.3,1260.0 L230.0,1257.5 L230.8,1255.0 L231.6,1252.5 L232.3,1250.0 L233.1,1247.5 L233.9,1245.0 L234.6,1242.5 L235.4,1240.0 L236.1,1237.5 L236.9,1235.0 L237.6,1232.4 L238.4,1229.9 L239.1,1227.4 L239.9,1224.9 L240.6,1222.4 L241.4,1219.9 L242.1,1217.4 L242.9,1214.9 L243.6,1212.4 L244.3,1209.9 L245.1,1207.4 L245.8,1204.9 L246.5,1202.4 L247.3,1199.9 L248.0,1197.4 L248.7,1194.8 L249.4,1192.3 L250.2,1189.8 L250.9,1187.3 L251.6,1184.8 L252.3,1182.3 L253.0,1179.8 L253.7,1177.3 L254.5,1174.7 L255.2,1172.2 L255.9,1169.7 L256.6,1167.2 L257.3,1164.7 L258.0,1162.2 L258.7,1159.6 L259.4,1157.1 L260.1,1154.6 L260.8,1152.1 L261.4,1149.6 L262.1,1147.0 L262.8,1144.5 L263.5,1142.0 L264.2,1139.5 L264.8,1137.0 L265.5,1134.4 L266.2,1131.9 L266.9,1129.4 L267.5,1126.9 L268.2,1124.3 L268.8,1121.8 L269.5,1119.3 L270.1,1116.7 L270.8,1114.2 L271.4,1111.7 L272.1,1109.2 L272.7,1106.6 L273.4,1104.1 L274.0,1101.6 L274.6,1099.0 L275.3,1096.5 L275.9,1094.0 L276.5,1091.4 L277.2,1088.9 L277.8,1086.4 L278.4,1083.8 L279.0,1081.3 L279.6,1078.7 L280.2,1076.2 L280.8,1073.7 L281.4,1071.1 L282.0,1068.6 L282.6,1066.0 L283.2,1063.5 L283.8,1061.0 L284.4,1058.4 L285.0,1055.9 L285.5,1053.3 L286.1,1050.8 L286.7,1048.2 L287.2,1045.7 L287.8,1043.1 L288.4,1040.6 L288.9,1038.0 L289.5,1035.5 L290.0,1032.9 L290.6,1030.4 L291.1,1027.8 L291.6,1025.3 L292.2,1022.7 L292.7,1020.2 L293.2,1017.6 L293.8,1015.0 L294.3,1012.5 L294.8,1009.9 L295.3,1007.4 L295.8,1004.8 L296.3,1002.3 L296.8,999.7 L297.3,997.1 L297.8,994.6 L298.3,992.0 L298.8,989.4 L299.3,986.9 L299.7,984.3 L300.2,981.7 L300.7,979.2 L301.1,976.6 L301.6,974.0 L302.0,971.5 L302.5,968.9 L302.9,966.3 L303.4,963.7 L303.8,961.2 L304.2,958.6 L304.7,956.0 L305.1,953.4 L305.5,950.9 L305.9,948.3 L306.3,945.7 L306.7,943.1 L307.1,940.5 L307.5,938.0 L307.9,935.4 L308.3,932.8 L308.7,930.2 L309.1,927.6 L309.5,925.0 L309.8,922.4 L310.2,919.8 L310.5,917.3 L310.9,914.7 L311.3,912.1 L311.6,909.5 L311.9,906.9 L312.3,904.3 L312.6,901.7 L312.9,899.1 L313.2,896.5 L313.6,893.9 L313.9,891.3 L314.2,888.7 L314.5,886.1 L314.8,883.5 L315.1,880.9 L315.3,878.3 L315.6,875.7 L315.9,873.1 L316.2,870.5 L316.4,867.9 L316.7,865.3 L316.9,862.6 L317.2,860.0 L317.4,857.4 L317.7,854.8 L317.9,852.2 L318.1,849.6 L318.3,847.0 L318.5,844.3 L318.8,841.7 L319.0,839.1 L319.2,836.5 L319.3,833.9 L319.5,831.2 L319.7,828.6 L319.9,826.0 L320.1,823.4 L320.2,820.7 L320.4,818.1 L320.5,815.5 L320.7,812.8 L320.8,810.2 L320.9,807.6 L321.1,804.9 L321.2,802.3 L321.3,799.7" fill="none" stroke="#0a4c6f" stroke-opacity="0.3" stroke-width="5" stroke-linejoin="round"/>
<path d="M180.5,1406.4 L183.0,1405.8 L185.6,1405.3 L188.1,1404.7 L190.7,1404.2 L193.2,1403.6 L195.8,1403.1 L198.3,1402.5 L200.9,1401.9 L203.5,1401.4 L206.1,1400.8 L208.6,1400.2 L211.2,1399.6 L213.8,1399.0 L216.4,1398.4 L219.0,1397.8 L221.6,1397.2 L224.2,1396.6 L226.8,1396.0 L229.4,1395.4 L232.0,1394.8 L234.6,1394.1 L237.2,1393.5 L239.8,1392.8 L242.4,1392.2 L245.0,1391.5 L247.6,1390.8 L250.2,1390.2 L252.8,1389.5 L255.4,1388.8 L258.0,1388.1 L260.7,1387.4 L263.3,1386.7 L265.9,1385.9 L268.5,1385.2 L271.1,1384.5 L273.7,1383.7 L276.3,1383.0 L278.9,1382.2 L281.5,1381.4 L284.1,1380.6 L286.7,1379.8 L289.3,1379.0 L291.8,1378.2 L294.4,1377.4 L297.0,1376.6 L299.6,1375.7 L302.2,1374.9 L304.7,1374.0 L307.3,1373.1 L309.9,1372.2 L312.4,1371.3 L315.0,1370.4 L317.5,1369.5 L320.1,1368.6 L322.6,1367.6 L325.1,1366.7 L327.7,1365.7 L330.2,1364.7 L332.7,1363.7 L335.2,1362.7 L337.7,1361.7 L340.2,1360.7 L342.7,1359.6 L345.2,1358.5 L347.7,1357.5 L350.1,1356.4 L352.6,1355.3 L355.1,1354.2 L357.5,1353.1 L360.0,1351.9 L362.4,1350.8 L364.8,1349.6 L367.2,1348.4 L369.6,1347.2 L372.0,1346.0 L374.4,1344.8 L376.8,1343.5 L379.2,1342.2 L381.5,1341.0 L383.9,1339.7 L386.2,1338.4 L388.5,1337.0 L390.9,1335.7 L393.2,1334.3 L395.5,1333.0 L397.8,1331.6 L400.0,1330.2 L402.3,1328.8 L404.6,1327.3 L406.8,1325.9 L409.0,1324.4 L411.3,1323.0 L413.5,1321.5 L415.7,1320.0 L417.9,1318.4 L420.0,1316.9 L422.2,1315.3 L424.4,1313.8 L426.5,1312.2 L428.6,1310.6 L430.8,1309.0 L432.9,1307.4 L435.0,1305.7 L437.0,1304.1 L439.1,1302.4 L441.2,1300.7 L443.2,1299.0 L445.3,1297.3 L447.3,1295.6 L449.3,1293.9 L451.3,1292.1 L453.3,1290.3 L455.2,1288.6 L457.2,1286.8 L459.1,1285.0 L461.1,1283.1 L463.0,1281.3 L464.9,1279.5 L466.8,1277.6 L468.7,1275.7 L470.5,1273.8 L472.4,1271.9 L474.2,1270.0 L476.0,1268.1 L477.8,1266.2 L479.6,1264.2 L481.4,1262.2 L483.2,1260.3 L484.9,1258.3 L486.7,1256.3 L488.4,1254.3 L490.1,1252.2 L491.8,1250.2 L493.5,1248.1 L495.1,1246.1 L496.8,1244.0 L498.4,1241.9 L500.0,1239.8 L501.6,1237.7 L503.2,1235.6 L504.8,1233.4 L506.3,1231.3 L507.9,1229.1 L509.4,1226.9 L510.9,1224.7 L512.4,1222.5 L513.9,1220.3 L515.3,1218.1 L516.8,1215.9 L518.2,1213.6 L519.6,1211.4 L521.0,1209.1 L522.4,1206.8 L523.7,1204.5 L525.1,1202.2 L526.4,1199.9 L527.7,1197.6 L529.0,1195.3 L530.3,1192.9 L531.5,1190.6 L532.8,1188.2 L534.0,1185.8 L535.2,1183.4 L536.4,1181.0 L537.6,1178.6 L538.8,1176.2 L539.9,1173.8 L541.1,1171.4 L542.2,1168.9 L543.3,1166.5 L544.4,1164.0 L545.5,1161.6 L546.6,1159.1 L547.6,1156.6 L548.7,1154.2 L549.7,1151.7 L550.7,1149.2 L551.8,1146.7 L552.8,1144.2 L553.7,1141.6 L554.7,1139.1 L555.7,1136.6 L556.6,1134.1 L557.6,1131.5 L558.5,1129.0 L559.4,1126.4 L560.3,1123.9 L561.2,1121.3 L562.1,1118.8 L563.0,1116.2 L563.9,1113.6 L564.7,1111.1 L565.6,1108.5 L566.4,1105.9 L567.3,1103.3 L568.1,1100.8 L568.9,1098.2 L569.7,1095.6 L570.5,1093.0 L571.3,1090.4 L572.1,1087.8 L572.9,1085.2 L573.7,1082.6 L574.4,1080.0 L575.2,1077.4 L575.9,1074.8 L576.7,1072.2 L577.4,1069.6 L578.2,1067.0 L578.9,1064.4 L579.6,1061.8 L580.3,1059.2 L581.0,1056.6 L581.7,1054.0 L582.4,1051.4 L583.1,1048.8 L583.8,1046.2 L584.5,1043.6 L585.2,1041.0 L585.9,1038.4 L586.6,1035.8 L587.3,1033.3 L587.9,1030.7 L588.6,1028.1 L589.3,1025.5 L589.9,1022.9 L590.6,1020.4 L591.2,1017.8 L591.9,1015.2 L592.6,1012.7 L593.2,1010.1 L593.9,1007.6 L594.5,1005.0 L595.2,1002.5 L595.8,1000.0 L596.5,997.4 L597.1,994.9 L597.8,992.4 L598.4,989.9" fill="none" stroke="#f0712a" stroke-width="4.6" stroke-linejoin="round"/>
<path d="M177.3,1405.4 L179.8,1404.8 L182.4,1404.3 L184.9,1403.7 L187.5,1403.2 L190.0,1402.6 L192.6,1402.1 L195.1,1401.5 L197.7,1400.9 L200.3,1400.4 L202.9,1399.8 L205.4,1399.2 L208.0,1398.6 L210.6,1398.0 L213.2,1397.4 L215.8,1396.8 L218.4,1396.2 L221.0,1395.6 L223.6,1395.0 L226.2,1394.4 L228.8,1393.8 L231.4,1393.1 L234.0,1392.5 L236.6,1391.8 L239.2,1391.2 L241.8,1390.5 L244.4,1389.8 L247.0,1389.2 L249.6,1388.5 L252.2,1387.8 L254.8,1387.1 L257.5,1386.4 L260.1,1385.7 L262.7,1384.9 L265.3,1384.2 L267.9,1383.5 L270.5,1382.7 L273.1,1382.0 L275.7,1381.2 L278.3,1380.4 L280.9,1379.6 L283.5,1378.8 L286.1,1378.0 L288.6,1377.2 L291.2,1376.4 L293.8,1375.6 L296.4,1374.7 L299.0,1373.9 L301.5,1373.0 L304.1,1372.1 L306.7,1371.2 L309.2,1370.3 L311.8,1369.4 L314.3,1368.5 L316.9,1367.6 L319.4,1366.6 L321.9,1365.7 L324.5,1364.7 L327.0,1363.7 L329.5,1362.7 L332.0,1361.7 L334.5,1360.7 L337.0,1359.7 L339.5,1358.6 L342.0,1357.5 L344.5,1356.5 L346.9,1355.4 L349.4,1354.3 L351.9,1353.2 L354.3,1352.1 L356.8,1350.9 L359.2,1349.8 L361.6,1348.6 L364.0,1347.4 L366.4,1346.2 L368.8,1345.0 L371.2,1343.8 L373.6,1342.5 L376.0,1341.2 L378.3,1340.0 L380.7,1338.7 L383.0,1337.4 L385.3,1336.0 L387.7,1334.7 L390.0,1333.3 L392.3,1332.0 L394.6,1330.6 L396.8,1329.2 L399.1,1327.8 L401.4,1326.3 L403.6,1324.9 L405.8,1323.4 L408.1,1322.0 L410.3,1320.5 L412.5,1319.0 L414.7,1317.4 L416.8,1315.9 L419.0,1314.3 L421.2,1312.8 L423.3,1311.2 L425.4,1309.6 L427.6,1308.0 L429.7,1306.4 L431.8,1304.7 L433.8,1303.1 L435.9,1301.4 L438.0,1299.7 L440.0,1298.0 L442.1,1296.3 L444.1,1294.6 L446.1,1292.9 L448.1,1291.1 L450.1,1289.3 L452.0,1287.6 L454.0,1285.8 L455.9,1284.0 L457.9,1282.1 L459.8,1280.3 L461.7,1278.5 L463.6,1276.6 L465.5,1274.7 L467.3,1272.8 L469.2,1270.9 L471.0,1269.0 L472.8,1267.1 L474.6,1265.2 L476.4,1263.2 L478.2,1261.2 L480.0,1259.3 L481.7,1257.3 L483.5,1255.3 L485.2,1253.3 L486.9,1251.2 L488.6,1249.2 L490.3,1247.1 L491.9,1245.1 L493.6,1243.0 L495.2,1240.9 L496.8,1238.8 L498.4,1236.7 L500.0,1234.6 L501.6,1232.4 L503.1,1230.3 L504.7,1228.1 L506.2,1225.9 L507.7,1223.7 L509.2,1221.5 L510.7,1219.3 L512.1,1217.1 L513.6,1214.9 L515.0,1212.6 L516.4,1210.4 L517.8,1208.1 L519.2,1205.8 L520.5,1203.5 L521.9,1201.2 L523.2,1198.9 L524.5,1196.6 L525.8,1194.3 L527.1,1191.9 L528.3,1189.6 L529.6,1187.2 L530.8,1184.8 L532.0,1182.4 L533.2,1180.0 L534.4,1177.6 L535.6,1175.2 L536.7,1172.8 L537.9,1170.4 L539.0,1167.9 L540.1,1165.5 L541.2,1163.0 L542.3,1160.6 L543.4,1158.1 L544.4,1155.6 L545.5,1153.2 L546.5,1150.7 L547.5,1148.2 L548.6,1145.7 L549.6,1143.2 L550.5,1140.6 L551.5,1138.1 L552.5,1135.6 L553.4,1133.1 L554.4,1130.5 L555.3,1128.0 L556.2,1125.4 L557.1,1122.9 L558.0,1120.3 L558.9,1117.8 L559.8,1115.2 L560.7,1112.6 L561.5,1110.1 L562.4,1107.5 L563.2,1104.9 L564.1,1102.3 L564.9,1099.8 L565.7,1097.2 L566.5,1094.6 L567.3,1092.0 L568.1,1089.4 L568.9,1086.8 L569.7,1084.2 L570.5,1081.6 L571.2,1079.0 L572.0,1076.4 L572.7,1073.8 L573.5,1071.2 L574.2,1068.6 L575.0,1066.0 L575.7,1063.4 L576.4,1060.8 L577.1,1058.2 L577.8,1055.6 L578.5,1053.0 L579.2,1050.4 L579.9,1047.8 L580.6,1045.2 L581.3,1042.6 L582.0,1040.0 L582.7,1037.4 L583.4,1034.8 L584.1,1032.3 L584.7,1029.7 L585.4,1027.1 L586.1,1024.5 L586.7,1021.9 L587.4,1019.4 L588.0,1016.8 L588.7,1014.2 L589.4,1011.7 L590.0,1009.1 L590.7,1006.6 L591.3,1004.0 L592.0,1001.5 L592.6,999.0 L593.3,996.4 L593.9,993.9 L594.6,991.4 L595.2,988.9" fill="none" stroke="#f0712a" stroke-opacity="0.3" stroke-width="3.5" stroke-linejoin="round"/>
<path d="M181.1,1406.4 L184.2,1406.2 L187.3,1406.0 L190.4,1405.8 L193.5,1405.6 L196.7,1405.3 L199.8,1405.1 L202.9,1404.9 L206.1,1404.7 L209.2,1404.4 L212.4,1404.2 L215.5,1404.0 L218.7,1403.7 L221.9,1403.5 L225.1,1403.2 L228.2,1403.0 L231.4,1402.7 L234.6,1402.5 L237.8,1402.2 L241.0,1402.0 L244.3,1401.7 L247.5,1401.5 L250.7,1401.2 L253.9,1400.9 L257.2,1400.6 L260.4,1400.3 L263.6,1400.1 L266.9,1399.8 L270.1,1399.5 L273.4,1399.2 L276.6,1398.9 L279.9,1398.5 L283.1,1398.2 L286.4,1397.9 L289.7,1397.6 L292.9,1397.2 L296.2,1396.9 L299.5,1396.6 L302.7,1396.2 L306.0,1395.8 L309.3,1395.5 L312.6,1395.1 L315.8,1394.7 L319.1,1394.3 L322.4,1393.9 L325.7,1393.5 L329.0,1393.1 L332.3,1392.7 L335.6,1392.3 L338.8,1391.8 L342.1,1391.4 L345.4,1390.9 L348.7,1390.5 L352.0,1390.0 L355.3,1389.5 L358.6,1389.1 L361.9,1388.6 L365.1,1388.1 L368.4,1387.5 L371.7,1387.0 L375.0,1386.5 L378.3,1385.9 L381.5,1385.4 L384.8,1384.8 L388.1,1384.3 L391.4,1383.7 L394.6,1383.1 L397.9,1382.5 L401.2,1381.9 L404.5,1381.2 L407.7,1380.6 L411.0,1380.0 L414.2,1379.3 L417.5,1378.6 L420.7,1377.9 L424.0,1377.2 L427.2,1376.5 L430.5,1375.8 L433.7,1375.1 L436.9,1374.3 L440.1,1373.6 L443.4,1372.8 L446.6,1372.0 L449.8,1371.2 L453.0,1370.4 L456.2,1369.6 L459.4,1368.8 L462.6,1367.9 L465.8,1367.0 L469.0,1366.2 L472.1,1365.3 L475.3,1364.4 L478.5,1363.4 L481.6,1362.5 L484.8,1361.6 L487.9,1360.6 L491.1,1359.6 L494.2,1358.6 L497.3,1357.6 L500.4,1356.6 L503.6,1355.5 L506.7,1354.5 L509.7,1353.4 L512.8,1352.3 L515.9,1351.2 L519.0,1350.1 L522.1,1348.9 L525.1,1347.8 L528.2,1346.6 L531.2,1345.4 L534.2,1344.2 L537.2,1343.0 L540.2,1341.8 L543.3,1340.5 L546.2,1339.2 L549.2,1337.9 L552.2,1336.6 L555.2,1335.3 L558.1,1333.9 L561.1,1332.6 L564.0,1331.2 L566.9,1329.8 L569.8,1328.3 L572.7,1326.9 L575.6,1325.4 L578.5,1323.9 L581.4,1322.4 L584.2,1320.9 L587.1,1319.4 L589.9,1317.8 L592.7,1316.2 L595.5,1314.6 L598.3,1313.0 L601.1,1311.4 L603.9,1309.7 L606.6,1308.0 L609.4,1306.3 L612.1,1304.6 L614.8,1302.8 L617.6,1301.1 L620.3,1299.3 L622.9,1297.4 L625.6,1295.6 L628.3,1293.8 L630.9,1291.9 L633.5,1290.0 L636.1,1288.0 L638.7,1286.1 L641.3,1284.1 L643.9,1282.2 L646.4,1280.1 L649.0,1278.1 L651.5,1276.1 L654.0,1274.0 L656.5,1271.9 L659.0,1269.8 L661.4,1267.7 L663.9,1265.5 L666.3,1263.3 L668.7,1261.2 L671.1,1258.9 L673.5,1256.7 L675.8,1254.5 L678.2,1252.2 L680.5,1249.9 L682.8,1247.6 L685.1,1245.3 L687.4,1242.9 L689.6,1240.6 L691.9,1238.2 L694.1,1235.8 L696.3,1233.4 L698.5,1231.0 L700.6,1228.5 L702.8,1226.0 L704.9,1223.6 L707.0,1221.1 L709.1,1218.5 L711.1,1216.0 L713.2,1213.4 L715.2,1210.9 L717.2,1208.3 L719.2,1205.7 L721.2,1203.1 L723.1,1200.4 L725.0,1197.8 L726.9,1195.1 L728.8,1192.4 L730.7,1189.7 L732.5,1187.0 L734.3,1184.3 L736.1,1181.6 L737.9,1178.8 L739.6,1176.0 L741.4,1173.2 L743.1,1170.4 L744.7,1167.6 L746.4,1164.8 L748.0,1162.0 L749.6,1159.1 L751.2,1156.2 L752.8,1153.3 L754.3,1150.4 L755.9,1147.5 L757.3,1144.6 L758.8,1141.7 L760.3,1138.7 L761.7,1135.8 L763.1,1132.8 L764.5,1129.8 L765.8,1126.8 L767.1,1123.8 L768.4,1120.8 L769.7,1117.8 L771.0,1114.7 L772.2,1111.7 L773.4,1108.6 L774.6,1105.5 L775.8,1102.5 L776.9,1099.4 L778.0,1096.3 L779.1,1093.2 L780.2,1090.1 L781.3,1086.9 L782.3,1083.8 L783.3,1080.7 L784.3,1077.5 L785.2,1074.4 L786.1,1071.2 L787.0,1068.1 L787.9,1064.9 L788.8,1061.7 L789.6,1058.5 L790.4,1055.3 L791.2,1052.1 L792.0,1048.9 L792.7,1045.7 L793.5,1042.5 L794.1,1039.3 L794.8,1036.1" fill="none" stroke="#8e2a8e" stroke-width="4.6" stroke-linejoin="round"/>
<polygon points="785.4,1053.6 752.6,1122.2 729.2,1177.7 700.0,1215.6 665.0,1258.0 620.0,1293.0 583.0,1316.0 530.0,1341.0 470.0,1361.0 420.0,1376.0 420.0,1382.0 475.0,1368.0 530.0,1349.0 583.0,1327.0 622.0,1303.0 667.0,1273.0 700.0,1234.0 730.7,1202.0 778.8,1101.8 786.1,1090.0 786.5,1060.0" fill="#8e2a8e" fill-opacity="0.3"/>
<rect x="179.6" y="1395.2" width="9.7" height="9.7" fill="#71953e"/>
<rect x="188.7" y="1388.9" width="9.7" height="9.7" fill="#71953e"/>
<rect x="200.2" y="1381.1" width="9.7" height="9.7" fill="#71953e"/>
<rect x="211.3" y="1374.1" width="9.7" height="9.7" fill="#71953e"/>
<rect x="223.1" y="1366.6" width="9.7" height="9.7" fill="#71953e"/>
<rect x="234.8" y="1359.6" width="9.7" height="9.7" fill="#71953e"/>
<rect x="246.1" y="1352.4" width="9.7" height="9.7" fill="#71953e"/>
<rect x="257.4" y="1345.4" width="9.7" height="9.7" fill="#71953e"/>
<rect x="268.8" y="1338.0" width="9.7" height="9.7" fill="#71953e"/>
<rect x="279.9" y="1330.1" width="9.7" height="9.7" fill="#71953e"/>
<rect x="291.4" y="1321.0" width="9.7" height="9.7" fill="#71953e"/>
<rect x="302.8" y="1311.4" width="9.7" height="9.7" fill="#71953e"/>
<rect x="314.3" y="1301.2" width="9.7" height="9.7" fill="#71953e"/>
<rect x="325.6" y="1288.7" width="9.7" height="9.7" fill="#71953e"/>
<rect x="337.1" y="1274.9" width="9.7" height="9.7" fill="#71953e"/>
<rect x="348.5" y="1258.7" width="9.7" height="9.7" fill="#71953e"/>
<rect x="360.0" y="1239.2" width="9.7" height="9.7" fill="#71953e"/>
<rect x="371.3" y="1216.5" width="9.7" height="9.7" fill="#71953e"/>
<rect x="383.0" y="1187.8" width="9.7" height="9.7" fill="#71953e"/>
<rect x="394.0" y="1152.7" width="9.7" height="9.7" fill="#71953e"/>
<rect x="405.6" y="1107.6" width="9.7" height="9.7" fill="#71953e"/>
<rect x="416.9" y="1049.1" width="9.7" height="9.7" fill="#71953e"/>
<rect x="428.8" y="970.5" width="9.7" height="9.7" fill="#71953e"/>
<rect x="440.1" y="859.4" width="9.7" height="9.7" fill="#71953e"/>
<polygon points="203.5,1342.1 210.5,1349.1 203.5,1356.1 196.5,1349.1" fill="#0a4c6f" />
<polygon points="210.3,1327.3 217.3,1334.3 210.3,1341.3 203.3,1334.3" fill="#0a4c6f" />
<polygon points="217.7,1312.0 224.7,1319.0 217.7,1326.0 210.7,1319.0" fill="#0a4c6f" />
<polygon points="225.2,1295.0 232.2,1302.0 225.2,1309.0 218.2,1302.0" fill="#0a4c6f" />
<polygon points="232.8,1275.9 239.8,1282.9 232.8,1289.9 225.8,1282.9" fill="#0a4c6f" />
<polygon points="240.2,1254.4 247.2,1261.4 240.2,1268.4 233.2,1261.4" fill="#0a4c6f" />
<polygon points="247.7,1229.1 254.7,1236.1 247.7,1243.1 240.7,1236.1" fill="#0a4c6f" />
<polygon points="255.1,1198.3 262.1,1205.3 255.1,1212.3 248.1,1205.3" fill="#0a4c6f" />
<polygon points="262.5,1160.8 269.5,1167.8 262.5,1174.8 255.5,1167.8" fill="#0a4c6f" />
<polygon points="269.8,1114.8 276.8,1121.8 269.8,1128.8 262.8,1121.8" fill="#0a4c6f" />
<polygon points="277.0,1058.0 284.0,1065.0 277.0,1072.0 270.0,1065.0" fill="#0a4c6f" />
<polygon points="284.5,987.1 291.5,994.1 284.5,1001.1 277.5,994.1" fill="#0a4c6f" />
<polygon points="291.9,894.9 298.9,901.9 291.9,908.9 284.9,901.9" fill="#0a4c6f" />
<polygon points="198.0,1395.2 204.3,1406.8 191.7,1406.8" fill="#f0712a" />
<polygon points="233.0,1385.2 239.3,1396.8 226.7,1396.8" fill="#f0712a" />
<polygon points="256.2,1380.7 262.5,1392.3 249.9,1392.3" fill="#f0712a" />
<polygon points="278.7,1376.8 285.0,1388.4 272.4,1388.4" fill="#f0712a" />
<polygon points="302.2,1373.8 308.5,1385.4 295.9,1385.4" fill="#f0712a" />
<polygon points="325.5,1367.1 331.8,1378.7 319.2,1378.7" fill="#f0712a" />
<polygon points="372.3,1358.2 378.6,1369.8 366.0,1369.8" fill="#f0712a" />
<polygon points="419.1,1338.0 425.4,1349.6 412.8,1349.6" fill="#f0712a" />
<polygon points="465.7,1287.3 472.0,1298.9 459.4,1298.9" fill="#f0712a" />
<polygon points="512.5,1196.9 518.8,1208.5 506.2,1208.5" fill="#f0712a" />
<polygon points="522.0,1110.7 528.3,1122.3 515.7,1122.3" fill="#f0712a" />
<polygon points="536.5,1135.7 542.8,1147.3 530.2,1147.3" fill="#f0712a" />
<circle cx="198.8" cy="1396.9" r="6.8" fill="#8e2a8e"/>
<circle cx="224.3" cy="1386.3" r="6.8" fill="#8e2a8e"/>
<circle cx="250.9" cy="1376.7" r="6.8" fill="#8e2a8e"/>
<circle cx="277.2" cy="1367.8" r="6.8" fill="#8e2a8e"/>
<circle cx="302.9" cy="1360.2" r="6.8" fill="#8e2a8e"/>
<circle cx="328.8" cy="1353.4" r="6.8" fill="#8e2a8e"/>
<circle cx="354.9" cy="1347.0" r="6.8" fill="#8e2a8e"/>
<circle cx="381.3" cy="1341.3" r="6.8" fill="#8e2a8e"/>
<circle cx="407.4" cy="1335.3" r="6.8" fill="#8e2a8e"/>
<circle cx="433.1" cy="1329.8" r="6.8" fill="#8e2a8e"/>
<circle cx="458.9" cy="1323.8" r="6.8" fill="#8e2a8e"/>
<circle cx="485.3" cy="1317.6" r="6.8" fill="#8e2a8e"/>
<circle cx="511.2" cy="1310.2" r="6.8" fill="#8e2a8e"/>
<circle cx="537.6" cy="1302.9" r="6.8" fill="#8e2a8e"/>
<circle cx="563.4" cy="1306.1" r="6.8" fill="#8e2a8e"/>
<circle cx="589.3" cy="1319.7" r="6.8" fill="#8e2a8e"/>
<circle cx="615.4" cy="1317.6" r="6.8" fill="#8e2a8e"/>
<circle cx="641.8" cy="1294.7" r="6.8" fill="#8e2a8e"/>
<circle cx="667.6" cy="1265.3" r="6.8" fill="#8e2a8e"/>
<circle cx="693.5" cy="1226.4" r="6.8" fill="#8e2a8e"/>
<circle cx="719.3" cy="1172.2" r="6.8" fill="#8e2a8e"/>
<circle cx="745.5" cy="1092.7" r="6.8" fill="#8e2a8e"/>
<circle cx="772.0" cy="966.4" r="6.8" fill="#8e2a8e"/>
</g>
<polygon points="287.3,59.3 305.6,77.6 287.3,95.9 269.0,77.6" fill="#0a4c6f" />
<g clip-path="url(#ic1)">
<rect x="230.2" y="118.3" width="110.4" height="77.7" fill="#4b6a7d"/>
<ellipse cx="211.8" cy="98.4" rx="10.1" ry="5.9" fill="#6a8190"/>
<ellipse cx="262.2" cy="98.4" rx="10.1" ry="5.9" fill="#6a8190"/>
<ellipse cx="312.6" cy="98.4" rx="10.1" ry="5.9" fill="#6a8190"/>
<ellipse cx="363.0" cy="98.4" rx="10.1" ry="5.9" fill="#6a8190"/>
<ellipse cx="413.4" cy="98.4" rx="10.1" ry="5.9" fill="#6a8190"/>
<ellipse cx="211.8" cy="125.1" rx="10.1" ry="5.9" fill="#6a8190"/>
<ellipse cx="262.2" cy="125.1" rx="10.1" ry="5.9" fill="#6a8190"/>
<ellipse cx="312.6" cy="125.1" rx="10.1" ry="5.9" fill="#6a8190"/>
<ellipse cx="363.0" cy="125.1" rx="10.1" ry="5.9" fill="#6a8190"/>
<ellipse cx="413.4" cy="125.1" rx="10.1" ry="5.9" fill="#6a8190"/>
<ellipse cx="211.8" cy="152.1" rx="10.1" ry="5.9" fill="#6a8190"/>
<ellipse cx="262.2" cy="152.1" rx="10.1" ry="5.9" fill="#6a8190"/>
<ellipse cx="312.6" cy="152.1" rx="10.1" ry="5.9" fill="#6a8190"/>
<ellipse cx="363.0" cy="152.1" rx="10.1" ry="5.9" fill="#6a8190"/>
<ellipse cx="413.4" cy="152.1" rx="10.1" ry="5.9" fill="#6a8190"/>
<ellipse cx="211.8" cy="179.1" rx="10.1" ry="5.9" fill="#6a8190"/>
<ellipse cx="262.2" cy="179.1" rx="10.1" ry="5.9" fill="#6a8190"/>
<ellipse cx="312.6" cy="179.1" rx="10.1" ry="5.9" fill="#6a8190"/>
<ellipse cx="363.0" cy="179.1" rx="10.1" ry="5.9" fill="#6a8190"/>
<ellipse cx="413.4" cy="179.1" rx="10.1" ry="5.9" fill="#6a8190"/>
<rect x="-9.0" y="-22.5" width="18.0" height="45.0" rx="9.0" ry="13.5" fill="url(#gLB)" transform="translate(172.2,185.0) rotate(-29.0)"/>
<rect x="-9.0" y="-22.5" width="18.0" height="45.0" rx="9.0" ry="13.5" fill="url(#gLB)" transform="translate(201.0,185.0) rotate(29.0)"/>
<rect x="-9.0" y="-22.5" width="18.0" height="45.0" rx="9.0" ry="13.5" fill="url(#gLB)" transform="translate(222.6,185.0) rotate(-29.0)"/>
<rect x="-9.0" y="-22.5" width="18.0" height="45.0" rx="9.0" ry="13.5" fill="url(#gLB)" transform="translate(251.4,185.0) rotate(29.0)"/>
<rect x="-9.0" y="-22.5" width="18.0" height="45.0" rx="9.0" ry="13.5" fill="url(#gLB)" transform="translate(273.0,185.0) rotate(-29.0)"/>
<rect x="-9.0" y="-22.5" width="18.0" height="45.0" rx="9.0" ry="13.5" fill="url(#gLB)" transform="translate(301.8,185.0) rotate(29.0)"/>
<rect x="-9.0" y="-22.5" width="18.0" height="45.0" rx="9.0" ry="13.5" fill="url(#gLB)" transform="translate(323.4,185.0) rotate(-29.0)"/>
<rect x="-9.0" y="-22.5" width="18.0" height="45.0" rx="9.0" ry="13.5" fill="url(#gLB)" transform="translate(352.2,185.0) rotate(29.0)"/>
<rect x="-9.0" y="-22.5" width="18.0" height="45.0" rx="9.0" ry="13.5" fill="url(#gLB)" transform="translate(373.8,185.0) rotate(-29.0)"/>
<rect x="-9.0" y="-22.5" width="18.0" height="45.0" rx="9.0" ry="13.5" fill="url(#gLB)" transform="translate(402.6,185.0) rotate(29.0)"/>
<rect x="-9.0" y="-22.5" width="18.0" height="45.0" rx="9.0" ry="13.5" fill="url(#gDB)" transform="translate(172.2,158.0) rotate(-29.0)"/>
<rect x="-9.0" y="-22.5" width="18.0" height="45.0" rx="9.0" ry="13.5" fill="url(#gDB)" transform="translate(201.0,158.0) rotate(29.0)"/>
<rect x="-9.0" y="-22.5" width="18.0" height="45.0" rx="9.0" ry="13.5" fill="url(#gDB)" transform="translate(222.6,158.0) rotate(-29.0)"/>
<rect x="-9.0" y="-22.5" width="18.0" height="45.0" rx="9.0" ry="13.5" fill="url(#gDB)" transform="translate(251.4,158.0) rotate(29.0)"/>
<rect x="-9.0" y="-22.5" width="18.0" height="45.0" rx="9.0" ry="13.5" fill="url(#gDB)" transform="translate(273.0,158.0) rotate(-29.0)"/>
<rect x="-9.0" y="-22.5" width="18.0" height="45.0" rx="9.0" ry="13.5" fill="url(#gDB)" transform="translate(301.8,158.0) rotate(29.0)"/>
<rect x="-9.0" y="-22.5" width="18.0" height="45.0" rx="9.0" ry="13.5" fill="url(#gDB)" transform="translate(323.4,158.0) rotate(-29.0)"/>
<rect x="-9.0" y="-22.5" width="18.0" height="45.0" rx="9.0" ry="13.5" fill="url(#gDB)" transform="translate(352.2,158.0) rotate(29.0)"/>
<rect x="-9.0" y="-22.5" width="18.0" height="45.0" rx="9.0" ry="13.5" fill="url(#gDB)" transform="translate(373.8,158.0) rotate(-29.0)"/>
<rect x="-9.0" y="-22.5" width="18.0" height="45.0" rx="9.0" ry="13.5" fill="url(#gDB)" transform="translate(402.6,158.0) rotate(29.0)"/>
<rect x="-9.0" y="-22.5" width="18.0" height="45.0" rx="9.0" ry="13.5" fill="url(#gLB)" transform="translate(172.2,131.0) rotate(-29.0)"/>
<rect x="-9.0" y="-22.5" width="18.0" height="45.0" rx="9.0" ry="13.5" fill="url(#gLB)" transform="translate(201.0,131.0) rotate(29.0)"/>
<rect x="-9.0" y="-22.5" width="18.0" height="45.0" rx="9.0" ry="13.5" fill="url(#gLB)" transform="translate(222.6,131.0) rotate(-29.0)"/>
<rect x="-9.0" y="-22.5" width="18.0" height="45.0" rx="9.0" ry="13.5" fill="url(#gLB)" transform="translate(251.4,131.0) rotate(29.0)"/>
<rect x="-9.0" y="-22.5" width="18.0" height="45.0" rx="9.0" ry="13.5" fill="url(#gLB)" transform="translate(273.0,131.0) rotate(-29.0)"/>
<rect x="-9.0" y="-22.5" width="18.0" height="45.0" rx="9.0" ry="13.5" fill="url(#gLB)" transform="translate(301.8,131.0) rotate(29.0)"/>
<rect x="-9.0" y="-22.5" width="18.0" height="45.0" rx="9.0" ry="13.5" fill="url(#gLB)" transform="translate(323.4,131.0) rotate(-29.0)"/>
<rect x="-9.0" y="-22.5" width="18.0" height="45.0" rx="9.0" ry="13.5" fill="url(#gLB)" transform="translate(352.2,131.0) rotate(29.0)"/>
<rect x="-9.0" y="-22.5" width="18.0" height="45.0" rx="9.0" ry="13.5" fill="url(#gLB)" transform="translate(373.8,131.0) rotate(-29.0)"/>
<rect x="-9.0" y="-22.5" width="18.0" height="45.0" rx="9.0" ry="13.5" fill="url(#gLB)" transform="translate(402.6,131.0) rotate(29.0)"/>
<rect x="-9.0" y="-22.5" width="18.0" height="45.0" rx="9.0" ry="13.5" fill="url(#gMB)" transform="translate(172.2,104.3) rotate(-29.0)"/>
<rect x="-9.0" y="-22.5" width="18.0" height="45.0" rx="9.0" ry="13.5" fill="url(#gMB)" transform="translate(201.0,104.3) rotate(29.0)"/>
<rect x="-9.0" y="-22.5" width="18.0" height="45.0" rx="9.0" ry="13.5" fill="url(#gMB)" transform="translate(222.6,104.3) rotate(-29.0)"/>
<rect x="-9.0" y="-22.5" width="18.0" height="45.0" rx="9.0" ry="13.5" fill="url(#gMB)" transform="translate(251.4,104.3) rotate(29.0)"/>
<rect x="-9.0" y="-22.5" width="18.0" height="45.0" rx="9.0" ry="13.5" fill="url(#gMB)" transform="translate(273.0,104.3) rotate(-29.0)"/>
<rect x="-9.0" y="-22.5" width="18.0" height="45.0" rx="9.0" ry="13.5" fill="url(#gMB)" transform="translate(301.8,104.3) rotate(29.0)"/>
<rect x="-9.0" y="-22.5" width="18.0" height="45.0" rx="9.0" ry="13.5" fill="url(#gMB)" transform="translate(323.4,104.3) rotate(-29.0)"/>
<rect x="-9.0" y="-22.5" width="18.0" height="45.0" rx="9.0" ry="13.5" fill="url(#gMB)" transform="translate(352.2,104.3) rotate(29.0)"/>
<rect x="-9.0" y="-22.5" width="18.0" height="45.0" rx="9.0" ry="13.5" fill="url(#gMB)" transform="translate(373.8,104.3) rotate(-29.0)"/>
<rect x="-9.0" y="-22.5" width="18.0" height="45.0" rx="9.0" ry="13.5" fill="url(#gMB)" transform="translate(402.6,104.3) rotate(29.0)"/>
<path d="M186.6,118.6 L188.8,123.1 L186.6,125.6 L184.4,123.1 Z" fill="#a8a8a8"/>
<path d="M237.0,118.6 L239.2,123.1 L237.0,125.6 L234.8,123.1 Z" fill="#a8a8a8"/>
<path d="M287.4,118.6 L289.6,123.1 L287.4,125.6 L285.2,123.1 Z" fill="#a8a8a8"/>
<path d="M337.8,118.6 L340.0,123.1 L337.8,125.6 L335.6,123.1 Z" fill="#a8a8a8"/>
<path d="M388.2,118.6 L390.4,123.1 L388.2,125.6 L386.0,123.1 Z" fill="#a8a8a8"/>
<path d="M186.6,145.3 L188.8,149.8 L186.6,152.3 L184.4,149.8 Z" fill="#a8a8a8"/>
<path d="M237.0,145.3 L239.2,149.8 L237.0,152.3 L234.8,149.8 Z" fill="#a8a8a8"/>
<path d="M287.4,145.3 L289.6,149.8 L287.4,152.3 L285.2,149.8 Z" fill="#a8a8a8"/>
<path d="M337.8,145.3 L340.0,149.8 L337.8,152.3 L335.6,149.8 Z" fill="#a8a8a8"/>
<path d="M388.2,145.3 L390.4,149.8 L388.2,152.3 L386.0,149.8 Z" fill="#a8a8a8"/>
<path d="M186.6,172.3 L188.8,176.8 L186.6,179.3 L184.4,176.8 Z" fill="#a8a8a8"/>
<path d="M237.0,172.3 L239.2,176.8 L237.0,179.3 L234.8,176.8 Z" fill="#a8a8a8"/>
<path d="M287.4,172.3 L289.6,176.8 L287.4,179.3 L285.2,176.8 Z" fill="#a8a8a8"/>
<path d="M337.8,172.3 L340.0,176.8 L337.8,179.3 L335.6,176.8 Z" fill="#a8a8a8"/>
<path d="M388.2,172.3 L390.4,176.8 L388.2,179.3 L386.0,176.8 Z" fill="#a8a8a8"/>
<path d="M186.6,199.3 L188.8,203.8 L186.6,206.3 L184.4,203.8 Z" fill="#a8a8a8"/>
<path d="M237.0,199.3 L239.2,203.8 L237.0,206.3 L234.8,203.8 Z" fill="#a8a8a8"/>
<path d="M287.4,199.3 L289.6,203.8 L287.4,206.3 L285.2,203.8 Z" fill="#a8a8a8"/>
<path d="M337.8,199.3 L340.0,203.8 L337.8,206.3 L335.6,203.8 Z" fill="#a8a8a8"/>
<path d="M388.2,199.3 L390.4,203.8 L388.2,206.3 L386.0,203.8 Z" fill="#a8a8a8"/>
</g>
<rect x="227.6" y="115.7" width="115.7" height="83.0" fill="none" stroke="#0a4c6f" stroke-width="5.3"/>
<text x="285.6" y="224.6" font-size="26.8" fill="#0a4c6f" text-anchor="middle" >stockinette</text>
<polygon points="677.2,93.4 694.9,127.0 659.5,127.0" fill="#f0712a" />
<g clip-path="url(#ic2)">
<rect x="621.2" y="149.7" width="110.4" height="77.7" fill="#d7a46e"/>
<path d="M626.8,161.2 l5.5,5 l-5.5,5 l-5.5,-5 z" fill="#a0a4aa"/>
<path d="M675.8,161.2 l5.5,5 l-5.5,5 l-5.5,-5 z" fill="#a0a4aa"/>
<path d="M724.2,161.2 l5.5,5 l-5.5,5 l-5.5,-5 z" fill="#a0a4aa"/>
<path d="M651.2,171.2 l5.5,5 l-5.5,5 l-5.5,-5 z" fill="#a0a4aa"/>
<path d="M699.7,171.2 l5.5,5 l-5.5,5 l-5.5,-5 z" fill="#a0a4aa"/>
<path d="M626.8,199.2 l5.5,5 l-5.5,5 l-5.5,-5 z" fill="#a0a4aa"/>
<path d="M675.8,199.2 l5.5,5 l-5.5,5 l-5.5,-5 z" fill="#a0a4aa"/>
<path d="M724.2,199.2 l5.5,5 l-5.5,5 l-5.5,-5 z" fill="#a0a4aa"/>
<path d="M651.2,207.2 l5.5,5 l-5.5,5 l-5.5,-5 z" fill="#a0a4aa"/>
<path d="M699.7,207.2 l5.5,5 l-5.5,5 l-5.5,-5 z" fill="#a0a4aa"/>
<path d="M608.2,155.7 Q626.2,135.7 644.2,155.7" fill="none" stroke="#dc9a58" stroke-width="15.5" stroke-linecap="round"/><path d="M608.2,155.1 Q626.2,135.1 644.2,155.1" fill="none" stroke="#fcc985" stroke-width="12.09" stroke-linecap="round"/><path d="M608.2,154.2 Q626.2,134.2 644.2,154.2" fill="none" stroke="#ffe1b2" stroke-width="6.51" stroke-linecap="round"/>
<path d="M658.2,155.7 Q676.2,135.7 694.2,155.7" fill="none" stroke="#dc9a58" stroke-width="15.5" stroke-linecap="round"/><path d="M658.2,155.1 Q676.2,135.1 694.2,155.1" fill="none" stroke="#fcc985" stroke-width="12.09" stroke-linecap="round"/><path d="M658.2,154.2 Q676.2,134.2 694.2,154.2" fill="none" stroke="#ffe1b2" stroke-width="6.51" stroke-linecap="round"/>
<path d="M708.2,155.7 Q726.2,135.7 744.2,155.7" fill="none" stroke="#dc9a58" stroke-width="15.5" stroke-linecap="round"/><path d="M708.2,155.1 Q726.2,135.1 744.2,155.1" fill="none" stroke="#fcc985" stroke-width="12.09" stroke-linecap="round"/><path d="M708.2,154.2 Q726.2,134.2 744.2,154.2" fill="none" stroke="#ffe1b2" stroke-width="6.51" stroke-linecap="round"/>
<path d="M633.2,157.7 Q651.2,170.7 669.2,157.7" fill="none" stroke="#dc9a58" stroke-width="15.5" stroke-linecap="round"/><path d="M633.2,157.1 Q651.2,170.1 669.2,157.1" fill="none" stroke="#fcc985" stroke-width="12.09" stroke-linecap="round"/><path d="M633.2,156.2 Q651.2,169.2 669.2,156.2" fill="none" stroke="#ffe1b2" stroke-width="6.51" stroke-linecap="round"/>
<path d="M682.7,157.7 Q700.7,170.7 718.7,157.7" fill="none" stroke="#dc9a58" stroke-width="15.5" stroke-linecap="round"/><path d="M682.7,157.1 Q700.7,170.1 718.7,157.1" fill="none" stroke="#fcc985" stroke-width="12.09" stroke-linecap="round"/><path d="M682.7,156.2 Q700.7,169.2 718.7,156.2" fill="none" stroke="#ffe1b2" stroke-width="6.51" stroke-linecap="round"/>
<path d="M608.2,191.7 Q626.2,167.7 644.2,191.7" fill="none" stroke="#dc9a58" stroke-width="15.5" stroke-linecap="round"/><path d="M608.2,191.1 Q626.2,167.1 644.2,191.1" fill="none" stroke="#fcc985" stroke-width="12.09" stroke-linecap="round"/><path d="M608.2,190.2 Q626.2,166.2 644.2,190.2" fill="none" stroke="#ffe1b2" stroke-width="6.51" stroke-linecap="round"/>
<path d="M658.2,191.7 Q676.2,167.7 694.2,191.7" fill="none" stroke="#dc9a58" stroke-width="15.5" stroke-linecap="round"/><path d="M658.2,191.1 Q676.2,167.1 694.2,191.1" fill="none" stroke="#fcc985" stroke-width="12.09" stroke-linecap="round"/><path d="M658.2,190.2 Q676.2,166.2 694.2,190.2" fill="none" stroke="#ffe1b2" stroke-width="6.51" stroke-linecap="round"/>
<path d="M708.2,191.7 Q726.2,167.7 744.2,191.7" fill="none" stroke="#dc9a58" stroke-width="15.5" stroke-linecap="round"/><path d="M708.2,191.1 Q726.2,167.1 744.2,191.1" fill="none" stroke="#fcc985" stroke-width="12.09" stroke-linecap="round"/><path d="M708.2,190.2 Q726.2,166.2 744.2,190.2" fill="none" stroke="#ffe1b2" stroke-width="6.51" stroke-linecap="round"/>
<path d="M608.2,229.7 Q626.2,201.7 644.2,229.7" fill="none" stroke="#dc9a58" stroke-width="15.5" stroke-linecap="round"/><path d="M608.2,229.1 Q626.2,201.1 644.2,229.1" fill="none" stroke="#fcc985" stroke-width="12.09" stroke-linecap="round"/><path d="M608.2,228.2 Q626.2,200.2 644.2,228.2" fill="none" stroke="#ffe1b2" stroke-width="6.51" stroke-linecap="round"/>
<path d="M658.2,229.7 Q676.2,201.7 694.2,229.7" fill="none" stroke="#dc9a58" stroke-width="15.5" stroke-linecap="round"/><path d="M658.2,229.1 Q676.2,201.1 694.2,229.1" fill="none" stroke="#fcc985" stroke-width="12.09" stroke-linecap="round"/><path d="M658.2,228.2 Q676.2,200.2 694.2,228.2" fill="none" stroke="#ffe1b2" stroke-width="6.51" stroke-linecap="round"/>
<path d="M708.2,229.7 Q726.2,201.7 744.2,229.7" fill="none" stroke="#dc9a58" stroke-width="15.5" stroke-linecap="round"/><path d="M708.2,229.1 Q726.2,201.1 744.2,229.1" fill="none" stroke="#fcc985" stroke-width="12.09" stroke-linecap="round"/><path d="M708.2,228.2 Q726.2,200.2 744.2,228.2" fill="none" stroke="#ffe1b2" stroke-width="6.51" stroke-linecap="round"/>
<path d="M633.2,192.7 Q651.2,208.7 669.2,192.7" fill="none" stroke="#d9620f" stroke-width="15.5" stroke-linecap="round"/><path d="M633.2,192.1 Q651.2,208.1 669.2,192.1" fill="none" stroke="#f2801f" stroke-width="12.09" stroke-linecap="round"/><path d="M633.2,191.2 Q651.2,207.2 669.2,191.2" fill="none" stroke="#fca35a" stroke-width="6.51" stroke-linecap="round"/>
<path d="M682.7,192.7 Q700.7,208.7 718.7,192.7" fill="none" stroke="#d9620f" stroke-width="15.5" stroke-linecap="round"/><path d="M682.7,192.1 Q700.7,208.1 718.7,192.1" fill="none" stroke="#f2801f" stroke-width="12.09" stroke-linecap="round"/><path d="M682.7,191.2 Q700.7,207.2 718.7,191.2" fill="none" stroke="#fca35a" stroke-width="6.51" stroke-linecap="round"/>
</g>
<rect x="618.5" y="147.1" width="115.7" height="83.0" fill="none" stroke="#f0712a" stroke-width="5.3"/>
<text x="677.5" y="257.7" font-size="26.8" fill="#f0712a" text-anchor="middle" >garter</text>
<circle cx="878.3" cy="271.0" r="18.1" fill="#8e2a8e"/>
<g clip-path="url(#ic3)">
<rect x="823.6" y="311.3" width="110.4" height="77.7" fill="#e7b9e6"/>
<path d="M851.1,339.3 l4,8 l-4,8 l-4,-8 z" fill="#bcbcbc"/>
<path d="M904.6,316.3 l4,8 l-4,8 l-4,-8 z" fill="#bcbcbc"/>
<path d="M906.1,361.3 l4,8 l-4,8 l-4,-8 z" fill="#bcbcbc"/>
<ellipse cx="0" cy="0" rx="6.5" ry="16.7" fill="url(#gLPv)" transform="translate(839.6,313.3) rotate(128.7)"/>
<ellipse cx="0" cy="0" rx="6.5" ry="16.7" fill="url(#gLPv)" transform="translate(863.6,313.3) rotate(-128.7)"/>
<ellipse cx="0" cy="0" rx="6.0" ry="14.8" fill="url(#gLPv)" transform="translate(898.6,341.3) rotate(153.4)"/>
<ellipse cx="0" cy="0" rx="6.0" ry="14.8" fill="url(#gLPv)" transform="translate(913.6,341.3) rotate(-153.4)"/>
<ellipse cx="0" cy="0" rx="6.0" ry="14.4" fill="url(#gLPv)" transform="translate(897.6,382.3) rotate(146.3)"/>
<ellipse cx="0" cy="0" rx="6.0" ry="14.4" fill="url(#gLPv)" transform="translate(914.6,382.3) rotate(-146.3)"/>
<ellipse cx="0" cy="0" rx="6.0" ry="14.3" fill="url(#gDPv)" transform="translate(843.1,356.8) rotate(142.6)"/>
<ellipse cx="0" cy="0" rx="6.0" ry="14.3" fill="url(#gDPv)" transform="translate(860.1,356.8) rotate(-142.6)"/>
<ellipse cx="0" cy="0" rx="6.0" ry="15.3" fill="url(#gDPv)" transform="translate(889.6,338.3) rotate(110.0)"/>
<ellipse cx="0" cy="0" rx="6.0" ry="13.9" fill="url(#gDPv)" transform="translate(920.1,338.3) rotate(-112.8)"/>
<path d="M826.6,358.3 Q849.6,319.8 880.6,355.3" fill="none" stroke="#d89ad6" stroke-width="14" stroke-linecap="round"/><path d="M826.6,357.7 Q849.6,319.2 880.6,354.7" fill="none" stroke="#f5cdf4" stroke-width="10.92" stroke-linecap="round"/><path d="M826.6,356.9 Q849.6,318.4 880.6,353.9" fill="none" stroke="#fde6fd" stroke-width="5.88" stroke-linecap="round"/>
<path d="M829.6,334.3 Q851.6,317.3 873.6,334.3" fill="none" stroke="#7a1f78" stroke-width="15" stroke-linecap="round"/><path d="M829.6,333.7 Q851.6,316.7 873.6,333.7" fill="none" stroke="#a23ea0" stroke-width="11.700000000000001" stroke-linecap="round"/><path d="M829.6,332.8 Q851.6,315.8 873.6,332.8" fill="none" stroke="#c064be" stroke-width="6.3" stroke-linecap="round"/>
<path d="M881.6,325.3 Q905.6,305.3 929.6,325.3" fill="none" stroke="#d89ad6" stroke-width="15" stroke-linecap="round"/><path d="M881.6,324.7 Q905.6,304.7 929.6,324.7" fill="none" stroke="#f5cdf4" stroke-width="11.700000000000001" stroke-linecap="round"/><path d="M881.6,323.8 Q905.6,303.8 929.6,323.8" fill="none" stroke="#fde6fd" stroke-width="6.3" stroke-linecap="round"/>
<path d="M875.6,372.3 Q905.6,345.3 935.6,374.3" fill="none" stroke="#7a1f78" stroke-width="15" stroke-linecap="round"/><path d="M875.6,371.7 Q905.6,344.7 935.6,373.7" fill="none" stroke="#a23ea0" stroke-width="11.700000000000001" stroke-linecap="round"/><path d="M875.6,370.8 Q905.6,343.8 935.6,372.8" fill="none" stroke="#c064be" stroke-width="6.3" stroke-linecap="round"/>
<path d="M884.6,357.3 Q906.1,340.3 927.6,357.3" fill="none" stroke="#d89ad6" stroke-width="15" stroke-linecap="round"/><path d="M884.6,356.7 Q906.1,339.7 927.6,356.7" fill="none" stroke="#f5cdf4" stroke-width="11.700000000000001" stroke-linecap="round"/><path d="M884.6,355.8 Q906.1,338.8 927.6,355.8" fill="none" stroke="#fde6fd" stroke-width="6.3" stroke-linecap="round"/>
<path d="M828.6,381.3 Q851.6,365.3 874.6,381.3" fill="none" stroke="#d89ad6" stroke-width="15" stroke-linecap="round"/><path d="M828.6,380.7 Q851.6,364.7 874.6,380.7" fill="none" stroke="#f5cdf4" stroke-width="11.700000000000001" stroke-linecap="round"/><path d="M828.6,379.8 Q851.6,363.8 874.6,379.8" fill="none" stroke="#fde6fd" stroke-width="6.3" stroke-linecap="round"/>
</g>
<rect x="820.9" y="308.6" width="115.7" height="83.0" fill="none" stroke="#8e2a8e" stroke-width="5.3"/>
<text x="877.6" y="419.5" font-size="26.8" fill="#8e2a8e" text-anchor="middle" >seed</text>
<rect x="1058.6" y="462.5" width="26" height="26" fill="#71953e"/>
<g clip-path="url(#ic4)">
<rect x="1019.1" y="514.9" width="110.4" height="77.7" fill="#a9bf72"/>
<ellipse cx="1012.3" cy="488.8" rx="12.0" ry="6.8" fill="#c2d394"/>
<ellipse cx="1072.3" cy="488.8" rx="12.0" ry="6.8" fill="#c2d394"/>
<ellipse cx="1132.3" cy="488.8" rx="12.0" ry="6.8" fill="#c2d394"/>
<ellipse cx="1192.3" cy="488.8" rx="12.0" ry="6.8" fill="#c2d394"/>
<ellipse cx="1012.3" cy="516.5" rx="12.0" ry="6.8" fill="#c2d394"/>
<ellipse cx="1072.3" cy="516.5" rx="12.0" ry="6.8" fill="#c2d394"/>
<ellipse cx="1132.3" cy="516.5" rx="12.0" ry="6.8" fill="#c2d394"/>
<ellipse cx="1192.3" cy="516.5" rx="12.0" ry="6.8" fill="#c2d394"/>
<ellipse cx="1012.3" cy="544.1" rx="12.0" ry="6.8" fill="#c2d394"/>
<ellipse cx="1072.3" cy="544.1" rx="12.0" ry="6.8" fill="#c2d394"/>
<ellipse cx="1132.3" cy="544.1" rx="12.0" ry="6.8" fill="#c2d394"/>
<ellipse cx="1192.3" cy="544.1" rx="12.0" ry="6.8" fill="#c2d394"/>
<ellipse cx="1012.3" cy="571.8" rx="12.0" ry="6.8" fill="#c2d394"/>
<ellipse cx="1072.3" cy="571.8" rx="12.0" ry="6.8" fill="#c2d394"/>
<ellipse cx="1132.3" cy="571.8" rx="12.0" ry="6.8" fill="#c2d394"/>
<ellipse cx="1192.3" cy="571.8" rx="12.0" ry="6.8" fill="#c2d394"/>
<rect x="-9.8" y="-24.8" width="19.5" height="49.5" rx="9.8" ry="14.6" fill="url(#gLG)" transform="translate(967.1,578.6) rotate(-25.0)"/>
<rect x="-9.8" y="-24.8" width="19.5" height="49.5" rx="9.8" ry="14.6" fill="url(#gLG)" transform="translate(997.5,578.6) rotate(25.0)"/>
<rect x="-9.8" y="-24.8" width="19.5" height="49.5" rx="9.8" ry="14.6" fill="url(#gLG)" transform="translate(1027.1,578.6) rotate(-25.0)"/>
<rect x="-9.8" y="-24.8" width="19.5" height="49.5" rx="9.8" ry="14.6" fill="url(#gLG)" transform="translate(1057.5,578.6) rotate(25.0)"/>
<rect x="-9.8" y="-24.8" width="19.5" height="49.5" rx="9.8" ry="14.6" fill="url(#gLG)" transform="translate(1087.1,578.6) rotate(-25.0)"/>
<rect x="-9.8" y="-24.8" width="19.5" height="49.5" rx="9.8" ry="14.6" fill="url(#gLG)" transform="translate(1117.5,578.6) rotate(25.0)"/>
<rect x="-9.8" y="-24.8" width="19.5" height="49.5" rx="9.8" ry="14.6" fill="url(#gLG)" transform="translate(1147.1,578.6) rotate(-25.0)"/>
<rect x="-9.8" y="-24.8" width="19.5" height="49.5" rx="9.8" ry="14.6" fill="url(#gLG)" transform="translate(1177.5,578.6) rotate(25.0)"/>
<rect x="-9.8" y="-24.8" width="19.5" height="49.5" rx="9.8" ry="14.6" fill="url(#gBG)" transform="translate(967.1,550.9) rotate(-25.0)"/>
<rect x="-9.8" y="-24.8" width="19.5" height="49.5" rx="9.8" ry="14.6" fill="url(#gBG)" transform="translate(997.5,550.9) rotate(25.0)"/>
<rect x="-9.8" y="-24.8" width="19.5" height="49.5" rx="9.8" ry="14.6" fill="url(#gBG)" transform="translate(1027.1,550.9) rotate(-25.0)"/>
<rect x="-9.8" y="-24.8" width="19.5" height="49.5" rx="9.8" ry="14.6" fill="url(#gBG)" transform="translate(1057.5,550.9) rotate(25.0)"/>
<rect x="-9.8" y="-24.8" width="19.5" height="49.5" rx="9.8" ry="14.6" fill="url(#gBG)" transform="translate(1087.1,550.9) rotate(-25.0)"/>
<rect x="-9.8" y="-24.8" width="19.5" height="49.5" rx="9.8" ry="14.6" fill="url(#gBG)" transform="translate(1117.5,550.9) rotate(25.0)"/>
<rect x="-9.8" y="-24.8" width="19.5" height="49.5" rx="9.8" ry="14.6" fill="url(#gBG)" transform="translate(1147.1,550.9) rotate(-25.0)"/>
<rect x="-9.8" y="-24.8" width="19.5" height="49.5" rx="9.8" ry="14.6" fill="url(#gBG)" transform="translate(1177.5,550.9) rotate(25.0)"/>
<rect x="-9.8" y="-24.8" width="19.5" height="49.5" rx="9.8" ry="14.6" fill="url(#gLG)" transform="translate(967.1,523.3) rotate(-25.0)"/>
<rect x="-9.8" y="-24.8" width="19.5" height="49.5" rx="9.8" ry="14.6" fill="url(#gLG)" transform="translate(997.5,523.3) rotate(25.0)"/>
<rect x="-9.8" y="-24.8" width="19.5" height="49.5" rx="9.8" ry="14.6" fill="url(#gLG)" transform="translate(1027.1,523.3) rotate(-25.0)"/>
<rect x="-9.8" y="-24.8" width="19.5" height="49.5" rx="9.8" ry="14.6" fill="url(#gLG)" transform="translate(1057.5,523.3) rotate(25.0)"/>
<rect x="-9.8" y="-24.8" width="19.5" height="49.5" rx="9.8" ry="14.6" fill="url(#gLG)" transform="translate(1087.1,523.3) rotate(-25.0)"/>
<rect x="-9.8" y="-24.8" width="19.5" height="49.5" rx="9.8" ry="14.6" fill="url(#gLG)" transform="translate(1117.5,523.3) rotate(25.0)"/>
<rect x="-9.8" y="-24.8" width="19.5" height="49.5" rx="9.8" ry="14.6" fill="url(#gLG)" transform="translate(1147.1,523.3) rotate(-25.0)"/>
<rect x="-9.8" y="-24.8" width="19.5" height="49.5" rx="9.8" ry="14.6" fill="url(#gLG)" transform="translate(1177.5,523.3) rotate(25.0)"/>
<rect x="-9.8" y="-24.8" width="19.5" height="49.5" rx="9.8" ry="14.6" fill="url(#gLG)" transform="translate(967.1,495.6) rotate(-25.0)"/>
<rect x="-9.8" y="-24.8" width="19.5" height="49.5" rx="9.8" ry="14.6" fill="url(#gLG)" transform="translate(997.5,495.6) rotate(25.0)"/>
<rect x="-9.8" y="-24.8" width="19.5" height="49.5" rx="9.8" ry="14.6" fill="url(#gLG)" transform="translate(1027.1,495.6) rotate(-25.0)"/>
<rect x="-9.8" y="-24.8" width="19.5" height="49.5" rx="9.8" ry="14.6" fill="url(#gLG)" transform="translate(1057.5,495.6) rotate(25.0)"/>
<rect x="-9.8" y="-24.8" width="19.5" height="49.5" rx="9.8" ry="14.6" fill="url(#gLG)" transform="translate(1087.1,495.6) rotate(-25.0)"/>
<rect x="-9.8" y="-24.8" width="19.5" height="49.5" rx="9.8" ry="14.6" fill="url(#gLG)" transform="translate(1117.5,495.6) rotate(25.0)"/>
<rect x="-9.8" y="-24.8" width="19.5" height="49.5" rx="9.8" ry="14.6" fill="url(#gLG)" transform="translate(1147.1,495.6) rotate(-25.0)"/>
<rect x="-9.8" y="-24.8" width="19.5" height="49.5" rx="9.8" ry="14.6" fill="url(#gLG)" transform="translate(1177.5,495.6) rotate(25.0)"/>
<path d="M982.3,512.4 L984.5,516.9 L982.3,519.4 L980.1,516.9 Z" fill="#a9acb0"/>
<path d="M1042.3,512.4 L1044.5,516.9 L1042.3,519.4 L1040.1,516.9 Z" fill="#a9acb0"/>
<path d="M1102.3,512.4 L1104.5,516.9 L1102.3,519.4 L1100.1,516.9 Z" fill="#a9acb0"/>
<path d="M1162.3,512.4 L1164.5,516.9 L1162.3,519.4 L1160.1,516.9 Z" fill="#a9acb0"/>
<path d="M982.3,540.1 L984.5,544.6 L982.3,547.1 L980.1,544.6 Z" fill="#a9acb0"/>
<path d="M1042.3,540.1 L1044.5,544.6 L1042.3,547.1 L1040.1,544.6 Z" fill="#a9acb0"/>
<path d="M1102.3,540.1 L1104.5,544.6 L1102.3,547.1 L1100.1,544.6 Z" fill="#a9acb0"/>
<path d="M1162.3,540.1 L1164.5,544.6 L1162.3,547.1 L1160.1,544.6 Z" fill="#a9acb0"/>
<path d="M982.3,567.7 L984.5,572.2 L982.3,574.7 L980.1,572.2 Z" fill="#a9acb0"/>
<path d="M1042.3,567.7 L1044.5,572.2 L1042.3,574.7 L1040.1,572.2 Z" fill="#a9acb0"/>
<path d="M1102.3,567.7 L1104.5,572.2 L1102.3,574.7 L1100.1,572.2 Z" fill="#a9acb0"/>
<path d="M1162.3,567.7 L1164.5,572.2 L1162.3,574.7 L1160.1,572.2 Z" fill="#a9acb0"/>
<path d="M982.3,595.4 L984.5,599.9 L982.3,602.4 L980.1,599.9 Z" fill="#a9acb0"/>
<path d="M1042.3,595.4 L1044.5,599.9 L1042.3,602.4 L1040.1,599.9 Z" fill="#a9acb0"/>
<path d="M1102.3,595.4 L1104.5,599.9 L1102.3,602.4 L1100.1,599.9 Z" fill="#a9acb0"/>
<path d="M1162.3,595.4 L1164.5,599.9 L1162.3,602.4 L1160.1,599.9 Z" fill="#a9acb0"/>
</g>
<rect x="1016.4" y="512.2" width="115.7" height="83.0" fill="none" stroke="#71953e" stroke-width="5.3"/>
<text x="1073.8" y="624.0" font-size="26.8" fill="#71953e" text-anchor="middle" >rib</text>
<polygon points="514.4,815.3 532.7,833.6 514.4,851.9 496.1,833.6" fill="#0a4c6f" />
<g clip-path="url(#ic5)">
<rect x="458.0" y="875.4" width="110.4" height="77.7" fill="#4b6a7d"/>
<ellipse cx="439.6" cy="855.5" rx="10.1" ry="5.9" fill="#6a8190"/>
<ellipse cx="490.0" cy="855.5" rx="10.1" ry="5.9" fill="#6a8190"/>
<ellipse cx="540.4" cy="855.5" rx="10.1" ry="5.9" fill="#6a8190"/>
<ellipse cx="590.8" cy="855.5" rx="10.1" ry="5.9" fill="#6a8190"/>
<ellipse cx="641.2" cy="855.5" rx="10.1" ry="5.9" fill="#6a8190"/>
<ellipse cx="439.6" cy="882.2" rx="10.1" ry="5.9" fill="#6a8190"/>
<ellipse cx="490.0" cy="882.2" rx="10.1" ry="5.9" fill="#6a8190"/>
<ellipse cx="540.4" cy="882.2" rx="10.1" ry="5.9" fill="#6a8190"/>
<ellipse cx="590.8" cy="882.2" rx="10.1" ry="5.9" fill="#6a8190"/>
<ellipse cx="641.2" cy="882.2" rx="10.1" ry="5.9" fill="#6a8190"/>
<ellipse cx="439.6" cy="909.2" rx="10.1" ry="5.9" fill="#6a8190"/>
<ellipse cx="490.0" cy="909.2" rx="10.1" ry="5.9" fill="#6a8190"/>
<ellipse cx="540.4" cy="909.2" rx="10.1" ry="5.9" fill="#6a8190"/>
<ellipse cx="590.8" cy="909.2" rx="10.1" ry="5.9" fill="#6a8190"/>
<ellipse cx="641.2" cy="909.2" rx="10.1" ry="5.9" fill="#6a8190"/>
<ellipse cx="439.6" cy="936.2" rx="10.1" ry="5.9" fill="#6a8190"/>
<ellipse cx="490.0" cy="936.2" rx="10.1" ry="5.9" fill="#6a8190"/>
<ellipse cx="540.4" cy="936.2" rx="10.1" ry="5.9" fill="#6a8190"/>
<ellipse cx="590.8" cy="936.2" rx="10.1" ry="5.9" fill="#6a8190"/>
<ellipse cx="641.2" cy="936.2" rx="10.1" ry="5.9" fill="#6a8190"/>
<rect x="-9.0" y="-22.5" width="18.0" height="45.0" rx="9.0" ry="13.5" fill="url(#gLB)" transform="translate(400.0,942.1) rotate(-29.0)"/>
<rect x="-9.0" y="-22.5" width="18.0" height="45.0" rx="9.0" ry="13.5" fill="url(#gLB)" transform="translate(428.8,942.1) rotate(29.0)"/>
<rect x="-9.0" y="-22.5" width="18.0" height="45.0" rx="9.0" ry="13.5" fill="url(#gLB)" transform="translate(450.4,942.1) rotate(-29.0)"/>
<rect x="-9.0" y="-22.5" width="18.0" height="45.0" rx="9.0" ry="13.5" fill="url(#gLB)" transform="translate(479.2,942.1) rotate(29.0)"/>
<rect x="-9.0" y="-22.5" width="18.0" height="45.0" rx="9.0" ry="13.5" fill="url(#gLB)" transform="translate(500.8,942.1) rotate(-29.0)"/>
<rect x="-9.0" y="-22.5" width="18.0" height="45.0" rx="9.0" ry="13.5" fill="url(#gLB)" transform="translate(529.6,942.1) rotate(29.0)"/>
<rect x="-9.0" y="-22.5" width="18.0" height="45.0" rx="9.0" ry="13.5" fill="url(#gLB)" transform="translate(551.2,942.1) rotate(-29.0)"/>
<rect x="-9.0" y="-22.5" width="18.0" height="45.0" rx="9.0" ry="13.5" fill="url(#gLB)" transform="translate(580.0,942.1) rotate(29.0)"/>
<rect x="-9.0" y="-22.5" width="18.0" height="45.0" rx="9.0" ry="13.5" fill="url(#gLB)" transform="translate(601.6,942.1) rotate(-29.0)"/>
<rect x="-9.0" y="-22.5" width="18.0" height="45.0" rx="9.0" ry="13.5" fill="url(#gLB)" transform="translate(630.4,942.1) rotate(29.0)"/>
<rect x="-9.0" y="-22.5" width="18.0" height="45.0" rx="9.0" ry="13.5" fill="url(#gDB)" transform="translate(400.0,915.1) rotate(-29.0)"/>
<rect x="-9.0" y="-22.5" width="18.0" height="45.0" rx="9.0" ry="13.5" fill="url(#gDB)" transform="translate(428.8,915.1) rotate(29.0)"/>
<rect x="-9.0" y="-22.5" width="18.0" height="45.0" rx="9.0" ry="13.5" fill="url(#gDB)" transform="translate(450.4,915.1) rotate(-29.0)"/>
<rect x="-9.0" y="-22.5" width="18.0" height="45.0" rx="9.0" ry="13.5" fill="url(#gDB)" transform="translate(479.2,915.1) rotate(29.0)"/>
<rect x="-9.0" y="-22.5" width="18.0" height="45.0" rx="9.0" ry="13.5" fill="url(#gDB)" transform="translate(500.8,915.1) rotate(-29.0)"/>
<rect x="-9.0" y="-22.5" width="18.0" height="45.0" rx="9.0" ry="13.5" fill="url(#gDB)" transform="translate(529.6,915.1) rotate(29.0)"/>
<rect x="-9.0" y="-22.5" width="18.0" height="45.0" rx="9.0" ry="13.5" fill="url(#gDB)" transform="translate(551.2,915.1) rotate(-29.0)"/>
<rect x="-9.0" y="-22.5" width="18.0" height="45.0" rx="9.0" ry="13.5" fill="url(#gDB)" transform="translate(580.0,915.1) rotate(29.0)"/>
<rect x="-9.0" y="-22.5" width="18.0" height="45.0" rx="9.0" ry="13.5" fill="url(#gDB)" transform="translate(601.6,915.1) rotate(-29.0)"/>
<rect x="-9.0" y="-22.5" width="18.0" height="45.0" rx="9.0" ry="13.5" fill="url(#gDB)" transform="translate(630.4,915.1) rotate(29.0)"/>
<rect x="-9.0" y="-22.5" width="18.0" height="45.0" rx="9.0" ry="13.5" fill="url(#gLB)" transform="translate(400.0,888.1) rotate(-29.0)"/>
<rect x="-9.0" y="-22.5" width="18.0" height="45.0" rx="9.0" ry="13.5" fill="url(#gLB)" transform="translate(428.8,888.1) rotate(29.0)"/>
<rect x="-9.0" y="-22.5" width="18.0" height="45.0" rx="9.0" ry="13.5" fill="url(#gLB)" transform="translate(450.4,888.1) rotate(-29.0)"/>
<rect x="-9.0" y="-22.5" width="18.0" height="45.0" rx="9.0" ry="13.5" fill="url(#gLB)" transform="translate(479.2,888.1) rotate(29.0)"/>
<rect x="-9.0" y="-22.5" width="18.0" height="45.0" rx="9.0" ry="13.5" fill="url(#gLB)" transform="translate(500.8,888.1) rotate(-29.0)"/>
<rect x="-9.0" y="-22.5" width="18.0" height="45.0" rx="9.0" ry="13.5" fill="url(#gLB)" transform="translate(529.6,888.1) rotate(29.0)"/>
<rect x="-9.0" y="-22.5" width="18.0" height="45.0" rx="9.0" ry="13.5" fill="url(#gLB)" transform="translate(551.2,888.1) rotate(-29.0)"/>
<rect x="-9.0" y="-22.5" width="18.0" height="45.0" rx="9.0" ry="13.5" fill="url(#gLB)" transform="translate(580.0,888.1) rotate(29.0)"/>
<rect x="-9.0" y="-22.5" width="18.0" height="45.0" rx="9.0" ry="13.5" fill="url(#gLB)" transform="translate(601.6,888.1) rotate(-29.0)"/>
<rect x="-9.0" y="-22.5" width="18.0" height="45.0" rx="9.0" ry="13.5" fill="url(#gLB)" transform="translate(630.4,888.1) rotate(29.0)"/>
<rect x="-9.0" y="-22.5" width="18.0" height="45.0" rx="9.0" ry="13.5" fill="url(#gMB)" transform="translate(400.0,861.4) rotate(-29.0)"/>
<rect x="-9.0" y="-22.5" width="18.0" height="45.0" rx="9.0" ry="13.5" fill="url(#gMB)" transform="translate(428.8,861.4) rotate(29.0)"/>
<rect x="-9.0" y="-22.5" width="18.0" height="45.0" rx="9.0" ry="13.5" fill="url(#gMB)" transform="translate(450.4,861.4) rotate(-29.0)"/>
<rect x="-9.0" y="-22.5" width="18.0" height="45.0" rx="9.0" ry="13.5" fill="url(#gMB)" transform="translate(479.2,861.4) rotate(29.0)"/>
<rect x="-9.0" y="-22.5" width="18.0" height="45.0" rx="9.0" ry="13.5" fill="url(#gMB)" transform="translate(500.8,861.4) rotate(-29.0)"/>
<rect x="-9.0" y="-22.5" width="18.0" height="45.0" rx="9.0" ry="13.5" fill="url(#gMB)" transform="translate(529.6,861.4) rotate(29.0)"/>
<rect x="-9.0" y="-22.5" width="18.0" height="45.0" rx="9.0" ry="13.5" fill="url(#gMB)" transform="translate(551.2,861.4) rotate(-29.0)"/>
<rect x="-9.0" y="-22.5" width="18.0" height="45.0" rx="9.0" ry="13.5" fill="url(#gMB)" transform="translate(580.0,861.4) rotate(29.0)"/>
<rect x="-9.0" y="-22.5" width="18.0" height="45.0" rx="9.0" ry="13.5" fill="url(#gMB)" transform="translate(601.6,861.4) rotate(-29.0)"/>
<rect x="-9.0" y="-22.5" width="18.0" height="45.0" rx="9.0" ry="13.5" fill="url(#gMB)" transform="translate(630.4,861.4) rotate(29.0)"/>
<path d="M414.4,875.7 L416.6,880.2 L414.4,882.7 L412.2,880.2 Z" fill="#a8a8a8"/>
<path d="M464.8,875.7 L467.0,880.2 L464.8,882.7 L462.6,880.2 Z" fill="#a8a8a8"/>
<path d="M515.2,875.7 L517.4,880.2 L515.2,882.7 L513.0,880.2 Z" fill="#a8a8a8"/>
<path d="M565.6,875.7 L567.8,880.2 L565.6,882.7 L563.4,880.2 Z" fill="#a8a8a8"/>
<path d="M616.0,875.7 L618.2,880.2 L616.0,882.7 L613.8,880.2 Z" fill="#a8a8a8"/>
<path d="M414.4,902.4 L416.6,906.9 L414.4,909.4 L412.2,906.9 Z" fill="#a8a8a8"/>
<path d="M464.8,902.4 L467.0,906.9 L464.8,909.4 L462.6,906.9 Z" fill="#a8a8a8"/>
<path d="M515.2,902.4 L517.4,906.9 L515.2,909.4 L513.0,906.9 Z" fill="#a8a8a8"/>
<path d="M565.6,902.4 L567.8,906.9 L565.6,909.4 L563.4,906.9 Z" fill="#a8a8a8"/>
<path d="M616.0,902.4 L618.2,906.9 L616.0,909.4 L613.8,906.9 Z" fill="#a8a8a8"/>
<path d="M414.4,929.4 L416.6,933.9 L414.4,936.4 L412.2,933.9 Z" fill="#a8a8a8"/>
<path d="M464.8,929.4 L467.0,933.9 L464.8,936.4 L462.6,933.9 Z" fill="#a8a8a8"/>
<path d="M515.2,929.4 L517.4,933.9 L515.2,936.4 L513.0,933.9 Z" fill="#a8a8a8"/>
<path d="M565.6,929.4 L567.8,933.9 L565.6,936.4 L563.4,933.9 Z" fill="#a8a8a8"/>
<path d="M616.0,929.4 L618.2,933.9 L616.0,936.4 L613.8,933.9 Z" fill="#a8a8a8"/>
<path d="M414.4,956.4 L416.6,960.9 L414.4,963.4 L412.2,960.9 Z" fill="#a8a8a8"/>
<path d="M464.8,956.4 L467.0,960.9 L464.8,963.4 L462.6,960.9 Z" fill="#a8a8a8"/>
<path d="M515.2,956.4 L517.4,960.9 L515.2,963.4 L513.0,960.9 Z" fill="#a8a8a8"/>
<path d="M565.6,956.4 L567.8,960.9 L565.6,963.4 L563.4,960.9 Z" fill="#a8a8a8"/>
<path d="M616.0,956.4 L618.2,960.9 L616.0,963.4 L613.8,960.9 Z" fill="#a8a8a8"/>
</g>
<rect x="455.3" y="872.8" width="115.7" height="83.0" fill="none" stroke="#0a4c6f" stroke-width="5.3"/>
<text x="514.6" y="981.7" font-size="26.8" fill="#0a4c6f" text-anchor="middle" >stockinette</text>
<rect x="712.4" y="830.0" width="26.5" height="26.5" fill="#71953e"/>
<g clip-path="url(#ic6)">
<rect x="672.1" y="881.9" width="110.4" height="77.7" fill="#a9bf72"/>
<ellipse cx="665.3" cy="855.8" rx="12.0" ry="6.8" fill="#c2d394"/>
<ellipse cx="725.3" cy="855.8" rx="12.0" ry="6.8" fill="#c2d394"/>
<ellipse cx="785.3" cy="855.8" rx="12.0" ry="6.8" fill="#c2d394"/>
<ellipse cx="845.3" cy="855.8" rx="12.0" ry="6.8" fill="#c2d394"/>
<ellipse cx="665.3" cy="883.5" rx="12.0" ry="6.8" fill="#c2d394"/>
<ellipse cx="725.3" cy="883.5" rx="12.0" ry="6.8" fill="#c2d394"/>
<ellipse cx="785.3" cy="883.5" rx="12.0" ry="6.8" fill="#c2d394"/>
<ellipse cx="845.3" cy="883.5" rx="12.0" ry="6.8" fill="#c2d394"/>
<ellipse cx="665.3" cy="911.1" rx="12.0" ry="6.8" fill="#c2d394"/>
<ellipse cx="725.3" cy="911.1" rx="12.0" ry="6.8" fill="#c2d394"/>
<ellipse cx="785.3" cy="911.1" rx="12.0" ry="6.8" fill="#c2d394"/>
<ellipse cx="845.3" cy="911.1" rx="12.0" ry="6.8" fill="#c2d394"/>
<ellipse cx="665.3" cy="938.8" rx="12.0" ry="6.8" fill="#c2d394"/>
<ellipse cx="725.3" cy="938.8" rx="12.0" ry="6.8" fill="#c2d394"/>
<ellipse cx="785.3" cy="938.8" rx="12.0" ry="6.8" fill="#c2d394"/>
<ellipse cx="845.3" cy="938.8" rx="12.0" ry="6.8" fill="#c2d394"/>
<rect x="-9.8" y="-24.8" width="19.5" height="49.5" rx="9.8" ry="14.6" fill="url(#gLG)" transform="translate(620.1,945.6) rotate(-25.0)"/>
<rect x="-9.8" y="-24.8" width="19.5" height="49.5" rx="9.8" ry="14.6" fill="url(#gLG)" transform="translate(650.5,945.6) rotate(25.0)"/>
<rect x="-9.8" y="-24.8" width="19.5" height="49.5" rx="9.8" ry="14.6" fill="url(#gLG)" transform="translate(680.1,945.6) rotate(-25.0)"/>
<rect x="-9.8" y="-24.8" width="19.5" height="49.5" rx="9.8" ry="14.6" fill="url(#gLG)" transform="translate(710.5,945.6) rotate(25.0)"/>
<rect x="-9.8" y="-24.8" width="19.5" height="49.5" rx="9.8" ry="14.6" fill="url(#gLG)" transform="translate(740.1,945.6) rotate(-25.0)"/>
<rect x="-9.8" y="-24.8" width="19.5" height="49.5" rx="9.8" ry="14.6" fill="url(#gLG)" transform="translate(770.5,945.6) rotate(25.0)"/>
<rect x="-9.8" y="-24.8" width="19.5" height="49.5" rx="9.8" ry="14.6" fill="url(#gLG)" transform="translate(800.1,945.6) rotate(-25.0)"/>
<rect x="-9.8" y="-24.8" width="19.5" height="49.5" rx="9.8" ry="14.6" fill="url(#gLG)" transform="translate(830.5,945.6) rotate(25.0)"/>
<rect x="-9.8" y="-24.8" width="19.5" height="49.5" rx="9.8" ry="14.6" fill="url(#gBG)" transform="translate(620.1,917.9) rotate(-25.0)"/>
<rect x="-9.8" y="-24.8" width="19.5" height="49.5" rx="9.8" ry="14.6" fill="url(#gBG)" transform="translate(650.5,917.9) rotate(25.0)"/>
<rect x="-9.8" y="-24.8" width="19.5" height="49.5" rx="9.8" ry="14.6" fill="url(#gBG)" transform="translate(680.1,917.9) rotate(-25.0)"/>
<rect x="-9.8" y="-24.8" width="19.5" height="49.5" rx="9.8" ry="14.6" fill="url(#gBG)" transform="translate(710.5,917.9) rotate(25.0)"/>
<rect x="-9.8" y="-24.8" width="19.5" height="49.5" rx="9.8" ry="14.6" fill="url(#gBG)" transform="translate(740.1,917.9) rotate(-25.0)"/>
<rect x="-9.8" y="-24.8" width="19.5" height="49.5" rx="9.8" ry="14.6" fill="url(#gBG)" transform="translate(770.5,917.9) rotate(25.0)"/>
<rect x="-9.8" y="-24.8" width="19.5" height="49.5" rx="9.8" ry="14.6" fill="url(#gBG)" transform="translate(800.1,917.9) rotate(-25.0)"/>
<rect x="-9.8" y="-24.8" width="19.5" height="49.5" rx="9.8" ry="14.6" fill="url(#gBG)" transform="translate(830.5,917.9) rotate(25.0)"/>
<rect x="-9.8" y="-24.8" width="19.5" height="49.5" rx="9.8" ry="14.6" fill="url(#gLG)" transform="translate(620.1,890.3) rotate(-25.0)"/>
<rect x="-9.8" y="-24.8" width="19.5" height="49.5" rx="9.8" ry="14.6" fill="url(#gLG)" transform="translate(650.5,890.3) rotate(25.0)"/>
<rect x="-9.8" y="-24.8" width="19.5" height="49.5" rx="9.8" ry="14.6" fill="url(#gLG)" transform="translate(680.1,890.3) rotate(-25.0)"/>
<rect x="-9.8" y="-24.8" width="19.5" height="49.5" rx="9.8" ry="14.6" fill="url(#gLG)" transform="translate(710.5,890.3) rotate(25.0)"/>
<rect x="-9.8" y="-24.8" width="19.5" height="49.5" rx="9.8" ry="14.6" fill="url(#gLG)" transform="translate(740.1,890.3) rotate(-25.0)"/>
<rect x="-9.8" y="-24.8" width="19.5" height="49.5" rx="9.8" ry="14.6" fill="url(#gLG)" transform="translate(770.5,890.3) rotate(25.0)"/>
<rect x="-9.8" y="-24.8" width="19.5" height="49.5" rx="9.8" ry="14.6" fill="url(#gLG)" transform="translate(800.1,890.3) rotate(-25.0)"/>
<rect x="-9.8" y="-24.8" width="19.5" height="49.5" rx="9.8" ry="14.6" fill="url(#gLG)" transform="translate(830.5,890.3) rotate(25.0)"/>
<rect x="-9.8" y="-24.8" width="19.5" height="49.5" rx="9.8" ry="14.6" fill="url(#gLG)" transform="translate(620.1,862.6) rotate(-25.0)"/>
<rect x="-9.8" y="-24.8" width="19.5" height="49.5" rx="9.8" ry="14.6" fill="url(#gLG)" transform="translate(650.5,862.6) rotate(25.0)"/>
<rect x="-9.8" y="-24.8" width="19.5" height="49.5" rx="9.8" ry="14.6" fill="url(#gLG)" transform="translate(680.1,862.6) rotate(-25.0)"/>
<rect x="-9.8" y="-24.8" width="19.5" height="49.5" rx="9.8" ry="14.6" fill="url(#gLG)" transform="translate(710.5,862.6) rotate(25.0)"/>
<rect x="-9.8" y="-24.8" width="19.5" height="49.5" rx="9.8" ry="14.6" fill="url(#gLG)" transform="translate(740.1,862.6) rotate(-25.0)"/>
<rect x="-9.8" y="-24.8" width="19.5" height="49.5" rx="9.8" ry="14.6" fill="url(#gLG)" transform="translate(770.5,862.6) rotate(25.0)"/>
<rect x="-9.8" y="-24.8" width="19.5" height="49.5" rx="9.8" ry="14.6" fill="url(#gLG)" transform="translate(800.1,862.6) rotate(-25.0)"/>
<rect x="-9.8" y="-24.8" width="19.5" height="49.5" rx="9.8" ry="14.6" fill="url(#gLG)" transform="translate(830.5,862.6) rotate(25.0)"/>
<path d="M635.3,879.4 L637.5,883.9 L635.3,886.4 L633.1,883.9 Z" fill="#a9acb0"/>
<path d="M695.3,879.4 L697.5,883.9 L695.3,886.4 L693.1,883.9 Z" fill="#a9acb0"/>
<path d="M755.3,879.4 L757.5,883.9 L755.3,886.4 L753.1,883.9 Z" fill="#a9acb0"/>
<path d="M815.3,879.4 L817.5,883.9 L815.3,886.4 L813.1,883.9 Z" fill="#a9acb0"/>
<path d="M635.3,907.1 L637.5,911.6 L635.3,914.1 L633.1,911.6 Z" fill="#a9acb0"/>
<path d="M695.3,907.1 L697.5,911.6 L695.3,914.1 L693.1,911.6 Z" fill="#a9acb0"/>
<path d="M755.3,907.1 L757.5,911.6 L755.3,914.1 L753.1,911.6 Z" fill="#a9acb0"/>
<path d="M815.3,907.1 L817.5,911.6 L815.3,914.1 L813.1,911.6 Z" fill="#a9acb0"/>
<path d="M635.3,934.7 L637.5,939.2 L635.3,941.7 L633.1,939.2 Z" fill="#a9acb0"/>
<path d="M695.3,934.7 L697.5,939.2 L695.3,941.7 L693.1,939.2 Z" fill="#a9acb0"/>
<path d="M755.3,934.7 L757.5,939.2 L755.3,941.7 L753.1,939.2 Z" fill="#a9acb0"/>
<path d="M815.3,934.7 L817.5,939.2 L815.3,941.7 L813.1,939.2 Z" fill="#a9acb0"/>
<path d="M635.3,962.4 L637.5,966.9 L635.3,969.4 L633.1,966.9 Z" fill="#a9acb0"/>
<path d="M695.3,962.4 L697.5,966.9 L695.3,969.4 L693.1,966.9 Z" fill="#a9acb0"/>
<path d="M755.3,962.4 L757.5,966.9 L755.3,969.4 L753.1,966.9 Z" fill="#a9acb0"/>
<path d="M815.3,962.4 L817.5,966.9 L815.3,969.4 L813.1,966.9 Z" fill="#a9acb0"/>
</g>
<rect x="669.4" y="879.2" width="115.7" height="83.0" fill="none" stroke="#71953e" stroke-width="5.3"/>
<text x="727.0" y="991.0" font-size="26.8" fill="#71953e" text-anchor="middle" >rib</text>
<polygon points="915.6,894.8 933.2,929.0 898.0,929.0" fill="#f0712a" />
<g clip-path="url(#ic7)">
<rect x="860.1" y="952.2" width="110.4" height="77.7" fill="#d7a46e"/>
<path d="M865.7,963.7 l5.5,5 l-5.5,5 l-5.5,-5 z" fill="#a0a4aa"/>
<path d="M914.7,963.7 l5.5,5 l-5.5,5 l-5.5,-5 z" fill="#a0a4aa"/>
<path d="M963.1,963.7 l5.5,5 l-5.5,5 l-5.5,-5 z" fill="#a0a4aa"/>
<path d="M890.1,973.7 l5.5,5 l-5.5,5 l-5.5,-5 z" fill="#a0a4aa"/>
<path d="M938.6,973.7 l5.5,5 l-5.5,5 l-5.5,-5 z" fill="#a0a4aa"/>
<path d="M865.7,1001.7 l5.5,5 l-5.5,5 l-5.5,-5 z" fill="#a0a4aa"/>
<path d="M914.7,1001.7 l5.5,5 l-5.5,5 l-5.5,-5 z" fill="#a0a4aa"/>
<path d="M963.1,1001.7 l5.5,5 l-5.5,5 l-5.5,-5 z" fill="#a0a4aa"/>
<path d="M890.1,1009.7 l5.5,5 l-5.5,5 l-5.5,-5 z" fill="#a0a4aa"/>
<path d="M938.6,1009.7 l5.5,5 l-5.5,5 l-5.5,-5 z" fill="#a0a4aa"/>
<path d="M847.1,958.2 Q865.1,938.2 883.1,958.2" fill="none" stroke="#dc9a58" stroke-width="15.5" stroke-linecap="round"/><path d="M847.1,957.6 Q865.1,937.6 883.1,957.6" fill="none" stroke="#fcc985" stroke-width="12.09" stroke-linecap="round"/><path d="M847.1,956.6 Q865.1,936.6 883.1,956.6" fill="none" stroke="#ffe1b2" stroke-width="6.51" stroke-linecap="round"/>
<path d="M897.1,958.2 Q915.1,938.2 933.1,958.2" fill="none" stroke="#dc9a58" stroke-width="15.5" stroke-linecap="round"/><path d="M897.1,957.6 Q915.1,937.6 933.1,957.6" fill="none" stroke="#fcc985" stroke-width="12.09" stroke-linecap="round"/><path d="M897.1,956.6 Q915.1,936.6 933.1,956.6" fill="none" stroke="#ffe1b2" stroke-width="6.51" stroke-linecap="round"/>
<path d="M947.1,958.2 Q965.1,938.2 983.1,958.2" fill="none" stroke="#dc9a58" stroke-width="15.5" stroke-linecap="round"/><path d="M947.1,957.6 Q965.1,937.6 983.1,957.6" fill="none" stroke="#fcc985" stroke-width="12.09" stroke-linecap="round"/><path d="M947.1,956.6 Q965.1,936.6 983.1,956.6" fill="none" stroke="#ffe1b2" stroke-width="6.51" stroke-linecap="round"/>
<path d="M872.1,960.2 Q890.1,973.2 908.1,960.2" fill="none" stroke="#dc9a58" stroke-width="15.5" stroke-linecap="round"/><path d="M872.1,959.6 Q890.1,972.6 908.1,959.6" fill="none" stroke="#fcc985" stroke-width="12.09" stroke-linecap="round"/><path d="M872.1,958.6 Q890.1,971.6 908.1,958.6" fill="none" stroke="#ffe1b2" stroke-width="6.51" stroke-linecap="round"/>
<path d="M921.6,960.2 Q939.6,973.2 957.6,960.2" fill="none" stroke="#dc9a58" stroke-width="15.5" stroke-linecap="round"/><path d="M921.6,959.6 Q939.6,972.6 957.6,959.6" fill="none" stroke="#fcc985" stroke-width="12.09" stroke-linecap="round"/><path d="M921.6,958.6 Q939.6,971.6 957.6,958.6" fill="none" stroke="#ffe1b2" stroke-width="6.51" stroke-linecap="round"/>
<path d="M847.1,994.2 Q865.1,970.2 883.1,994.2" fill="none" stroke="#dc9a58" stroke-width="15.5" stroke-linecap="round"/><path d="M847.1,993.6 Q865.1,969.6 883.1,993.6" fill="none" stroke="#fcc985" stroke-width="12.09" stroke-linecap="round"/><path d="M847.1,992.6 Q865.1,968.6 883.1,992.6" fill="none" stroke="#ffe1b2" stroke-width="6.51" stroke-linecap="round"/>
<path d="M897.1,994.2 Q915.1,970.2 933.1,994.2" fill="none" stroke="#dc9a58" stroke-width="15.5" stroke-linecap="round"/><path d="M897.1,993.6 Q915.1,969.6 933.1,993.6" fill="none" stroke="#fcc985" stroke-width="12.09" stroke-linecap="round"/><path d="M897.1,992.6 Q915.1,968.6 933.1,992.6" fill="none" stroke="#ffe1b2" stroke-width="6.51" stroke-linecap="round"/>
<path d="M947.1,994.2 Q965.1,970.2 983.1,994.2" fill="none" stroke="#dc9a58" stroke-width="15.5" stroke-linecap="round"/><path d="M947.1,993.6 Q965.1,969.6 983.1,993.6" fill="none" stroke="#fcc985" stroke-width="12.09" stroke-linecap="round"/><path d="M947.1,992.6 Q965.1,968.6 983.1,992.6" fill="none" stroke="#ffe1b2" stroke-width="6.51" stroke-linecap="round"/>
<path d="M847.1,1032.2 Q865.1,1004.2 883.1,1032.2" fill="none" stroke="#dc9a58" stroke-width="15.5" stroke-linecap="round"/><path d="M847.1,1031.6 Q865.1,1003.6 883.1,1031.6" fill="none" stroke="#fcc985" stroke-width="12.09" stroke-linecap="round"/><path d="M847.1,1030.6 Q865.1,1002.6 883.1,1030.6" fill="none" stroke="#ffe1b2" stroke-width="6.51" stroke-linecap="round"/>
<path d="M897.1,1032.2 Q915.1,1004.2 933.1,1032.2" fill="none" stroke="#dc9a58" stroke-width="15.5" stroke-linecap="round"/><path d="M897.1,1031.6 Q915.1,1003.6 933.1,1031.6" fill="none" stroke="#fcc985" stroke-width="12.09" stroke-linecap="round"/><path d="M897.1,1030.6 Q915.1,1002.6 933.1,1030.6" fill="none" stroke="#ffe1b2" stroke-width="6.51" stroke-linecap="round"/>
<path d="M947.1,1032.2 Q965.1,1004.2 983.1,1032.2" fill="none" stroke="#dc9a58" stroke-width="15.5" stroke-linecap="round"/><path d="M947.1,1031.6 Q965.1,1003.6 983.1,1031.6" fill="none" stroke="#fcc985" stroke-width="12.09" stroke-linecap="round"/><path d="M947.1,1030.6 Q965.1,1002.6 983.1,1030.6" fill="none" stroke="#ffe1b2" stroke-width="6.51" stroke-linecap="round"/>
<path d="M872.1,995.2 Q890.1,1011.2 908.1,995.2" fill="none" stroke="#d9620f" stroke-width="15.5" stroke-linecap="round"/><path d="M872.1,994.6 Q890.1,1010.6 908.1,994.6" fill="none" stroke="#f2801f" stroke-width="12.09" stroke-linecap="round"/><path d="M872.1,993.6 Q890.1,1009.6 908.1,993.6" fill="none" stroke="#fca35a" stroke-width="6.51" stroke-linecap="round"/>
<path d="M921.6,995.2 Q939.6,1011.2 957.6,995.2" fill="none" stroke="#d9620f" stroke-width="15.5" stroke-linecap="round"/><path d="M921.6,994.6 Q939.6,1010.6 957.6,994.6" fill="none" stroke="#f2801f" stroke-width="12.09" stroke-linecap="round"/><path d="M921.6,993.6 Q939.6,1009.6 957.6,993.6" fill="none" stroke="#fca35a" stroke-width="6.51" stroke-linecap="round"/>
</g>
<rect x="857.4" y="949.5" width="115.7" height="83.0" fill="none" stroke="#f0712a" stroke-width="5.3"/>
<text x="913.0" y="1057.3" font-size="26.8" fill="#f0712a" text-anchor="middle" >garter</text>
<circle cx="1038.4" cy="1074.5" r="18.3" fill="#8e2a8e"/>
<g clip-path="url(#ic8)">
<rect x="983.9" y="1114.6" width="110.4" height="77.7" fill="#e7b9e6"/>
<path d="M1011.4,1142.6 l4,8 l-4,8 l-4,-8 z" fill="#bcbcbc"/>
<path d="M1064.9,1119.6 l4,8 l-4,8 l-4,-8 z" fill="#bcbcbc"/>
<path d="M1066.4,1164.6 l4,8 l-4,8 l-4,-8 z" fill="#bcbcbc"/>
<ellipse cx="0" cy="0" rx="6.5" ry="16.7" fill="url(#gLPv)" transform="translate(999.9,1116.6) rotate(128.7)"/>
<ellipse cx="0" cy="0" rx="6.5" ry="16.7" fill="url(#gLPv)" transform="translate(1023.9,1116.6) rotate(-128.7)"/>
<ellipse cx="0" cy="0" rx="6.0" ry="14.8" fill="url(#gLPv)" transform="translate(1058.9,1144.6) rotate(153.4)"/>
<ellipse cx="0" cy="0" rx="6.0" ry="14.8" fill="url(#gLPv)" transform="translate(1073.9,1144.6) rotate(-153.4)"/>
<ellipse cx="0" cy="0" rx="6.0" ry="14.4" fill="url(#gLPv)" transform="translate(1057.9,1185.6) rotate(146.3)"/>
<ellipse cx="0" cy="0" rx="6.0" ry="14.4" fill="url(#gLPv)" transform="translate(1074.9,1185.6) rotate(-146.3)"/>
<ellipse cx="0" cy="0" rx="6.0" ry="14.3" fill="url(#gDPv)" transform="translate(1003.4,1160.1) rotate(142.6)"/>
<ellipse cx="0" cy="0" rx="6.0" ry="14.3" fill="url(#gDPv)" transform="translate(1020.4,1160.1) rotate(-142.6)"/>
<ellipse cx="0" cy="0" rx="6.0" ry="15.3" fill="url(#gDPv)" transform="translate(1049.9,1141.6) rotate(110.0)"/>
<ellipse cx="0" cy="0" rx="6.0" ry="13.9" fill="url(#gDPv)" transform="translate(1080.4,1141.6) rotate(-112.8)"/>
<path d="M986.9,1161.6 Q1009.9,1123.1 1040.9,1158.6" fill="none" stroke="#d89ad6" stroke-width="14" stroke-linecap="round"/><path d="M986.9,1161.0 Q1009.9,1122.5 1040.9,1158.0" fill="none" stroke="#f5cdf4" stroke-width="10.92" stroke-linecap="round"/><path d="M986.9,1160.2 Q1009.9,1121.7 1040.9,1157.2" fill="none" stroke="#fde6fd" stroke-width="5.88" stroke-linecap="round"/>
<path d="M989.9,1137.6 Q1011.9,1120.6 1033.9,1137.6" fill="none" stroke="#7a1f78" stroke-width="15" stroke-linecap="round"/><path d="M989.9,1137.0 Q1011.9,1120.0 1033.9,1137.0" fill="none" stroke="#a23ea0" stroke-width="11.700000000000001" stroke-linecap="round"/><path d="M989.9,1136.1 Q1011.9,1119.1 1033.9,1136.1" fill="none" stroke="#c064be" stroke-width="6.3" stroke-linecap="round"/>
<path d="M1041.9,1128.6 Q1065.9,1108.6 1089.9,1128.6" fill="none" stroke="#d89ad6" stroke-width="15" stroke-linecap="round"/><path d="M1041.9,1128.0 Q1065.9,1108.0 1089.9,1128.0" fill="none" stroke="#f5cdf4" stroke-width="11.700000000000001" stroke-linecap="round"/><path d="M1041.9,1127.1 Q1065.9,1107.1 1089.9,1127.1" fill="none" stroke="#fde6fd" stroke-width="6.3" stroke-linecap="round"/>
<path d="M1035.9,1175.6 Q1065.9,1148.6 1095.9,1177.6" fill="none" stroke="#7a1f78" stroke-width="15" stroke-linecap="round"/><path d="M1035.9,1175.0 Q1065.9,1148.0 1095.9,1177.0" fill="none" stroke="#a23ea0" stroke-width="11.700000000000001" stroke-linecap="round"/><path d="M1035.9,1174.1 Q1065.9,1147.1 1095.9,1176.1" fill="none" stroke="#c064be" stroke-width="6.3" stroke-linecap="round"/>
<path d="M1044.9,1160.6 Q1066.4,1143.6 1087.9,1160.6" fill="none" stroke="#d89ad6" stroke-width="15" stroke-linecap="round"/><path d="M1044.9,1160.0 Q1066.4,1143.0 1087.9,1160.0" fill="none" stroke="#f5cdf4" stroke-width="11.700000000000001" stroke-linecap="round"/><path d="M1044.9,1159.1 Q1066.4,1142.1 1087.9,1159.1" fill="none" stroke="#fde6fd" stroke-width="6.3" stroke-linecap="round"/>
<path d="M988.9,1184.6 Q1011.9,1168.6 1034.9,1184.6" fill="none" stroke="#d89ad6" stroke-width="15" stroke-linecap="round"/><path d="M988.9,1184.0 Q1011.9,1168.0 1034.9,1184.0" fill="none" stroke="#f5cdf4" stroke-width="11.700000000000001" stroke-linecap="round"/><path d="M988.9,1183.1 Q1011.9,1167.1 1034.9,1183.1" fill="none" stroke="#fde6fd" stroke-width="6.3" stroke-linecap="round"/>
</g>
<rect x="981.2" y="1112.0" width="115.7" height="83.0" fill="none" stroke="#8e2a8e" stroke-width="5.3"/>
<text x="1035.5" y="1222.8" font-size="26.8" fill="#8e2a8e" text-anchor="middle" >seed</text>
<rect x="176.3" y="30.5" width="988.1000000000001" height="617.4" fill="none" stroke="#000" stroke-width="5.0" stroke-linejoin="miter"/>
<path d="M176.3,647.9V628.4M176.3,30.5V50.0M299.8,647.9V638.4M299.8,30.5V40.0M423.3,647.9V628.4M423.3,30.5V50.0M546.8,647.9V638.4M546.8,30.5V40.0M670.4,647.9V628.4M670.4,30.5V50.0M793.9,647.9V638.4M793.9,30.5V40.0M917.4,647.9V628.4M917.4,30.5V50.0M1040.9,647.9V638.4M1040.9,30.5V40.0M1164.4,647.9V628.4M1164.4,30.5V50.0M176.3,647.9H195.8M1164.4,647.9H1144.9M176.3,598.1H185.8M1164.4,598.1H1154.9M176.3,548.3H185.8M1164.4,548.3H1154.9M176.3,498.5H185.8M1164.4,498.5H1154.9M176.3,448.8H195.8M1164.4,448.8H1144.9M176.3,399.0H185.8M1164.4,399.0H1154.9M176.3,349.2H185.8M1164.4,349.2H1154.9M176.3,299.4H185.8M1164.4,299.4H1154.9M176.3,249.6H195.8M1164.4,249.6H1144.9M176.3,199.8H185.8M1164.4,199.8H1154.9M176.3,150.0H185.8M1164.4,150.0H1154.9M176.3,100.2H185.8M1164.4,100.2H1154.9M176.3,50.4H195.8M1164.4,50.4H1144.9" stroke="#000" stroke-width="5.0" fill="none"/>
<rect x="180.3" y="800.1" width="984.9000000000001" height="607.1" fill="none" stroke="#000" stroke-width="5.0" stroke-linejoin="miter"/>
<path d="M180.3,1407.2V1388.0M180.3,800.1V819.3M303.3,1407.2V1398.0M303.3,800.1V809.3M426.3,1407.2V1388.0M426.3,800.1V819.3M549.3,1407.2V1398.0M549.3,800.1V809.3M672.3,1407.2V1388.0M672.3,800.1V819.3M795.3,1407.2V1398.0M795.3,800.1V809.3M918.3,1407.2V1388.0M918.3,800.1V819.3M1041.3,1407.2V1398.0M1041.3,800.1V809.3M1164.3,1407.2V1388.0M1164.3,800.1V819.3M180.3,1407.2H199.5M1165.2,1407.2H1146.0M180.3,1358.2H189.5M1165.2,1358.2H1156.0M180.3,1309.3H189.5M1165.2,1309.3H1156.0M180.3,1260.3H189.5M1165.2,1260.3H1156.0M180.3,1211.3H199.5M1165.2,1211.3H1146.0M180.3,1162.4H189.5M1165.2,1162.4H1156.0M180.3,1113.4H189.5M1165.2,1113.4H1156.0M180.3,1064.5H189.5M1165.2,1064.5H1156.0M180.3,1015.5H199.5M1165.2,1015.5H1146.0M180.3,966.5H189.5M1165.2,966.5H1156.0M180.3,917.6H189.5M1165.2,917.6H1156.0M180.3,868.6H189.5M1165.2,868.6H1156.0M180.3,819.6H199.5M1165.2,819.6H1146.0" stroke="#000" stroke-width="5.0" fill="none"/>
<text x="175.3" y="680.3" font-size="36" fill="#000" text-anchor="middle" >0.0</text>
<text x="179.3" y="1439.5" font-size="36" fill="#000" text-anchor="middle" >0.0</text>
<text x="422.3" y="680.3" font-size="36" fill="#000" text-anchor="middle" >0.5</text>
<text x="425.3" y="1439.5" font-size="36" fill="#000" text-anchor="middle" >0.5</text>
<text x="669.4" y="680.3" font-size="36" fill="#000" text-anchor="middle" >1.0</text>
<text x="671.3" y="1439.5" font-size="36" fill="#000" text-anchor="middle" >1.0</text>
<text x="916.4" y="680.3" font-size="36" fill="#000" text-anchor="middle" >1.5</text>
<text x="917.3" y="1439.5" font-size="36" fill="#000" text-anchor="middle" >1.5</text>
<text x="1163.4" y="680.3" font-size="36" fill="#000" text-anchor="middle" >2.0</text>
<text x="1163.3" y="1439.5" font-size="36" fill="#000" text-anchor="middle" >2.0</text>
<text x="168.5" y="655.6" font-size="36" fill="#000" text-anchor="end" >0.0</text>
<text x="172.7" y="1414.4" font-size="36" fill="#000" text-anchor="end" >0.0</text>
<text x="168.5" y="456.4" font-size="36" fill="#000" text-anchor="end" >0.1</text>
<text x="172.7" y="1218.5" font-size="36" fill="#000" text-anchor="end" >0.1</text>
<text x="168.5" y="257.3" font-size="36" fill="#000" text-anchor="end" >0.2</text>
<text x="172.7" y="1022.7" font-size="36" fill="#000" text-anchor="end" >0.2</text>
<text x="168.5" y="58.2" font-size="36" fill="#000" text-anchor="end" >0.3</text>
<text x="172.7" y="826.9" font-size="36" fill="#000" text-anchor="end" >0.3</text>
<text x="669.5" y="732.5" font-size="36" text-anchor="middle"><tspan font-style="italic">ε</tspan><tspan font-size="26" dy="6.5">xx</tspan></text>
<text x="671.5" y="1491.8" font-size="36" text-anchor="middle"><tspan font-style="italic">ε</tspan><tspan font-size="26" dy="6.5">yy</tspan></text>
<g transform="translate(100.5,441.1) rotate(-90)"><text x="-1.0" y="0" font-size="31" font-style="italic">σ</text><text x="18.4" y="5.5" font-size="24" letter-spacing="2.5" >xx</text><text x="63.5" y="0" font-size="36.5">[</text><text x="73.2" y="0" font-size="35">N</text><text x="105.5" y="0" font-size="33.2">mm</text><text x="162.2" y="-9.7" font-size="32">−</text><text x="183.4" y="-13.8" font-size="25">1</text><text x="198.8" y="0" font-size="36.5">]</text></g>
<g transform="translate(102,1208.3) rotate(-90)"><text x="-1.0" y="0" font-size="31" font-style="italic">σ</text><text x="18.4" y="5.5" font-size="24" letter-spacing="2.5" font-style="italic">yy</text><text x="63.5" y="0" font-size="36.5">[</text><text x="73.2" y="0" font-size="35">N</text><text x="105.5" y="0" font-size="33.2">mm</text><text x="162.2" y="-9.7" font-size="32">−</text><text x="183.4" y="-13.8" font-size="25">1</text><text x="198.8" y="0" font-size="36.5">]</text></g>
<text x="2.3" y="42.8" font-size="36" fill="#000" text-anchor="start" font-weight="bold">a</text>
<text x="0.0" y="831.2" font-size="36" fill="#000" text-anchor="start" font-weight="bold">b</text>
<text x="1244.0" y="31.6" font-size="37" fill="#000" text-anchor="start" font-weight="bold">c</text>
<g clip-path="url(#clipC)">
<polygon points="1503.2,82.2 1510.5,68.8 1496.0,68.8" fill="#0a4c6f" />
<g stroke="#0a4c6f" stroke-width="1.9" fill="none"><circle cx="1577.0" cy="571.5" r="8.2"/><path d="M1570.6,565.1L1583.4,577.9M1583.4,565.1L1570.6,577.9"/></g>
<g><circle cx="1641.0" cy="705.5" r="8.2" stroke="#0a4c6f" stroke-width="1.9" fill="none"/><circle cx="1641.0" cy="705.5" r="1.8" fill="#0a4c6f"/></g>
<g><circle cx="1449.3" cy="869.0" r="8.2" stroke="#71953e" stroke-width="1.9" fill="none"/><circle cx="1449.3" cy="869.0" r="1.8" fill="#71953e"/></g>
<g stroke="#0a4c6f" stroke-width="1.9" fill="none"><circle cx="1485.9" cy="995.3" r="8.2"/><path d="M1476.8,995.3H1495.0M1485.9,986.2V1004.4"/></g>
<polygon points="1557.9,989.0 1560.5,995.9 1567.9,996.3 1562.1,1000.9 1564.1,1008.0 1557.9,1003.9 1551.7,1008.0 1553.7,1000.9 1547.9,996.3 1555.3,995.9" fill="#0a4c6f" />
<g fill="none" stroke="#71953e" stroke-width="1.3" stroke-dasharray="2.2 0.9"><polygon points="1401.1,1011.9 1415.9,1011.2 1415.5,1024.2 1401.8,1023.4"/><polygon points="1408.5,1007.5 1418.5,1017.5 1408.5,1027.5 1398.5,1017.5"/><polygon points="1400.5,1015.5 1416.0,1014.0 1409.5,1025.0"/></g>
<g fill="none" stroke="#0a4c6f" stroke-width="1.3" stroke-dasharray="2.2 0.9"><polygon points="1400.1,1011.6 1414.9,1010.9 1414.5,1023.9 1400.8,1023.1"/><polygon points="1407.5,1007.2 1417.5,1017.2 1407.5,1027.2 1397.5,1017.2"/><polygon points="1399.5,1015.2 1415.0,1013.7 1408.5,1024.7"/></g>
<polygon points="1413.4,1028.3 1420.7,1014.9 1406.2,1014.9" fill="#71953e" />
<polygon points="1456.9,1095.5 1464.2,1082.0 1449.7,1082.0" fill="#8e2a8e" />
<g fill="#0a4c6f"><circle cx="1434.8" cy="1112.4" r="4.4"/><circle cx="1430.2" cy="1117.4" r="4.4"/><circle cx="1439.4" cy="1117.4" r="4.4"/><path d="M1433.7,1116.5L1433.0,1124.3H1436.6L1435.9,1116.5Z"/><path d="M1431.1,1124.3H1438.5V1125.0H1431.1Z"/></g>
<g fill="#0a4c6f"><path d="M1460.1,1123.8 C1462.0,1127.7 1469.5,1131.0 1468.7,1135.3 C1467.9,1138.4 1462.4,1138.4 1460.9,1135.7 L1462.0,1140.4 H1464.0 V1141.8 H1456.2 V1140.4 H1458.1 L1459.3,1135.7 C1457.8,1138.4 1452.3,1138.4 1451.5,1135.3 C1450.7,1131.0 1458.1,1127.7 1460.1,1123.8Z"/></g>
<g><circle cx="1589.3" cy="1181.4" r="8.2" stroke="#8e2a8e" stroke-width="1.9" fill="none"/><circle cx="1589.3" cy="1181.4" r="1.8" fill="#8e2a8e"/></g>
<g stroke="#71953e" stroke-width="1.9" fill="none"><circle cx="1413.3" cy="1192.0" r="8.2"/><path d="M1406.9,1185.6L1419.7,1198.4M1419.7,1185.6L1406.9,1198.4"/></g>
<polygon points="1475.9,1212.7 1483.2,1199.2 1468.7,1199.2" fill="#f0712a" />
<polygon points="1541.9,1219.0 1544.5,1225.9 1551.9,1226.3 1546.1,1230.9 1548.1,1238.0 1541.9,1233.9 1535.7,1238.0 1537.7,1230.9 1531.9,1226.3 1539.3,1225.9" fill="#8e2a8e" />
<polygon points="1423.5,1248.3 1426.1,1255.2 1433.5,1255.6 1427.7,1260.2 1429.7,1267.3 1423.5,1263.2 1417.3,1267.3 1419.3,1260.2 1413.5,1255.6 1420.9,1255.2" fill="#71953e" />
<polygon points="1517.4,1254.9 1520.0,1261.8 1527.4,1262.2 1521.6,1266.8 1523.6,1273.9 1517.4,1269.8 1511.2,1273.9 1513.2,1266.8 1507.4,1262.2 1514.8,1261.8" fill="#f0712a" />
<g fill="#71953e"><path d="M1411.0,1269.7 C1413.0,1273.6 1420.4,1276.9 1419.6,1281.2 C1418.8,1284.3 1413.3,1284.3 1411.8,1281.6 L1413.0,1286.3 H1414.9 V1287.7 H1407.1 V1286.3 H1409.0 L1410.2,1281.6 C1408.7,1284.3 1403.2,1284.3 1402.4,1281.2 C1401.6,1276.9 1409.0,1273.6 1411.0,1269.7Z"/></g>
<g fill="#71953e"><circle cx="1405.0" cy="1278.9" r="4.4"/><circle cx="1400.4" cy="1283.9" r="4.4"/><circle cx="1409.6" cy="1283.9" r="4.4"/><path d="M1403.9,1283.0L1403.2,1290.8H1406.8L1406.1,1283.0Z"/><path d="M1401.3,1290.8H1408.7V1291.5H1401.3Z"/></g>
<g><circle cx="1557.6" cy="1314.2" r="8.2" stroke="#f0712a" stroke-width="1.9" fill="none"/><circle cx="1557.6" cy="1314.2" r="1.8" fill="#f0712a"/></g>
<g fill="none" stroke="#f0712a" stroke-width="1.3" stroke-dasharray="2.2 0.9"><polygon points="1414.1,1317.4 1428.9,1316.7 1428.5,1329.7 1414.8,1328.9"/><polygon points="1421.5,1313.0 1431.5,1323.0 1421.5,1333.0 1411.5,1323.0"/><polygon points="1413.5,1321.0 1429.0,1319.5 1422.5,1330.5"/></g>
<g stroke="#8e2a8e" stroke-width="1.9" fill="none"><circle cx="1453.0" cy="1328.7" r="8.2"/><path d="M1443.9,1328.7H1462.1M1453.0,1319.6V1337.8"/></g>
<g fill="#8e2a8e"><path d="M1495.3,1312.3 C1497.2,1316.2 1504.7,1319.5 1503.9,1323.8 C1503.1,1326.9 1497.6,1326.9 1496.1,1324.2 L1497.2,1328.9 H1499.2 V1330.3 H1491.4 V1328.9 H1493.3 L1494.5,1324.2 C1493.0,1326.9 1487.5,1326.9 1486.7,1323.8 C1485.9,1319.5 1493.3,1316.2 1495.3,1312.3Z"/></g>
<g stroke="#71953e" stroke-width="1.9" fill="none"><circle cx="1400.0" cy="1337.8" r="8.2"/><path d="M1390.9,1337.8H1409.1M1400.0,1328.7V1346.9"/></g>
<g fill="none" stroke="#8e2a8e" stroke-width="1.3" stroke-dasharray="2.2 0.9"><polygon points="1411.6,1334.0 1426.4,1333.3 1426.0,1346.3 1412.3,1345.5"/><polygon points="1419.0,1329.6 1429.0,1339.6 1419.0,1349.6 1409.0,1339.6"/><polygon points="1411.0,1337.6 1426.5,1336.1 1420.0,1347.1"/></g>
<g fill="#f0712a"><circle cx="1425.0" cy="1336.9" r="4.4"/><circle cx="1420.4" cy="1341.9" r="4.4"/><circle cx="1429.6" cy="1341.9" r="4.4"/><path d="M1423.9,1341.0L1423.2,1348.8H1426.8L1426.1,1341.0Z"/><path d="M1421.3,1348.8H1428.7V1349.5H1421.3Z"/></g>
<g fill="#8e2a8e"><circle cx="1438.5" cy="1335.5" r="4.4"/><circle cx="1433.9" cy="1340.5" r="4.4"/><circle cx="1443.1" cy="1340.5" r="4.4"/><path d="M1437.4,1339.6L1436.7,1347.4H1440.3L1439.6,1339.6Z"/><path d="M1434.8,1347.4H1442.2V1348.1H1434.8Z"/></g>
<g fill="#f0712a"><path d="M1458.6,1341.4 C1460.5,1345.3 1468.0,1348.6 1467.2,1352.9 C1466.4,1356.0 1460.9,1356.0 1459.4,1353.3 L1460.5,1358.0 H1462.5 V1359.4 H1454.7 V1358.0 H1456.6 L1457.8,1353.3 C1456.3,1356.0 1450.8,1356.0 1450.0,1352.9 C1449.2,1348.6 1456.6,1345.3 1458.6,1341.4Z"/></g>
<g stroke="#8e2a8e" stroke-width="1.9" fill="none"><circle cx="1542.3" cy="1355.9" r="8.2"/><path d="M1535.9,1349.5L1548.7,1362.3M1548.7,1349.5L1535.9,1362.3"/></g>
<g stroke="#f0712a" stroke-width="1.9" fill="none"><circle cx="1442.0" cy="1371.1" r="8.2"/><path d="M1432.9,1371.1H1451.1M1442.0,1362.0V1380.2"/></g>
<g stroke="#f0712a" stroke-width="1.9" fill="none"><circle cx="1631.1" cy="1337.8" r="8.2"/><path d="M1624.7,1331.4L1637.5,1344.2M1637.5,1331.4L1624.7,1344.2"/></g>
<ellipse cx="0" cy="0" rx="66.3" ry="340.2" fill="#0a4c6f" fill-opacity="0.3" transform="translate(1508.2,825.3) rotate(5.35)"/>
<ellipse cx="0" cy="0" rx="8.8" ry="152" fill="#71953e" fill-opacity="0.3" transform="translate(1412.8,1189) rotate(5.3)"/>
<ellipse cx="0" cy="0" rx="52.5" ry="92.6" fill="#8e2a8e" fill-opacity="0.3" transform="translate(1491.5,1271.9) rotate(14.95)"/>
<ellipse cx="0" cy="0" rx="68" ry="49.2" fill="#f0712a" fill-opacity="0.3" transform="translate(1491.5,1312.3) rotate(-4)"/>
<path d="M1396.2,1394.2L1961.4,827.6" stroke="#808080" stroke-width="5" stroke-dasharray="10.5 14.9" stroke-dashoffset="-4.2"/>
</g>
<rect x="1396.2" y="34.6" width="565.8" height="1359.6000000000001" fill="none" stroke="#000" stroke-width="4.8" stroke-linejoin="miter"/>
<path d="M1396.2,1394.2V1380.8M1396.2,34.6V48.0M1424.5,1394.2V1386.2M1424.5,34.6V42.6M1452.7,1394.2V1386.2M1452.7,34.6V42.6M1481.0,1394.2V1386.2M1481.0,34.6V42.6M1509.2,1394.2V1380.8M1509.2,34.6V48.0M1537.5,1394.2V1386.2M1537.5,34.6V42.6M1565.8,1394.2V1386.2M1565.8,34.6V42.6M1594.0,1394.2V1386.2M1594.0,34.6V42.6M1622.3,1394.2V1380.8M1622.3,34.6V48.0M1650.5,1394.2V1386.2M1650.5,34.6V42.6M1678.8,1394.2V1386.2M1678.8,34.6V42.6M1707.1,1394.2V1386.2M1707.1,34.6V42.6M1735.3,1394.2V1380.8M1735.3,34.6V48.0M1763.6,1394.2V1386.2M1763.6,34.6V42.6M1791.8,1394.2V1386.2M1791.8,34.6V42.6M1820.1,1394.2V1386.2M1820.1,34.6V42.6M1848.4,1394.2V1380.8M1848.4,34.6V48.0M1876.6,1394.2V1386.2M1876.6,34.6V42.6M1904.9,1394.2V1386.2M1904.9,34.6V42.6M1933.1,1394.2V1386.2M1933.1,34.6V42.6M1961.4,1394.2V1380.8M1961.4,34.6V48.0M1396.2,1394.2H1409.6M1962.0,1394.2H1948.6M1396.2,1337.5H1404.2M1962.0,1337.5H1954.0M1396.2,1280.9H1404.2M1962.0,1280.9H1954.0M1396.2,1224.2H1404.2M1962.0,1224.2H1954.0M1396.2,1167.6H1404.2M1962.0,1167.6H1954.0M1396.2,1110.9H1409.6M1962.0,1110.9H1948.6M1396.2,1054.2H1404.2M1962.0,1054.2H1954.0M1396.2,997.6H1404.2M1962.0,997.6H1954.0M1396.2,940.9H1404.2M1962.0,940.9H1954.0M1396.2,884.3H1404.2M1962.0,884.3H1954.0M1396.2,827.6H1409.6M1962.0,827.6H1948.6M1396.2,770.9H1404.2M1962.0,770.9H1954.0M1396.2,714.3H1404.2M1962.0,714.3H1954.0M1396.2,657.6H1404.2M1962.0,657.6H1954.0M1396.2,601.0H1404.2M1962.0,601.0H1954.0M1396.2,544.3H1409.6M1962.0,544.3H1948.6M1396.2,487.6H1404.2M1962.0,487.6H1954.0M1396.2,431.0H1404.2M1962.0,431.0H1954.0M1396.2,374.3H1404.2M1962.0,374.3H1954.0M1396.2,317.7H1404.2M1962.0,317.7H1954.0M1396.2,261.0H1409.6M1962.0,261.0H1948.6M1396.2,204.3H1404.2M1962.0,204.3H1954.0M1396.2,147.7H1404.2M1962.0,147.7H1954.0M1396.2,91.0H1404.2M1962.0,91.0H1954.0M1396.2,34.4H1404.2M1962.0,34.4H1954.0" stroke="#000" stroke-width="4.4" fill="none"/>
<text x="1395.2" y="1431.3" font-size="36" fill="#000" text-anchor="middle" >0</text>
<text x="1508.2" y="1431.3" font-size="36" fill="#000" text-anchor="middle" >20</text>
<text x="1621.3" y="1431.3" font-size="36" fill="#000" text-anchor="middle" >40</text>
<text x="1734.3" y="1431.3" font-size="36" fill="#000" text-anchor="middle" >60</text>
<text x="1847.4" y="1431.3" font-size="36" fill="#000" text-anchor="middle" >80</text>
<text x="1960.4" y="1431.3" font-size="36" fill="#000" text-anchor="middle" >100</text>
<text x="1386.5" y="1404.2" font-size="36" fill="#000" text-anchor="end" >0</text>
<text x="1386.5" y="1120.9" font-size="36" fill="#000" text-anchor="end" >50</text>
<text x="1386.5" y="837.6" font-size="36" fill="#000" text-anchor="end" >100</text>
<text x="1386.5" y="554.3" font-size="36" fill="#000" text-anchor="end" >150</text>
<text x="1386.5" y="271.0" font-size="36" fill="#000" text-anchor="end" >200</text>
<g transform="translate(1605.9,1489.7)"><text x="0" y="0" font-size="35.6">Y</text><text x="20.1" y="6.2" font-size="22.7">x</text><text x="37.3" y="-4.3" font-size="24" font-weight="bold" fill="#222" stroke="#222" stroke-width="0.7">×</text><text x="53.1" y="0" font-size="35.6">L</text><text x="74.0" y="-4.3" font-size="24" font-weight="bold" fill="#222" stroke="#222" stroke-width="0.7">×</text><text x="89.8" y="0" font-size="35.6">A/B</text></g>
<g transform="translate(1291.2,784.5) rotate(-90)"><text x="0" y="0" font-size="35.6">Y</text><text x="20.1" y="6.2" font-size="22.7">y</text><text x="37.3" y="-4.3" font-size="24" font-weight="bold" fill="#222" stroke="#222" stroke-width="0.7">×</text><text x="53.1" y="0" font-size="35.6">L</text><text x="74.0" y="-4.3" font-size="24" font-weight="bold" fill="#222" stroke="#222" stroke-width="0.7">×</text><text x="89.8" y="0" font-size="35.6">A/B</text></g>
<g stroke="#000" stroke-width="1.9" fill="none"><circle cx="1643.4" cy="121.0" r="10.2"/><path d="M1635.5,113.1L1651.3,128.9M1651.3,113.1L1635.5,128.9"/></g>
<text x="1690.0" y="124.6" font-size="25.8" fill="#000" text-anchor="start" >Acrylic</text>
<g stroke="#000" stroke-width="1.9" fill="none"><circle cx="1643.4" cy="177.6" r="10.2"/><path d="M1632.3,177.6H1654.5M1643.4,166.5V188.7"/></g>
<text x="1690.0" y="181.6" font-size="25.8" fill="#000" text-anchor="start" >Cotton</text>
<g><circle cx="1643.4" cy="233.0" r="10.2" stroke="#000" stroke-width="1.9" fill="none"/><circle cx="1643.4" cy="233.0" r="2.2" fill="#000"/></g>
<text x="1690.0" y="236.6" font-size="25.8" fill="#000" text-anchor="start" >Wool Blend (Glove)</text>
<polygon points="1643.4,296.7 1652.2,280.3 1634.6,280.3" fill="#000" />
<text x="1690.0" y="294.1" font-size="25.8" fill="#000" text-anchor="start" >Lace Acrylic</text>
<polygon points="1643.4,330.2 1646.6,338.6 1655.6,339.0 1648.5,344.7 1650.9,353.4 1643.4,348.4 1635.9,353.4 1638.3,344.7 1631.2,339.0 1640.2,338.6" fill="#000" />
<text x="1690.0" y="349.4" font-size="25.8" fill="#000" text-anchor="start" >Lace Blue Mohair</text>
<g fill="#000"><circle cx="1643.4" cy="394.2" r="5.4"/><circle cx="1637.8" cy="400.3" r="5.4"/><circle cx="1649.0" cy="400.3" r="5.4"/><path d="M1642.0,399.2L1641.1,408.7H1645.7L1644.8,399.2Z"/><path d="M1638.9,408.7H1647.9V409.6H1638.9Z"/></g>
<text x="1690.0" y="406.4" font-size="25.8" fill="#000" text-anchor="start" >Lace Cashmere</text>
<g fill="#000"><path d="M1643.4,443.9 C1645.8,448.7 1654.8,452.7 1653.9,457.9 C1652.9,461.7 1646.3,461.7 1644.4,458.4 L1645.8,464.1 H1648.2 V465.8 H1638.6 V464.1 H1641.0 L1642.4,458.4 C1640.5,461.7 1633.9,461.7 1632.9,457.9 C1632.0,452.7 1641.0,448.7 1643.4,443.9Z"/></g>
<text x="1690.0" y="462.7" font-size="25.8" fill="#000" text-anchor="start" >Lace Alpaca Mohair</text>
<g fill="none" stroke="#000" stroke-width="1.3" stroke-dasharray="2.2 0.9"><polygon points="1634.4,506.5 1652.4,505.6 1652.0,521.4 1635.3,520.5"/><polygon points="1643.4,501.1 1655.6,513.3 1643.4,525.5 1631.2,513.3"/><polygon points="1633.7,510.9 1652.5,509.0 1644.6,522.4"/></g>
<text x="1690.0" y="518.9" font-size="25.8" fill="#000" text-anchor="start" >Lace Bamboo</text></svg></body></html>
